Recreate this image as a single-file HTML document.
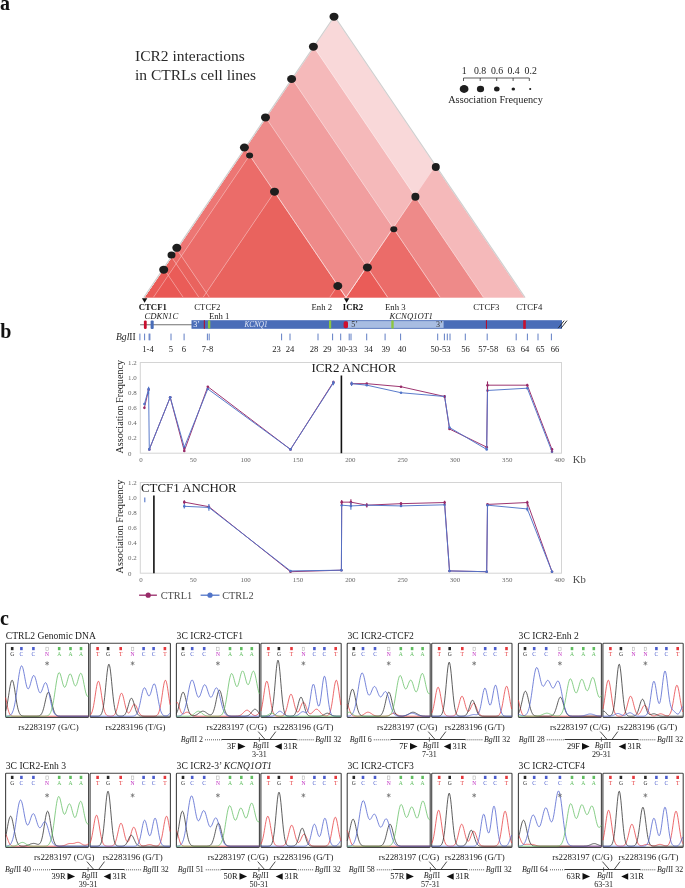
<!DOCTYPE html>
<html><head><meta charset="utf-8"><title>Figure</title>
<style>
html,body{margin:0;padding:0;background:#fff;}
body{width:685px;height:888px;overflow:hidden;position:relative;font-family:"Liberation Serif",serif;}
svg{position:absolute;left:0;top:0;}
svg text{font-family:"Liberation Serif",serif;}
</style></head><body>
<svg style="will-change:transform" width="685" height="888" viewBox="0 0 685 888" font-family="Liberation Serif">
<text x="0.00" y="9.60" font-size="20" fill="#111" text-anchor="start" font-weight="bold">a</text>
<text x="0.30" y="338.20" font-size="20" fill="#111" text-anchor="start" font-weight="bold">b</text>
<text x="0.00" y="624.50" font-size="20" fill="#111" text-anchor="start" font-weight="bold">c</text>
<path d="M163.70,268.58 L144.10,297.50 L153.30,297.50 L168.30,275.37 Z" fill="rgb(234, 92, 88)" stroke="rgb(234, 92, 88)" stroke-width="0.4"/>
<path d="M171.55,256.99 L163.70,268.58 L168.30,275.37 L176.15,263.78 Z" fill="rgb(233, 99, 94)" stroke="rgb(233, 99, 94)" stroke-width="0.4"/>
<path d="M176.80,249.25 L171.55,256.99 L176.15,263.78 L181.40,256.04 Z" fill="rgb(235, 108, 105)" stroke="rgb(235, 108, 105)" stroke-width="0.4"/>
<path d="M245.05,148.54 L176.80,249.25 L181.40,256.04 L249.65,155.33 Z" fill="rgb(237, 118, 116)" stroke="rgb(237, 118, 116)" stroke-width="0.4"/>
<path d="M265.95,117.70 L245.05,148.54 L249.65,155.33 L274.50,191.99 L337.80,285.40 L346.00,297.50 L366.90,266.66 Z" fill="rgb(238, 138, 137)" stroke="rgb(238, 138, 137)" stroke-width="0.4"/>
<path d="M292.20,78.96 L265.95,117.70 L366.90,266.66 L393.15,227.93 Z" fill="rgb(241, 158, 159)" stroke="rgb(241, 158, 159)" stroke-width="0.4"/>
<path d="M313.85,47.02 L292.20,78.96 L393.15,227.93 L414.80,195.98 Z" fill="rgb(245, 185, 186)" stroke="rgb(245, 185, 186)" stroke-width="0.4"/>
<path d="M435.38,165.62 L334.43,16.66 L313.85,47.02 L414.80,195.98 Z" fill="rgb(249, 216, 217)" stroke="rgb(249, 216, 217)" stroke-width="0.4"/>
<path d="M524.75,297.50 L435.38,165.62 L414.80,195.98 L483.60,297.50 Z" fill="rgb(245, 185, 186)" stroke="rgb(245, 185, 186)" stroke-width="0.4"/>
<path d="M440.30,297.50 L483.60,297.50 L414.80,195.98 L393.15,227.93 Z" fill="rgb(238, 138, 137)" stroke="rgb(238, 138, 137)" stroke-width="0.4"/>
<path d="M387.80,297.50 L440.30,297.50 L393.15,227.93 L366.90,266.66 Z" fill="rgb(235, 108, 105)" stroke="rgb(235, 108, 105)" stroke-width="0.4"/>
<path d="M346.00,297.50 L387.80,297.50 L366.90,266.66 Z" fill="rgb(234, 92, 88)" stroke="rgb(234, 92, 88)" stroke-width="0.4"/>
<path d="M329.60,297.50 L346.00,297.50 L337.80,285.40 Z" fill="rgb(234, 92, 88)" stroke="rgb(234, 92, 88)" stroke-width="0.4"/>
<path d="M209.50,297.50 L329.60,297.50 L337.80,285.40 L274.50,191.99 L206.25,292.70 Z" fill="rgb(233, 99, 94)" stroke="rgb(233, 99, 94)" stroke-width="0.4"/>
<path d="M203.00,297.50 L209.50,297.50 L206.25,292.70 Z" fill="rgb(234, 92, 88)" stroke="rgb(234, 92, 88)" stroke-width="0.4"/>
<path d="M199.00,297.50 L203.00,297.50 L206.25,292.70 L181.40,256.04 L176.15,263.78 Z" fill="rgb(233, 99, 94)" stroke="rgb(233, 99, 94)" stroke-width="0.4"/>
<path d="M183.30,297.50 L199.00,297.50 L176.15,263.78 L168.30,275.37 Z" fill="rgb(234, 92, 88)" stroke="rgb(234, 92, 88)" stroke-width="0.4"/>
<path d="M153.30,297.50 L183.30,297.50 L168.30,275.37 Z" fill="rgb(233, 88, 84)" stroke="rgb(233, 88, 84)" stroke-width="0.4"/>
<path d="M274.50,191.99 L249.65,155.33 L181.40,256.04 L206.25,292.70 Z" fill="rgb(235, 108, 105)" stroke="rgb(235, 108, 105)" stroke-width="0.4"/>
<path d="M144.10,297.5 L334.43,16.66 L524.75,297.5" fill="none" stroke="rgba(255,255,255,0.3)" stroke-width="1"/>
<path d="M144.10,297.5 L313.85,47.02 L483.60,297.5" fill="none" stroke="rgba(255,255,255,0.3)" stroke-width="1"/>
<path d="M144.10,297.5 L292.20,78.96 L440.30,297.5" fill="none" stroke="rgba(255,255,255,0.3)" stroke-width="1"/>
<path d="M144.10,297.5 L265.95,117.70 L387.80,297.5" fill="none" stroke="rgba(255,255,255,0.3)" stroke-width="1"/>
<path d="M144.10,297.5 L245.05,148.54 L346.00,297.5" fill="none" stroke="rgba(255,255,255,0.3)" stroke-width="1"/>
<path d="M144.10,297.5 L176.80,249.25 L209.50,297.5" fill="none" stroke="rgba(255,255,255,0.3)" stroke-width="1"/>
<path d="M144.10,297.5 L171.55,256.99 L199.00,297.5" fill="none" stroke="rgba(255,255,255,0.3)" stroke-width="1"/>
<path d="M144.10,297.5 L163.70,268.58 L183.30,297.5" fill="none" stroke="rgba(255,255,255,0.3)" stroke-width="1"/>
<path d="M153.30,297.5 L249.65,155.33 L346.00,297.5" fill="none" stroke="rgba(255,255,255,0.3)" stroke-width="1"/>
<path d="M203.00,297.5 L274.50,191.99 L346.00,297.5" fill="none" stroke="rgba(255,255,255,0.3)" stroke-width="1"/>
<path d="M329.60,297.5 L337.80,285.40 L346.00,297.5" fill="none" stroke="rgba(255,255,255,0.3)" stroke-width="1"/>
<path d="M346.00,297.5 L366.90,266.66 L387.80,297.5" fill="none" stroke="rgba(255,255,255,0.3)" stroke-width="1"/>
<path d="M346.00,297.5 L393.15,227.93 L440.30,297.5" fill="none" stroke="rgba(255,255,255,0.3)" stroke-width="1"/>
<path d="M346.00,297.5 L414.80,195.98 L483.60,297.5" fill="none" stroke="rgba(255,255,255,0.3)" stroke-width="1"/>
<path d="M346.00,297.5 L435.38,165.62 L524.75,297.5" fill="none" stroke="rgba(255,255,255,0.3)" stroke-width="1"/>
<path d="M143.80,297.5 L334.43,16.26 L525.05,297.5" fill="none" stroke="#d0d0d0" stroke-width="1.2"/>
<ellipse cx="334.00" cy="16.70" rx="4.5" ry="4.0" fill="#1e1e1e"/>
<ellipse cx="313.40" cy="46.70" rx="4.5" ry="4.0" fill="#1e1e1e"/>
<ellipse cx="291.60" cy="79.00" rx="4.5" ry="4.0" fill="#1e1e1e"/>
<ellipse cx="265.50" cy="117.40" rx="4.5" ry="4.0" fill="#1e1e1e"/>
<ellipse cx="244.40" cy="147.50" rx="4.5" ry="4.0" fill="#1e1e1e"/>
<ellipse cx="176.80" cy="247.80" rx="4.5" ry="4.0" fill="#1e1e1e"/>
<ellipse cx="171.50" cy="255.10" rx="4.0" ry="3.5" fill="#1e1e1e"/>
<ellipse cx="163.70" cy="269.70" rx="4.5" ry="4.0" fill="#1e1e1e"/>
<ellipse cx="249.60" cy="155.50" rx="3.5" ry="3.0" fill="#1e1e1e"/>
<ellipse cx="274.50" cy="191.70" rx="4.5" ry="4.0" fill="#1e1e1e"/>
<ellipse cx="337.80" cy="286.00" rx="4.5" ry="4.0" fill="#1e1e1e"/>
<ellipse cx="367.40" cy="267.40" rx="4.5" ry="4.0" fill="#1e1e1e"/>
<ellipse cx="393.80" cy="229.30" rx="3.5" ry="3.0" fill="#1e1e1e"/>
<ellipse cx="415.40" cy="196.80" rx="4.0" ry="4.0" fill="#1e1e1e"/>
<ellipse cx="435.80" cy="167.00" rx="4.0" ry="4.0" fill="#1e1e1e"/>
<text x="135.00" y="61.00" font-size="15.5" fill="#2a2a2a" text-anchor="start">ICR2 interactions</text>
<text x="135.00" y="79.70" font-size="15.5" fill="#2a2a2a" text-anchor="start">in CTRLs cell lines</text>
<text x="464.10" y="73.80" font-size="9.8" fill="#222" text-anchor="middle">1</text>
<text x="480.10" y="73.80" font-size="9.8" fill="#222" text-anchor="middle">0.8</text>
<text x="497.00" y="73.80" font-size="9.8" fill="#222" text-anchor="middle">0.6</text>
<text x="513.50" y="73.80" font-size="9.8" fill="#222" text-anchor="middle">0.4</text>
<text x="530.70" y="73.80" font-size="9.8" fill="#222" text-anchor="middle">0.2</text>
<path d="M463.5,81 V78 H529.3 V81 M480.2,78 V81 M496.7,78 V81 M513.1,78 V81" fill="none" stroke="#333" stroke-width="0.8"/>
<ellipse cx="464.1" cy="89" rx="4.4" ry="3.9600000000000004" fill="#1e1e1e"/>
<ellipse cx="480.5" cy="89" rx="3.6" ry="3.24" fill="#1e1e1e"/>
<ellipse cx="496.8" cy="89" rx="2.8" ry="2.52" fill="#1e1e1e"/>
<ellipse cx="513.3" cy="89" rx="1.75" ry="1.575" fill="#1e1e1e"/>
<ellipse cx="530.2" cy="89" rx="1.05" ry="0.9450000000000001" fill="#1e1e1e"/>
<text x="448.20" y="102.90" font-size="10.3" fill="#222" text-anchor="start">Association Frequency</text>
<path d="M144.6,302.8 L141.9,298.2 L147.3,298.2 Z" fill="#111"/>
<path d="M346.6,302.8 L343.9,298.2 L349.3,298.2 Z" fill="#111"/>
<text x="138.80" y="310.40" font-size="8.7" fill="#111" text-anchor="start" font-weight="bold">CTCF1</text>
<text x="144.40" y="318.60" font-size="8.7" fill="#222" text-anchor="start" font-style="italic">CDKN1C</text>
<text x="194.30" y="310.40" font-size="8.7" fill="#222" text-anchor="start">CTCF2</text>
<text x="208.90" y="318.60" font-size="8.7" fill="#222" text-anchor="start">Enh 1</text>
<text x="311.50" y="310.40" font-size="8.7" fill="#222" text-anchor="start">Enh 2</text>
<text x="342.80" y="310.40" font-size="8.7" fill="#111" text-anchor="start" font-weight="bold">ICR2</text>
<text x="385.00" y="310.40" font-size="8.7" fill="#222" text-anchor="start">Enh 3</text>
<text x="389.50" y="318.60" font-size="8.7" fill="#222" text-anchor="start" font-style="italic">KCNQ1OT1</text>
<text x="473.30" y="310.40" font-size="8.7" fill="#222" text-anchor="start">CTCF3</text>
<text x="516.20" y="310.40" font-size="8.7" fill="#222" text-anchor="start">CTCF4</text>
<line x1="140.1" y1="324.7" x2="192" y2="324.7" stroke="#707070" stroke-width="1.1"/>
<rect x="191.5" y="320.2" width="370.5" height="8.6" fill="#4a6db8"/>
<rect x="347.6" y="321.1" width="96" height="6.8" fill="#a8bde2"/>
<rect x="143.9" y="320.4" width="2.8" height="8.6" rx="1.2" fill="#c8102e"/>
<rect x="150.6" y="320.4" width="3.1" height="8.6" rx="1" fill="#4a6db8"/>
<rect x="203.8" y="320.2" width="1.1" height="8.6" fill="#b01030"/>
<rect x="207.9" y="320.2" width="2.4" height="8.6" rx="1.2" fill="#8cc63f"/>
<rect x="329" y="320.2" width="2.2" height="8.6" rx="1.1" fill="#8cc63f"/>
<rect x="343.6" y="321.2" width="4.4" height="7" rx="1.8" fill="#d0102e"/>
<rect x="391.3" y="320.2" width="2.4" height="8.6" rx="1.2" fill="#8cc63f"/>
<rect x="485.9" y="320.2" width="1.1" height="8.6" fill="#b01030"/>
<rect x="523.2" y="320.2" width="2.6" height="8.6" fill="#c8102e"/>
<path d="M558.2,328.2 L564.2,320.6 M561,328.2 L567,320.6" stroke="#222" stroke-width="0.9"/>
<text x="193.20" y="327.40" font-size="8" fill="#f0f4ff" text-anchor="start">3&#8217;</text>
<text x="351.20" y="327.40" font-size="8" fill="#333" text-anchor="start">5&#8217;</text>
<text x="436.00" y="327.40" font-size="8" fill="#333" text-anchor="start">3&#8217;</text>
<text x="256.00" y="327.30" font-size="7.2" fill="#e8ecf8" text-anchor="middle" font-style="italic">KCNQ1</text>
<text x="116.00" y="340.30" font-size="9.6" fill="#222" text-anchor="start"><tspan font-style="italic">Bgl</tspan>II</text>
<line x1="139.9" y1="333.6" x2="139.9" y2="340.3" stroke="#4f6fbd" stroke-width="0.9"/>
<line x1="144.6" y1="333.6" x2="144.6" y2="340.3" stroke="#4f6fbd" stroke-width="0.9"/>
<line x1="149.1" y1="333.6" x2="149.1" y2="340.3" stroke="#4f6fbd" stroke-width="0.9"/>
<line x1="149.9" y1="333.6" x2="149.9" y2="340.3" stroke="#4f6fbd" stroke-width="0.9"/>
<line x1="171" y1="333.6" x2="171" y2="340.3" stroke="#4f6fbd" stroke-width="0.9"/>
<line x1="184.1" y1="333.6" x2="184.1" y2="340.3" stroke="#4f6fbd" stroke-width="0.9"/>
<line x1="207.4" y1="333.6" x2="207.4" y2="340.3" stroke="#4f6fbd" stroke-width="0.9"/>
<line x1="209.2" y1="333.6" x2="209.2" y2="340.3" stroke="#4f6fbd" stroke-width="0.9"/>
<line x1="281.6" y1="333.6" x2="281.6" y2="340.3" stroke="#4f6fbd" stroke-width="0.9"/>
<line x1="290" y1="333.6" x2="290" y2="340.3" stroke="#4f6fbd" stroke-width="0.9"/>
<line x1="318" y1="333.6" x2="318" y2="340.3" stroke="#4f6fbd" stroke-width="0.9"/>
<line x1="332.6" y1="333.6" x2="332.6" y2="340.3" stroke="#4f6fbd" stroke-width="0.9"/>
<line x1="340.7" y1="333.6" x2="340.7" y2="340.3" stroke="#4f6fbd" stroke-width="0.9"/>
<line x1="349.2" y1="333.6" x2="349.2" y2="340.3" stroke="#4f6fbd" stroke-width="0.9"/>
<line x1="351" y1="333.6" x2="351" y2="340.3" stroke="#4f6fbd" stroke-width="0.9"/>
<line x1="366.7" y1="333.6" x2="366.7" y2="340.3" stroke="#4f6fbd" stroke-width="0.9"/>
<line x1="385.1" y1="333.6" x2="385.1" y2="340.3" stroke="#4f6fbd" stroke-width="0.9"/>
<line x1="400.6" y1="333.6" x2="400.6" y2="340.3" stroke="#4f6fbd" stroke-width="0.9"/>
<line x1="437.7" y1="333.6" x2="437.7" y2="340.3" stroke="#4f6fbd" stroke-width="0.9"/>
<line x1="444.4" y1="333.6" x2="444.4" y2="340.3" stroke="#4f6fbd" stroke-width="0.9"/>
<line x1="447.3" y1="333.6" x2="447.3" y2="340.3" stroke="#4f6fbd" stroke-width="0.9"/>
<line x1="450" y1="333.6" x2="450" y2="340.3" stroke="#4f6fbd" stroke-width="0.9"/>
<line x1="465.3" y1="333.6" x2="465.3" y2="340.3" stroke="#4f6fbd" stroke-width="0.9"/>
<line x1="487.2" y1="333.6" x2="487.2" y2="340.3" stroke="#4f6fbd" stroke-width="0.9"/>
<line x1="516.2" y1="333.6" x2="516.2" y2="340.3" stroke="#4f6fbd" stroke-width="0.9"/>
<line x1="527.4" y1="333.6" x2="527.4" y2="340.3" stroke="#4f6fbd" stroke-width="0.9"/>
<line x1="538" y1="333.6" x2="538" y2="340.3" stroke="#4f6fbd" stroke-width="0.9"/>
<line x1="551.4" y1="333.6" x2="551.4" y2="340.3" stroke="#4f6fbd" stroke-width="0.9"/>
<text x="148.00" y="352.00" font-size="8.6" fill="#222" text-anchor="middle">1-4</text>
<text x="171.00" y="352.00" font-size="8.6" fill="#222" text-anchor="middle">5</text>
<text x="184.00" y="352.00" font-size="8.6" fill="#222" text-anchor="middle">6</text>
<text x="207.60" y="352.00" font-size="8.6" fill="#222" text-anchor="middle">7-8</text>
<text x="276.50" y="352.00" font-size="8.6" fill="#222" text-anchor="middle">23</text>
<text x="290.00" y="352.00" font-size="8.6" fill="#222" text-anchor="middle">24</text>
<text x="314.00" y="352.00" font-size="8.6" fill="#222" text-anchor="middle">28</text>
<text x="327.30" y="352.00" font-size="8.6" fill="#222" text-anchor="middle">29</text>
<text x="347.20" y="352.00" font-size="8.6" fill="#222" text-anchor="middle">30-33</text>
<text x="368.50" y="352.00" font-size="8.6" fill="#222" text-anchor="middle">34</text>
<text x="385.70" y="352.00" font-size="8.6" fill="#222" text-anchor="middle">39</text>
<text x="402.00" y="352.00" font-size="8.6" fill="#222" text-anchor="middle">40</text>
<text x="440.60" y="352.00" font-size="8.6" fill="#222" text-anchor="middle">50-53</text>
<text x="465.60" y="352.00" font-size="8.6" fill="#222" text-anchor="middle">56</text>
<text x="488.20" y="352.00" font-size="8.6" fill="#222" text-anchor="middle">57-58</text>
<text x="510.70" y="352.00" font-size="8.6" fill="#222" text-anchor="middle">63</text>
<text x="525.00" y="352.00" font-size="8.6" fill="#222" text-anchor="middle">64</text>
<text x="540.30" y="352.00" font-size="8.6" fill="#222" text-anchor="middle">65</text>
<text x="555.00" y="352.00" font-size="8.6" fill="#222" text-anchor="middle">66</text>
<rect x="140.3" y="362.5" width="421.2" height="90.69999999999999" fill="none" stroke="#d4d4d4" stroke-width="1"/>
<text x="128.10" y="455.50" font-size="6.9" fill="#666" text-anchor="start">0</text>
<text x="128.10" y="440.38" font-size="6.9" fill="#666" text-anchor="start">0.2</text>
<text x="128.10" y="425.27" font-size="6.9" fill="#666" text-anchor="start">0.4</text>
<text x="128.10" y="410.15" font-size="6.9" fill="#666" text-anchor="start">0.6</text>
<text x="128.10" y="395.03" font-size="6.9" fill="#666" text-anchor="start">0.8</text>
<text x="128.10" y="379.92" font-size="6.9" fill="#666" text-anchor="start">1.0</text>
<text x="128.10" y="364.80" font-size="6.9" fill="#666" text-anchor="start">1.2</text>
<text x="141.00" y="461.60" font-size="6.9" fill="#666" text-anchor="middle">0</text>
<text x="193.32" y="461.60" font-size="6.9" fill="#666" text-anchor="middle">50</text>
<text x="245.65" y="461.60" font-size="6.9" fill="#666" text-anchor="middle">100</text>
<text x="297.98" y="461.60" font-size="6.9" fill="#666" text-anchor="middle">150</text>
<text x="350.30" y="461.60" font-size="6.9" fill="#666" text-anchor="middle">200</text>
<text x="402.62" y="461.60" font-size="6.9" fill="#666" text-anchor="middle">250</text>
<text x="454.95" y="461.60" font-size="6.9" fill="#666" text-anchor="middle">300</text>
<text x="507.27" y="461.60" font-size="6.9" fill="#666" text-anchor="middle">350</text>
<text x="559.60" y="461.60" font-size="6.9" fill="#666" text-anchor="middle">400</text>
<text x="572.80" y="462.80" font-size="10.6" fill="#4a4a4a" text-anchor="start">Kb</text>
<text x="0" y="0" font-size="10.2" fill="#222" text-anchor="middle" transform="translate(123.0,406.7) rotate(-90)">Association Frequency</text>
<text x="311.40" y="372.30" font-size="12.9" fill="#1a1a1a" text-anchor="start">ICR2 ANCHOR</text>
<line x1="341.4" y1="375.5" x2="341.4" y2="453.2" stroke="#111" stroke-width="1.6"/>
<path d="M144.40,407.85 L148.60,389.71" fill="none" stroke="#982a68" stroke-width="0.95"/>
<circle cx="144.40" cy="407.85" r="1.3" fill="#982a68"/>
<circle cx="148.60" cy="389.71" r="1.3" fill="#982a68"/>
<path d="M149.30,449.42 L170.20,397.27 L184.30,450.93 L207.80,386.69 L290.50,449.42 L333.40,382.15" fill="none" stroke="#982a68" stroke-width="0.95"/>
<circle cx="149.30" cy="449.42" r="1.3" fill="#982a68"/>
<circle cx="170.20" cy="397.27" r="1.3" fill="#982a68"/>
<circle cx="184.30" cy="450.93" r="1.3" fill="#982a68"/>
<circle cx="207.80" cy="386.69" r="1.3" fill="#982a68"/>
<circle cx="290.50" cy="449.42" r="1.3" fill="#982a68"/>
<circle cx="333.40" cy="382.15" r="1.3" fill="#982a68"/>
<path d="M351.60,383.66 L366.80,383.66 L401.00,386.69 L444.60,396.51 L449.50,429.01 L486.70,447.15 L487.50,385.18 L527.30,385.18 L552.00,449.42" fill="none" stroke="#982a68" stroke-width="0.95"/>
<circle cx="351.60" cy="383.66" r="1.3" fill="#982a68"/>
<circle cx="366.80" cy="383.66" r="1.3" fill="#982a68"/>
<circle cx="401.00" cy="386.69" r="1.3" fill="#982a68"/>
<circle cx="444.60" cy="396.51" r="1.3" fill="#982a68"/>
<circle cx="449.50" cy="429.01" r="1.3" fill="#982a68"/>
<circle cx="486.70" cy="447.15" r="1.3" fill="#982a68"/>
<circle cx="487.50" cy="385.18" r="1.3" fill="#982a68"/>
<circle cx="527.30" cy="385.18" r="1.3" fill="#982a68"/>
<circle cx="552.00" cy="449.42" r="1.3" fill="#982a68"/>
<path d="M144.40,404.07 L148.60,388.95 L149.30,449.42 L170.20,397.27 L184.30,447.15 L207.80,388.95 L290.50,449.42 L333.40,382.91" fill="none" stroke="#5174c8" stroke-width="0.95"/>
<circle cx="144.40" cy="404.07" r="1.3" fill="#5174c8"/>
<circle cx="148.60" cy="388.95" r="1.3" fill="#5174c8"/>
<circle cx="149.30" cy="449.42" r="1.3" fill="#5174c8"/>
<circle cx="170.20" cy="397.27" r="1.3" fill="#5174c8"/>
<circle cx="184.30" cy="447.15" r="1.3" fill="#5174c8"/>
<circle cx="207.80" cy="388.95" r="1.3" fill="#5174c8"/>
<circle cx="290.50" cy="449.42" r="1.3" fill="#5174c8"/>
<circle cx="333.40" cy="382.91" r="1.3" fill="#5174c8"/>
<path d="M351.60,383.66 L366.80,385.18 L401.00,392.73 L444.60,396.51 L449.50,427.50 L486.70,449.42 L487.50,390.47 L527.30,388.20 L552.00,451.69" fill="none" stroke="#5174c8" stroke-width="0.95"/>
<circle cx="351.60" cy="383.66" r="1.3" fill="#5174c8"/>
<circle cx="366.80" cy="385.18" r="1.3" fill="#5174c8"/>
<circle cx="401.00" cy="392.73" r="1.3" fill="#5174c8"/>
<circle cx="444.60" cy="396.51" r="1.3" fill="#5174c8"/>
<circle cx="449.50" cy="427.50" r="1.3" fill="#5174c8"/>
<circle cx="486.70" cy="449.42" r="1.3" fill="#5174c8"/>
<circle cx="487.50" cy="390.47" r="1.3" fill="#5174c8"/>
<circle cx="527.30" cy="388.20" r="1.3" fill="#5174c8"/>
<circle cx="552.00" cy="451.69" r="1.3" fill="#5174c8"/>
<line x1="148.60" y1="386.69" x2="148.60" y2="394.25" stroke="#5174c8" stroke-width="1.1"/>
<line x1="333.40" y1="380.64" x2="333.40" y2="385.18" stroke="#5174c8" stroke-width="1.1"/>
<line x1="351.60" y1="381.40" x2="351.60" y2="385.93" stroke="#5174c8" stroke-width="1.1"/>
<line x1="487.50" y1="381.40" x2="487.50" y2="391.98" stroke="#982a68" stroke-width="1.1"/>
<line x1="552.00" y1="447.91" x2="552.00" y2="452.44" stroke="#982a68" stroke-width="1.1"/>
<line x1="444.60" y1="395.00" x2="444.60" y2="398.02" stroke="#982a68" stroke-width="1.1"/>
<line x1="527.30" y1="383.66" x2="527.30" y2="386.69" stroke="#982a68" stroke-width="1.1"/>
<line x1="184.30" y1="447.15" x2="184.30" y2="451.69" stroke="#982a68" stroke-width="1.1"/>
<rect x="140.3" y="482.5" width="421.2" height="90.70000000000005" fill="none" stroke="#d4d4d4" stroke-width="1"/>
<text x="128.10" y="575.50" font-size="6.9" fill="#666" text-anchor="start">0</text>
<text x="128.10" y="560.38" font-size="6.9" fill="#666" text-anchor="start">0.2</text>
<text x="128.10" y="545.27" font-size="6.9" fill="#666" text-anchor="start">0.4</text>
<text x="128.10" y="530.15" font-size="6.9" fill="#666" text-anchor="start">0.6</text>
<text x="128.10" y="515.03" font-size="6.9" fill="#666" text-anchor="start">0.8</text>
<text x="128.10" y="499.92" font-size="6.9" fill="#666" text-anchor="start">1.0</text>
<text x="128.10" y="484.80" font-size="6.9" fill="#666" text-anchor="start">1.2</text>
<text x="141.00" y="581.60" font-size="6.9" fill="#666" text-anchor="middle">0</text>
<text x="193.32" y="581.60" font-size="6.9" fill="#666" text-anchor="middle">50</text>
<text x="245.65" y="581.60" font-size="6.9" fill="#666" text-anchor="middle">100</text>
<text x="297.98" y="581.60" font-size="6.9" fill="#666" text-anchor="middle">150</text>
<text x="350.30" y="581.60" font-size="6.9" fill="#666" text-anchor="middle">200</text>
<text x="402.62" y="581.60" font-size="6.9" fill="#666" text-anchor="middle">250</text>
<text x="454.95" y="581.60" font-size="6.9" fill="#666" text-anchor="middle">300</text>
<text x="507.27" y="581.60" font-size="6.9" fill="#666" text-anchor="middle">350</text>
<text x="559.60" y="581.60" font-size="6.9" fill="#666" text-anchor="middle">400</text>
<text x="572.80" y="582.80" font-size="10.6" fill="#4a4a4a" text-anchor="start">Kb</text>
<text x="0" y="0" font-size="10.2" fill="#222" text-anchor="middle" transform="translate(123.0,526.6) rotate(-90)">Association Frequency</text>
<text x="141.00" y="492.30" font-size="12.9" fill="#1a1a1a" text-anchor="start">CTCF1 ANCHOR</text>
<line x1="153.9" y1="495.5" x2="153.9" y2="573.2" stroke="#111" stroke-width="1.6"/>
<path d="M184.30,502.15 L208.90,506.69 L290.50,571.69 L341.40,570.18 L341.70,502.15 L350.90,502.15 L366.80,505.18 L401.00,503.66 L444.60,502.53 L449.50,570.93 L486.70,571.69 L487.50,504.42 L527.30,502.53 L552.00,571.69" fill="none" stroke="#982a68" stroke-width="0.95"/>
<circle cx="184.30" cy="502.15" r="1.3" fill="#982a68"/>
<circle cx="208.90" cy="506.69" r="1.3" fill="#982a68"/>
<circle cx="290.50" cy="571.69" r="1.3" fill="#982a68"/>
<circle cx="341.40" cy="570.18" r="1.3" fill="#982a68"/>
<circle cx="341.70" cy="502.15" r="1.3" fill="#982a68"/>
<circle cx="350.90" cy="502.15" r="1.3" fill="#982a68"/>
<circle cx="366.80" cy="505.18" r="1.3" fill="#982a68"/>
<circle cx="401.00" cy="503.66" r="1.3" fill="#982a68"/>
<circle cx="444.60" cy="502.53" r="1.3" fill="#982a68"/>
<circle cx="449.50" cy="570.93" r="1.3" fill="#982a68"/>
<circle cx="486.70" cy="571.69" r="1.3" fill="#982a68"/>
<circle cx="487.50" cy="504.42" r="1.3" fill="#982a68"/>
<circle cx="527.30" cy="502.53" r="1.3" fill="#982a68"/>
<circle cx="552.00" cy="571.69" r="1.3" fill="#982a68"/>
<path d="M184.30,506.31 L208.90,507.44 L290.50,570.93 L341.40,570.18 L341.70,505.18 L350.90,505.93 L366.80,505.18 L401.00,505.93 L444.60,504.80 L449.50,570.93 L486.70,571.69 L487.50,505.18 L527.30,508.95 L552.00,571.69" fill="none" stroke="#5174c8" stroke-width="0.95"/>
<circle cx="184.30" cy="506.31" r="1.3" fill="#5174c8"/>
<circle cx="208.90" cy="507.44" r="1.3" fill="#5174c8"/>
<circle cx="290.50" cy="570.93" r="1.3" fill="#5174c8"/>
<circle cx="341.40" cy="570.18" r="1.3" fill="#5174c8"/>
<circle cx="341.70" cy="505.18" r="1.3" fill="#5174c8"/>
<circle cx="350.90" cy="505.93" r="1.3" fill="#5174c8"/>
<circle cx="366.80" cy="505.18" r="1.3" fill="#5174c8"/>
<circle cx="401.00" cy="505.93" r="1.3" fill="#5174c8"/>
<circle cx="444.60" cy="504.80" r="1.3" fill="#5174c8"/>
<circle cx="449.50" cy="570.93" r="1.3" fill="#5174c8"/>
<circle cx="486.70" cy="571.69" r="1.3" fill="#5174c8"/>
<circle cx="487.50" cy="505.18" r="1.3" fill="#5174c8"/>
<circle cx="527.30" cy="508.95" r="1.3" fill="#5174c8"/>
<circle cx="552.00" cy="571.69" r="1.3" fill="#5174c8"/>
<line x1="144.80" y1="497.62" x2="144.80" y2="502.15" stroke="#5174c8" stroke-width="1.1"/>
<line x1="184.30" y1="500.26" x2="184.30" y2="504.04" stroke="#982a68" stroke-width="1.1"/>
<line x1="184.30" y1="504.04" x2="184.30" y2="508.58" stroke="#5174c8" stroke-width="1.1"/>
<line x1="350.90" y1="499.13" x2="350.90" y2="505.18" stroke="#982a68" stroke-width="1.1"/>
<line x1="350.90" y1="502.15" x2="350.90" y2="509.71" stroke="#5174c8" stroke-width="1.1"/>
<line x1="341.70" y1="499.88" x2="341.70" y2="504.42" stroke="#982a68" stroke-width="1.1"/>
<line x1="366.80" y1="502.91" x2="366.80" y2="507.44" stroke="#982a68" stroke-width="1.1"/>
<line x1="444.60" y1="500.64" x2="444.60" y2="504.42" stroke="#982a68" stroke-width="1.1"/>
<line x1="527.30" y1="500.64" x2="527.30" y2="506.69" stroke="#982a68" stroke-width="1.1"/>
<line x1="527.30" y1="506.69" x2="527.30" y2="511.22" stroke="#5174c8" stroke-width="1.1"/>
<line x1="401.00" y1="502.15" x2="401.00" y2="505.18" stroke="#982a68" stroke-width="1.1"/>
<line x1="208.90" y1="504.04" x2="208.90" y2="510.84" stroke="#5174c8" stroke-width="1.1"/>
<line x1="139.1" y1="595.2" x2="156.9" y2="595.2" stroke="#982a68" stroke-width="1.3"/><circle cx="148.2" cy="595.2" r="2.6" fill="#982a68"/>
<text x="160.70" y="599.00" font-size="10.3" fill="#4a4a4a" text-anchor="start">CTRL1</text>
<line x1="200.6" y1="595.2" x2="219.5" y2="595.2" stroke="#5174c8" stroke-width="1.3"/><circle cx="210" cy="595.2" r="2.6" fill="#5174c8"/>
<text x="222.20" y="599.00" font-size="10.3" fill="#4a4a4a" text-anchor="start">CTRL2</text>
<text x="5.80" y="638.80" font-size="9.6" fill="#222" text-anchor="start">CTRL2 Genomic DNA</text>
<rect x="5.6" y="643.2" width="83" height="74.2" rx="0.8" fill="#fff" stroke="#444" stroke-width="1.1"/>
<polyline points="5.6,697.6 6.1,699.8 6.6,702.3 7.1,704.9 7.6,707.3 8.1,709.5 8.6,711.3 9.1,712.7 9.6,713.9 10.1,714.7 10.6,715.2 11.1,715.6 11.6,715.9 12.1,716.0 12.6,716.1 13.1,716.1 13.6,716.2 14.1,716.2 14.6,716.2 15.1,716.2 15.6,716.2 16.1,716.2 16.6,716.2 17.1,716.2 17.6,716.2 18.1,716.2 18.6,716.2 19.1,716.2 19.6,716.2 20.1,716.2 20.6,716.2 21.1,716.2 21.6,716.2 22.1,716.2 22.6,716.2 23.1,716.2 23.6,716.2 24.1,716.2 24.6,716.2 25.1,716.2 25.6,716.2 26.1,716.2 26.6,716.2 27.1,716.2 27.6,716.2 28.1,716.2 28.6,716.2 29.1,716.2 29.6,716.2 30.1,716.2 30.6,716.2 31.1,716.2 31.6,716.2 32.1,716.2 32.6,716.2 33.1,716.2 33.6,716.2 34.1,716.2 34.6,716.2 35.1,716.2 35.6,716.2 36.1,716.2 36.6,716.2 37.1,716.2 37.6,716.2 38.1,716.2 38.6,716.2 39.1,716.2 39.6,716.2 40.1,716.2 40.6,716.2 41.1,716.2 41.6,716.2 42.1,716.2 42.6,716.2 43.1,716.2 43.6,716.2 44.1,716.2 44.6,716.2 45.1,716.2 45.6,716.2 46.1,716.2 46.6,716.2 47.1,716.2 47.6,716.2 48.1,716.2 48.6,716.2 49.1,716.2 49.6,716.2 50.1,716.2 50.6,716.2 51.1,716.2 51.6,716.2 52.1,716.2 52.6,716.2 53.1,716.2 53.6,716.2 54.1,716.2 54.6,716.2 55.1,716.2 55.6,716.2 56.1,716.2 56.6,716.2 57.1,716.2 57.6,716.2 58.1,716.2 58.6,716.2 59.1,716.2 59.6,716.2 60.1,716.2 60.6,716.2 61.1,716.2 61.6,716.2 62.1,716.2 62.6,716.2 63.1,716.2 63.6,716.2 64.1,716.2 64.6,716.2 65.1,716.2 65.6,716.2 66.1,716.2 66.6,716.2 67.1,716.2 67.6,716.2 68.1,716.2 68.6,716.2 69.1,716.2 69.6,716.2 70.1,716.2 70.6,716.2 71.1,716.2 71.6,716.2 72.1,716.2 72.6,716.2 73.1,716.2 73.6,716.2 74.1,716.2 74.6,716.2 75.1,716.2 75.6,716.2 76.1,716.2 76.6,716.2 77.1,716.2 77.6,716.2 78.1,716.2 78.6,716.2 79.1,716.2 79.6,716.2 80.1,716.2 80.6,716.2 81.1,716.2 81.6,716.2 82.1,716.2 82.6,716.2 83.1,716.2 83.6,716.2 84.1,716.2 84.6,716.2 85.1,716.2 85.6,716.2 86.1,716.2 86.6,716.2 87.1,716.2 87.6,716.2 88.1,716.2 88.6,716.2" fill="none" stroke="#e5383c" stroke-width="0.75"/>
<polyline points="5.6,711.0 6.1,709.3 6.6,707.2 7.1,704.8 7.6,702.0 8.1,698.9 8.6,695.7 9.1,692.4 9.6,689.2 10.1,686.2 10.6,683.7 11.1,681.8 11.6,680.6 12.1,680.2 12.6,680.6 13.1,681.8 13.6,683.7 14.1,686.2 14.6,689.2 15.1,692.4 15.6,695.7 16.1,698.9 16.6,702.0 17.1,704.8 17.6,707.2 18.1,709.3 18.6,711.0 19.1,712.4 19.6,713.5 20.1,714.3 20.6,714.9 21.1,715.3 21.6,715.6 22.1,715.8 22.6,716.0 23.1,716.1 23.6,716.1 24.1,716.2 24.6,716.2 25.1,716.2 25.6,716.2 26.1,716.2 26.6,716.2 27.1,716.2 27.6,716.2 28.1,716.2 28.6,716.2 29.1,716.2 29.6,716.2 30.1,716.2 30.6,716.2 31.1,716.2 31.6,716.2 32.1,716.2 32.6,716.2 33.1,716.2 33.6,716.2 34.1,716.2 34.6,716.2 35.1,716.2 35.6,716.2 36.1,716.2 36.6,716.2 37.1,716.2 37.6,716.1 38.1,716.1 38.6,716.0 39.1,715.8 39.6,715.7 40.1,715.4 40.6,715.0 41.1,714.4 41.6,713.7 42.1,712.7 42.6,711.6 43.1,710.1 43.6,708.4 44.1,706.5 44.6,704.3 45.1,702.1 45.6,699.8 46.1,697.7 46.6,695.7 47.1,694.1 47.6,692.9 48.1,692.3 48.6,692.2 49.1,692.8 49.6,693.8 50.1,695.4 50.6,697.3 51.1,699.4 51.6,701.6 52.1,703.9 52.6,706.1 53.1,708.0 53.6,709.8 54.1,711.3 54.6,712.5 55.1,713.5 55.6,714.3 56.1,714.9 56.6,715.3 57.1,715.6 57.6,715.8 58.1,716.0 58.6,716.1 59.1,716.1 59.6,716.1 60.1,716.2 60.6,716.2 61.1,716.2 61.6,716.2 62.1,716.2 62.6,716.2 63.1,716.2 63.6,716.2 64.1,716.2 64.6,716.2 65.1,716.2 65.6,716.2 66.1,716.2 66.6,716.2 67.1,716.2 67.6,716.2 68.1,716.2 68.6,716.2 69.1,716.2 69.6,716.2 70.1,716.2 70.6,716.2 71.1,716.2 71.6,716.2 72.1,716.2 72.6,716.2 73.1,716.2 73.6,716.2 74.1,716.2 74.6,716.2 75.1,716.2 75.6,716.2 76.1,716.2 76.6,716.2 77.1,716.2 77.6,716.2 78.1,716.2 78.6,716.2 79.1,716.2 79.6,716.2 80.1,716.2 80.6,716.2 81.1,716.2 81.6,716.2 82.1,716.2 82.6,716.2 83.1,716.2 83.6,716.2 84.1,716.2 84.6,716.2 85.1,716.2 85.6,716.2 86.1,716.2 86.6,716.2 87.1,716.2 87.6,716.2 88.1,716.2 88.6,716.2" fill="none" stroke="#2a2a2a" stroke-width="0.75"/>
<polyline points="5.6,716.2 6.1,716.2 6.6,716.2 7.1,716.1 7.6,716.1 8.1,716.0 8.6,715.9 9.1,715.8 9.6,715.6 10.1,715.3 10.6,715.0 11.1,714.5 11.6,713.9 12.1,713.0 12.6,712.0 13.1,710.7 13.6,709.1 14.1,707.2 14.6,704.9 15.1,702.3 15.6,699.4 16.1,696.1 16.6,692.6 17.1,688.9 17.6,685.1 18.1,681.3 18.6,677.7 19.1,674.4 19.6,671.5 20.1,669.1 20.6,667.3 21.1,666.2 21.6,665.8 22.1,666.2 22.6,667.3 23.1,668.9 23.6,671.1 24.1,673.6 24.6,676.3 25.1,679.1 25.6,681.7 26.1,684.1 26.6,686.1 27.1,687.6 27.6,688.5 28.1,688.9 28.6,688.7 29.1,687.9 29.6,686.7 30.1,685.2 30.6,683.4 31.1,681.5 31.6,679.7 32.1,678.1 32.6,676.8 33.1,675.9 33.6,675.5 34.1,675.6 34.6,676.2 35.1,677.3 35.6,678.8 36.1,680.6 36.6,682.7 37.1,684.8 37.6,686.9 38.1,688.8 38.6,690.4 39.1,691.7 39.6,692.5 40.1,692.9 40.6,692.7 41.1,692.2 41.6,691.2 42.1,690.0 42.6,688.6 43.1,687.1 43.6,685.7 44.1,684.4 44.6,683.4 45.1,682.8 45.6,682.7 46.1,683.0 46.6,683.8 47.1,685.1 47.6,686.8 48.1,688.8 48.6,691.1 49.1,693.6 49.6,696.2 50.1,698.7 50.6,701.2 51.1,703.5 51.6,705.7 52.1,707.6 52.6,709.3 53.1,710.7 53.6,712.0 54.1,713.0 54.6,713.8 55.1,714.4 55.6,714.9 56.1,715.3 56.6,715.5 57.1,715.7 57.6,715.9 58.1,716.0 58.6,716.1 59.1,716.1 59.6,716.1 60.1,716.2 60.6,716.2 61.1,716.2 61.6,716.2 62.1,716.2 62.6,716.2 63.1,716.2 63.6,716.2 64.1,716.2 64.6,716.2 65.1,716.2 65.6,716.2 66.1,716.2 66.6,716.2 67.1,716.2 67.6,716.2 68.1,716.2 68.6,716.2 69.1,716.2 69.6,716.2 70.1,716.2 70.6,716.2 71.1,716.2 71.6,716.2 72.1,716.2 72.6,716.2 73.1,716.2 73.6,716.2 74.1,716.2 74.6,716.2 75.1,716.2 75.6,716.2 76.1,716.2 76.6,716.2 77.1,716.2 77.6,716.2 78.1,716.2 78.6,716.2 79.1,716.2 79.6,716.2 80.1,716.2 80.6,716.2 81.1,716.2 81.6,716.2 82.1,716.2 82.6,716.2 83.1,716.2 83.6,716.2 84.1,716.2 84.6,716.2 85.1,716.2 85.6,716.2 86.1,716.2 86.6,716.2 87.1,716.2 87.6,716.2 88.1,716.2 88.6,716.2" fill="none" stroke="#4a5ccc" stroke-width="0.75"/>
<polyline points="5.6,716.2 6.1,716.2 6.6,716.2 7.1,716.2 7.6,716.2 8.1,716.2 8.6,716.2 9.1,716.2 9.6,716.2 10.1,716.2 10.6,716.2 11.1,716.2 11.6,716.2 12.1,716.2 12.6,716.2 13.1,716.2 13.6,716.2 14.1,716.2 14.6,716.2 15.1,716.2 15.6,716.2 16.1,716.2 16.6,716.2 17.1,716.2 17.6,716.2 18.1,716.2 18.6,716.2 19.1,716.2 19.6,716.2 20.1,716.2 20.6,716.2 21.1,716.2 21.6,716.2 22.1,716.2 22.6,716.2 23.1,716.2 23.6,716.2 24.1,716.2 24.6,716.2 25.1,716.2 25.6,716.2 26.1,716.2 26.6,716.2 27.1,716.2 27.6,716.2 28.1,716.2 28.6,716.2 29.1,716.2 29.6,716.2 30.1,716.2 30.6,716.2 31.1,716.2 31.6,716.2 32.1,716.2 32.6,716.2 33.1,716.2 33.6,716.2 34.1,716.2 34.6,716.2 35.1,716.2 35.6,716.2 36.1,716.2 36.6,716.2 37.1,716.2 37.6,716.2 38.1,716.2 38.6,716.2 39.1,716.2 39.6,716.2 40.1,716.2 40.6,716.2 41.1,716.2 41.6,716.2 42.1,716.2 42.6,716.2 43.1,716.2 43.6,716.2 44.1,716.2 44.6,716.2 45.1,716.1 45.6,716.1 46.1,716.1 46.6,716.0 47.1,715.9 47.6,715.7 48.1,715.5 48.6,715.2 49.1,714.8 49.6,714.2 50.1,713.4 50.6,712.5 51.1,711.2 51.6,709.7 52.1,707.9 52.6,705.8 53.1,703.3 53.6,700.5 54.1,697.5 54.6,694.2 55.1,690.8 55.6,687.4 56.1,684.0 56.6,680.9 57.1,678.1 57.6,675.8 58.1,674.1 58.6,673.0 59.1,672.6 59.6,672.8 60.1,673.7 60.6,675.0 61.1,676.8 61.6,678.8 62.1,680.9 62.6,682.9 63.1,684.7 63.6,686.0 64.1,686.9 64.6,687.3 65.1,687.1 65.6,686.3 66.1,685.1 66.6,683.5 67.1,681.7 67.6,679.8 68.1,677.9 68.6,676.3 69.1,675.0 69.6,674.2 70.1,673.9 70.6,674.1 71.1,674.8 71.6,676.0 72.1,677.5 72.6,679.2 73.1,681.0 73.6,682.7 74.1,684.2 74.6,685.2 75.1,685.8 75.6,685.9 76.1,685.5 76.6,684.6 77.1,683.2 77.6,681.5 78.1,679.7 78.6,677.8 79.1,676.1 79.6,674.7 80.1,673.7 80.6,673.3 81.1,673.4 81.6,674.1 82.1,675.4 82.6,677.2 83.1,679.4 83.6,681.9 84.1,684.6 84.6,687.2 85.1,689.7 85.6,691.9 86.1,693.7 86.6,695.1 87.1,696.0 87.6,696.4 88.1,696.3 88.6,695.9" fill="none" stroke="#60bd60" stroke-width="0.75"/>
<rect x="10.9" y="647.0" width="2.6" height="3.2" fill="#2a2a2a"/>
<text x="12.20" y="655.90" font-size="5.6" fill="#2a2a2a" text-anchor="middle" font-family="Liberation Mono">G</text>
<rect x="20.1" y="647.0" width="2.6" height="3.2" fill="#4a5ccc"/>
<text x="21.40" y="655.90" font-size="5.6" fill="#4a5ccc" text-anchor="middle" font-family="Liberation Mono">C</text>
<rect x="32.1" y="647.0" width="2.6" height="3.2" fill="#4a5ccc"/>
<text x="33.40" y="655.90" font-size="5.6" fill="#4a5ccc" text-anchor="middle" font-family="Liberation Mono">C</text>
<rect x="45.9" y="647.2" width="2.4" height="3.4" fill="#fff" stroke="#aaa" stroke-width="0.5"/>
<text x="47.10" y="655.90" font-size="5.6" fill="#c030c0" text-anchor="middle" font-family="Liberation Mono">N</text>
<rect x="57.9" y="647.0" width="2.6" height="3.2" fill="#60bd60"/>
<text x="59.20" y="655.90" font-size="5.6" fill="#60bd60" text-anchor="middle" font-family="Liberation Mono">A</text>
<rect x="69.2" y="647.0" width="2.6" height="3.2" fill="#60bd60"/>
<text x="70.50" y="655.90" font-size="5.6" fill="#60bd60" text-anchor="middle" font-family="Liberation Mono">A</text>
<rect x="79.7" y="647.0" width="2.6" height="3.2" fill="#60bd60"/>
<text x="81.00" y="655.90" font-size="5.6" fill="#60bd60" text-anchor="middle" font-family="Liberation Mono">A</text>
<path d="M47.10,663.40 L47.10,665.50 M47.10,663.40 L45.28,664.45 M47.10,663.40 L45.28,662.35 M47.10,663.40 L47.10,661.30 M47.10,663.40 L48.92,662.35 M47.10,663.40 L48.92,664.45" stroke="#6a6a6a" stroke-width="0.75" fill="none"/>
<rect x="90.1" y="643.2" width="80.3" height="74.2" rx="0.8" fill="#fff" stroke="#444" stroke-width="1.1"/>
<polyline points="90.1,715.2 90.6,714.7 91.1,714.0 91.6,713.0 92.1,711.8 92.6,710.1 93.1,708.1 93.6,705.6 94.1,702.8 94.6,699.7 95.1,696.3 95.6,692.9 96.1,689.6 96.6,686.6 97.1,684.1 97.6,682.3 98.1,681.4 98.6,681.3 99.1,682.1 99.6,683.7 100.1,686.1 100.6,689.0 101.1,692.2 101.6,695.7 102.1,699.0 102.6,702.2 103.1,705.1 103.6,707.6 104.1,709.7 104.6,711.5 105.1,712.8 105.6,713.8 106.1,714.6 106.6,715.1 107.1,715.5 107.6,715.8 108.1,715.9 108.6,716.0 109.1,716.1 109.6,716.1 110.1,716.2 110.6,716.2 111.1,716.1 111.6,716.1 112.1,716.0 112.6,715.9 113.1,715.7 113.6,715.5 114.1,715.1 114.6,714.6 115.1,713.8 115.6,712.9 116.1,711.6 116.6,710.1 117.1,708.4 117.6,706.3 118.1,704.1 118.6,701.8 119.1,699.5 119.6,697.4 120.1,695.6 120.6,694.2 121.1,693.4 121.6,693.2 122.1,693.7 122.6,694.7 123.1,696.2 123.6,698.2 124.1,700.4 124.6,702.7 125.1,704.9 125.6,707.0 126.1,708.8 126.6,710.4 127.1,711.6 127.6,712.4 128.1,712.8 128.6,713.0 129.1,712.8 129.6,712.3 130.1,711.5 130.6,710.6 131.1,709.5 131.6,708.4 132.1,707.2 132.6,706.2 133.1,705.3 133.6,704.6 134.1,704.3 134.6,704.2 135.1,704.5 135.6,705.1 136.1,706.0 136.6,707.0 137.1,708.2 137.6,709.4 138.1,710.6 138.6,711.7 139.1,712.7 139.6,713.5 140.1,714.2 140.6,714.8 141.1,715.2 141.6,715.5 142.1,715.8 142.6,715.9 143.1,716.0 143.6,716.1 144.1,716.1 144.6,716.2 145.1,716.2 145.6,716.2 146.1,716.2 146.6,716.2 147.1,716.2 147.6,716.2 148.1,716.2 148.6,716.2 149.1,716.2 149.6,716.2 150.1,716.2 150.6,716.2 151.1,716.2 151.6,716.2 152.1,716.2 152.6,716.2 153.1,716.2 153.6,716.2 154.1,716.2 154.6,716.1 155.1,716.1 155.6,716.0 156.1,715.8 156.6,715.6 157.1,715.2 157.6,714.7 158.1,714.0 158.6,713.0 159.1,711.6 159.6,709.9 160.1,707.9 160.6,705.3 161.1,702.4 161.6,699.2 162.1,695.8 162.6,692.3 163.1,688.9 163.6,685.8 164.1,683.2 164.6,681.4 165.1,680.4 165.6,680.3 166.1,681.1 166.6,682.8 167.1,685.2 167.6,688.2 168.1,691.6 168.6,695.1 169.1,698.5 169.6,701.8 170.1,704.8" fill="none" stroke="#e5383c" stroke-width="0.75"/>
<polyline points="90.1,716.2 90.6,716.2 91.1,716.2 91.6,716.2 92.1,716.2 92.6,716.2 93.1,716.2 93.6,716.2 94.1,716.2 94.6,716.2 95.1,716.2 95.6,716.2 96.1,716.2 96.6,716.2 97.1,716.2 97.6,716.2 98.1,716.1 98.6,716.1 99.1,715.9 99.6,715.8 100.1,715.5 100.6,715.1 101.1,714.4 101.6,713.5 102.1,712.2 102.6,710.5 103.1,708.2 103.6,705.3 104.1,701.7 104.6,697.6 105.1,692.9 105.6,687.8 106.1,682.6 106.6,677.4 107.1,672.8 107.6,668.9 108.1,666.0 108.6,664.5 109.1,664.3 109.6,665.6 110.1,668.2 110.6,671.9 111.1,676.5 111.6,681.5 112.1,686.8 112.6,691.9 113.1,696.7 113.6,701.0 114.1,704.6 114.6,707.6 115.1,710.1 115.6,711.9 116.1,713.3 116.6,714.3 117.1,715.0 117.6,715.4 118.1,715.7 118.6,715.9 119.1,716.0 119.6,716.1 120.1,716.1 120.6,716.1 121.1,716.1 121.6,716.1 122.1,716.0 122.6,716.0 123.1,715.8 123.6,715.6 124.1,715.3 124.6,714.8 125.1,714.2 125.6,713.4 126.1,712.4 126.6,711.2 127.1,709.8 127.6,708.1 128.1,706.4 128.6,704.6 129.1,702.8 129.6,701.2 130.1,699.8 130.6,698.8 131.1,698.3 131.6,698.2 132.1,698.7 132.6,699.6 133.1,700.9 133.6,702.4 134.1,704.2 134.6,706.0 135.1,707.8 135.6,709.4 136.1,710.9 136.6,712.2 137.1,713.2 137.6,714.1 138.1,714.7 138.6,715.2 139.1,715.5 139.6,715.8 140.1,715.9 140.6,716.0 141.1,716.1 141.6,716.1 142.1,716.2 142.6,716.2 143.1,716.2 143.6,716.2 144.1,716.2 144.6,716.2 145.1,716.2 145.6,716.2 146.1,716.2 146.6,716.2 147.1,716.2 147.6,716.2 148.1,716.2 148.6,716.2 149.1,716.2 149.6,716.2 150.1,716.2 150.6,716.2 151.1,716.2 151.6,716.2 152.1,716.2 152.6,716.2 153.1,716.2 153.6,716.2 154.1,716.2 154.6,716.2 155.1,716.2 155.6,716.2 156.1,716.2 156.6,716.2 157.1,716.2 157.6,716.2 158.1,716.2 158.6,716.2 159.1,716.2 159.6,716.2 160.1,716.2 160.6,716.2 161.1,716.2 161.6,716.2 162.1,716.2 162.6,716.2 163.1,716.2 163.6,716.2 164.1,716.2 164.6,716.2 165.1,716.2 165.6,716.2 166.1,716.2 166.6,716.2 167.1,716.2 167.6,716.2 168.1,716.2 168.6,716.2 169.1,716.2 169.6,716.2 170.1,716.2" fill="none" stroke="#2a2a2a" stroke-width="0.75"/>
<polyline points="90.1,716.2 90.6,716.2 91.1,716.2 91.6,716.2 92.1,716.2 92.6,716.2 93.1,716.2 93.6,716.2 94.1,716.2 94.6,716.2 95.1,716.2 95.6,716.2 96.1,716.2 96.6,716.2 97.1,716.2 97.6,716.2 98.1,716.2 98.6,716.2 99.1,716.2 99.6,716.2 100.1,716.2 100.6,716.2 101.1,716.2 101.6,716.2 102.1,716.2 102.6,716.2 103.1,716.2 103.6,716.2 104.1,716.2 104.6,716.2 105.1,716.2 105.6,716.2 106.1,716.2 106.6,716.2 107.1,716.2 107.6,716.2 108.1,716.2 108.6,716.2 109.1,716.2 109.6,716.2 110.1,716.2 110.6,716.2 111.1,716.2 111.6,716.2 112.1,716.2 112.6,716.2 113.1,716.2 113.6,716.2 114.1,716.2 114.6,716.2 115.1,716.2 115.6,716.2 116.1,716.2 116.6,716.2 117.1,716.2 117.6,716.2 118.1,716.2 118.6,716.2 119.1,716.2 119.6,716.2 120.1,716.2 120.6,716.2 121.1,716.2 121.6,716.2 122.1,716.2 122.6,716.2 123.1,716.2 123.6,716.2 124.1,716.2 124.6,716.2 125.1,716.2 125.6,716.2 126.1,716.2 126.6,716.2 127.1,716.2 127.6,716.2 128.1,716.2 128.6,716.2 129.1,716.2 129.6,716.2 130.1,716.2 130.6,716.2 131.1,716.2 131.6,716.2 132.1,716.2 132.6,716.1 133.1,716.1 133.6,716.0 134.1,715.9 134.6,715.7 135.1,715.5 135.6,715.1 136.1,714.7 136.6,714.0 137.1,713.2 137.6,712.2 138.1,710.9 138.6,709.3 139.1,707.5 139.6,705.4 140.1,703.1 140.6,700.7 141.1,698.2 141.6,695.7 142.1,693.4 142.6,691.4 143.1,689.7 143.6,688.6 144.1,687.9 144.6,687.8 145.1,688.1 145.6,689.0 146.1,690.1 146.6,691.5 147.1,692.9 147.6,694.1 148.1,695.1 148.6,695.8 149.1,695.9 149.6,695.6 150.1,694.7 150.6,693.5 151.1,691.9 151.6,690.1 152.1,688.2 152.6,686.5 153.1,685.1 153.6,684.2 154.1,683.8 154.6,684.0 155.1,684.9 155.6,686.3 156.1,688.3 156.6,690.7 157.1,693.4 157.6,696.2 158.1,699.1 158.6,701.8 159.1,704.4 159.6,706.7 160.1,708.7 160.6,710.5 161.1,711.9 161.6,713.0 162.1,713.9 162.6,714.6 163.1,715.1 163.6,715.4 164.1,715.7 164.6,715.8 165.1,715.9 165.6,715.9 166.1,715.9 166.6,715.8 167.1,715.6 167.6,715.4 168.1,715.1 168.6,714.7 169.1,714.2 169.6,713.6 170.1,712.9" fill="none" stroke="#4a5ccc" stroke-width="0.75"/>
<rect x="96.3" y="647.0" width="2.6" height="3.2" fill="#e5383c"/>
<text x="97.60" y="655.90" font-size="5.6" fill="#e5383c" text-anchor="middle" font-family="Liberation Mono">T</text>
<rect x="106.8" y="647.0" width="2.6" height="3.2" fill="#2a2a2a"/>
<text x="108.10" y="655.90" font-size="5.6" fill="#2a2a2a" text-anchor="middle" font-family="Liberation Mono">G</text>
<rect x="119.4" y="647.0" width="2.6" height="3.2" fill="#e5383c"/>
<text x="120.70" y="655.90" font-size="5.6" fill="#e5383c" text-anchor="middle" font-family="Liberation Mono">T</text>
<rect x="131.4" y="647.2" width="2.4" height="3.4" fill="#fff" stroke="#aaa" stroke-width="0.5"/>
<text x="132.60" y="655.90" font-size="5.6" fill="#c030c0" text-anchor="middle" font-family="Liberation Mono">N</text>
<rect x="142.3" y="647.0" width="2.6" height="3.2" fill="#4a5ccc"/>
<text x="143.60" y="655.90" font-size="5.6" fill="#4a5ccc" text-anchor="middle" font-family="Liberation Mono">C</text>
<rect x="152.3" y="647.0" width="2.6" height="3.2" fill="#4a5ccc"/>
<text x="153.60" y="655.90" font-size="5.6" fill="#4a5ccc" text-anchor="middle" font-family="Liberation Mono">C</text>
<rect x="163.6" y="647.0" width="2.6" height="3.2" fill="#e5383c"/>
<text x="164.90" y="655.90" font-size="5.6" fill="#e5383c" text-anchor="middle" font-family="Liberation Mono">T</text>
<path d="M132.60,663.40 L132.60,665.50 M132.60,663.40 L130.78,664.45 M132.60,663.40 L130.78,662.35 M132.60,663.40 L132.60,661.30 M132.60,663.40 L134.42,662.35 M132.60,663.40 L134.42,664.45" stroke="#6a6a6a" stroke-width="0.75" fill="none"/>
<text x="48.50" y="729.80" font-size="8.9" fill="#222" text-anchor="middle">rs2283197 (G/C)</text>
<text x="135.40" y="729.80" font-size="8.9" fill="#222" text-anchor="middle">rs2283196 (T/G)</text>
<text x="176.60" y="638.80" font-size="9.6" fill="#222" text-anchor="start">3C ICR2-CTCF1</text>
<rect x="176.4" y="643.2" width="83" height="74.2" rx="0.8" fill="#fff" stroke="#444" stroke-width="1.1"/>
<polyline points="176.4,702.5 176.9,702.2 177.4,702.5 177.9,703.2 178.4,704.4 178.9,705.9 179.4,707.5 179.9,709.1 180.4,710.6 180.9,711.8 181.4,712.7 181.9,713.4 182.4,713.7 182.9,713.8 183.4,713.8 183.9,713.6 184.4,713.3 184.9,713.0 185.4,712.7 185.9,712.4 186.4,712.3 186.9,712.2 187.4,712.2 187.9,712.4 188.4,712.6 188.9,712.9 189.4,713.3 189.9,713.7 190.4,714.1 190.9,714.5 191.4,714.8 191.9,715.1 192.4,715.4 192.9,715.6 193.4,715.8 193.9,715.9 194.4,716.0 194.9,716.1 195.4,716.1 195.9,716.2 196.4,716.2 196.9,716.2 197.4,716.2 197.9,716.2 198.4,716.2 198.9,716.2 199.4,716.2 199.9,716.2 200.4,716.2 200.9,716.2 201.4,716.2 201.9,716.2 202.4,716.2 202.9,716.2 203.4,716.2 203.9,716.2 204.4,716.2 204.9,716.2 205.4,716.2 205.9,716.2 206.4,716.2 206.9,716.2 207.4,716.2 207.9,716.2 208.4,716.2 208.9,716.2 209.4,716.2 209.9,716.2 210.4,716.2 210.9,716.2 211.4,716.2 211.9,716.2 212.4,716.2 212.9,716.2 213.4,716.2 213.9,716.2 214.4,716.2 214.9,716.2 215.4,716.2 215.9,716.2 216.4,716.2 216.9,716.2 217.4,716.2 217.9,716.2 218.4,716.2 218.9,716.2 219.4,716.2 219.9,716.2 220.4,716.2 220.9,716.2 221.4,716.2 221.9,716.2 222.4,716.2 222.9,716.2 223.4,716.2 223.9,716.2 224.4,716.2 224.9,716.2 225.4,716.2 225.9,716.2 226.4,716.2 226.9,716.2 227.4,716.2 227.9,716.2 228.4,716.2 228.9,716.2 229.4,716.2 229.9,716.2 230.4,716.2 230.9,716.2 231.4,716.2 231.9,716.2 232.4,716.2 232.9,716.2 233.4,716.2 233.9,716.2 234.4,716.2 234.9,716.2 235.4,716.2 235.9,716.2 236.4,716.1 236.9,716.1 237.4,716.1 237.9,716.0 238.4,715.9 238.9,715.8 239.4,715.6 239.9,715.4 240.4,715.2 240.9,714.9 241.4,714.5 241.9,714.1 242.4,713.7 242.9,713.2 243.4,712.7 243.9,712.1 244.4,711.6 244.9,711.2 245.4,710.8 245.9,710.5 246.4,710.3 246.9,710.2 247.4,710.2 247.9,710.4 248.4,710.7 248.9,711.0 249.4,711.5 249.9,711.9 250.4,712.5 250.9,713.0 251.4,713.5 251.9,713.9 252.4,714.4 252.9,714.7 253.4,715.0 253.9,715.2 254.4,715.4 254.9,715.5 255.4,715.5 255.9,715.4 256.4,715.2 256.9,715.0 257.4,714.6 257.9,714.2 258.4,713.7 258.9,713.1 259.4,712.5" fill="none" stroke="#e5383c" stroke-width="0.75"/>
<polyline points="176.4,713.5 176.9,712.5 177.4,711.3 177.9,709.8 178.4,708.0 178.9,706.1 179.4,703.9 179.9,701.6 180.4,699.4 180.9,697.3 181.4,695.4 181.9,693.8 182.4,692.8 182.9,692.2 183.4,692.3 183.9,692.9 184.4,694.1 184.9,695.7 185.4,697.7 185.9,699.8 186.4,702.1 186.9,704.3 187.4,706.5 187.9,708.4 188.4,710.1 188.9,711.5 189.4,712.7 189.9,713.7 190.4,714.4 190.9,714.9 191.4,715.3 191.9,715.5 192.4,715.7 192.9,715.8 193.4,715.8 193.9,715.7 194.4,715.6 194.9,715.5 195.4,715.3 195.9,715.1 196.4,714.9 196.9,714.6 197.4,714.3 197.9,713.9 198.4,713.5 198.9,713.2 199.4,712.8 199.9,712.4 200.4,712.1 200.9,711.8 201.4,711.5 201.9,711.4 202.4,711.2 202.9,711.2 203.4,711.2 203.9,711.4 204.4,711.5 204.9,711.8 205.4,712.1 205.9,712.4 206.4,712.8 206.9,713.2 207.4,713.5 207.9,713.9 208.4,714.2 208.9,714.5 209.4,714.7 209.9,714.8 210.4,714.8 210.9,714.8 211.4,714.5 211.9,714.1 212.4,713.5 212.9,712.7 213.4,711.6 213.9,710.1 214.4,708.4 214.9,706.5 215.4,704.3 215.9,701.9 216.4,699.4 216.9,697.0 217.4,694.8 217.9,692.9 218.4,691.4 218.9,690.5 219.4,690.2 219.9,690.5 220.4,691.4 220.9,692.9 221.4,694.8 221.9,697.0 222.4,699.4 222.9,701.9 223.4,704.3 223.9,706.5 224.4,708.5 224.9,710.3 225.4,711.7 225.9,712.9 226.4,713.8 226.9,714.5 227.4,715.1 227.9,715.4 228.4,715.7 228.9,715.9 229.4,716.0 229.9,716.1 230.4,716.1 230.9,716.2 231.4,716.2 231.9,716.2 232.4,716.2 232.9,716.2 233.4,716.2 233.9,716.2 234.4,716.2 234.9,716.2 235.4,716.2 235.9,716.2 236.4,716.2 236.9,716.2 237.4,716.2 237.9,716.2 238.4,716.2 238.9,716.2 239.4,716.2 239.9,716.2 240.4,716.2 240.9,716.2 241.4,716.2 241.9,716.2 242.4,716.2 242.9,716.2 243.4,716.2 243.9,716.2 244.4,716.2 244.9,716.2 245.4,716.1 245.9,716.1 246.4,716.0 246.9,715.9 247.4,715.8 247.9,715.6 248.4,715.4 248.9,715.1 249.4,714.7 249.9,714.2 250.4,713.7 250.9,713.1 251.4,712.5 251.9,711.8 252.4,711.2 252.9,710.6 253.4,710.0 253.9,709.6 254.4,709.3 254.9,709.2 255.4,709.3 255.9,709.5 256.4,709.8 256.9,710.3 257.4,710.9 257.9,711.6 258.4,712.2 258.9,712.9 259.4,713.5" fill="none" stroke="#2a2a2a" stroke-width="0.75"/>
<polyline points="176.4,716.2 176.9,716.2 177.4,716.2 177.9,716.1 178.4,716.1 178.9,716.0 179.4,715.9 179.9,715.8 180.4,715.7 180.9,715.4 181.4,715.1 181.9,714.7 182.4,714.2 182.9,713.5 183.4,712.6 183.9,711.6 184.4,710.3 184.9,708.7 185.4,707.0 185.9,704.9 186.4,702.7 186.9,700.2 187.4,697.6 187.9,694.9 188.4,692.2 188.9,689.5 189.4,687.0 189.9,684.8 190.4,682.9 190.9,681.5 191.4,680.5 191.9,680.0 192.4,680.1 192.9,680.7 193.4,681.8 193.9,683.2 194.4,685.0 194.9,687.0 195.4,689.0 195.9,691.1 196.4,692.9 196.9,694.6 197.4,695.9 197.9,696.8 198.4,697.2 198.9,697.2 199.4,696.8 199.9,696.0 200.4,694.8 200.9,693.4 201.4,691.9 201.9,690.2 202.4,688.7 202.9,687.2 203.4,686.1 203.9,685.2 204.4,684.8 204.9,684.7 205.4,685.1 205.9,685.8 206.4,686.9 206.9,688.2 207.4,689.8 207.9,691.4 208.4,692.9 208.9,694.3 209.4,695.6 209.9,696.5 210.4,697.1 210.9,697.3 211.4,697.1 211.9,696.5 212.4,695.7 212.9,694.6 213.4,693.3 213.9,692.0 214.4,690.7 214.9,689.5 215.4,688.6 215.9,688.0 216.4,687.8 216.9,688.0 217.4,688.6 217.9,689.6 218.4,690.9 218.9,692.6 219.4,694.5 219.9,696.6 220.4,698.8 220.9,700.9 221.4,703.1 221.9,705.1 222.4,706.9 222.9,708.6 223.4,710.1 223.9,711.3 224.4,712.4 224.9,713.3 225.4,714.0 225.9,714.6 226.4,715.0 226.9,715.3 227.4,715.6 227.9,715.8 228.4,715.9 228.9,716.0 229.4,716.1 229.9,716.1 230.4,716.1 230.9,716.2 231.4,716.2 231.9,716.2 232.4,716.2 232.9,716.2 233.4,716.2 233.9,716.2 234.4,716.2 234.9,716.2 235.4,716.2 235.9,716.2 236.4,716.2 236.9,716.2 237.4,716.2 237.9,716.2 238.4,716.2 238.9,716.2 239.4,716.2 239.9,716.2 240.4,716.2 240.9,716.2 241.4,716.2 241.9,716.2 242.4,716.2 242.9,716.2 243.4,716.2 243.9,716.2 244.4,716.2 244.9,716.2 245.4,716.2 245.9,716.2 246.4,716.2 246.9,716.2 247.4,716.2 247.9,716.2 248.4,716.2 248.9,716.2 249.4,716.2 249.9,716.2 250.4,716.2 250.9,716.2 251.4,716.2 251.9,716.2 252.4,716.2 252.9,716.2 253.4,716.2 253.9,716.2 254.4,716.2 254.9,716.2 255.4,716.2 255.9,716.2 256.4,716.2 256.9,716.2 257.4,716.2 257.9,716.2 258.4,716.2 258.9,716.2 259.4,716.2" fill="none" stroke="#4a5ccc" stroke-width="0.75"/>
<polyline points="176.4,716.2 176.9,716.2 177.4,716.2 177.9,716.2 178.4,716.2 178.9,716.2 179.4,716.2 179.9,716.2 180.4,716.2 180.9,716.2 181.4,716.2 181.9,716.2 182.4,716.2 182.9,716.2 183.4,716.2 183.9,716.2 184.4,716.2 184.9,716.2 185.4,716.2 185.9,716.2 186.4,716.2 186.9,716.2 187.4,716.2 187.9,716.1 188.4,716.1 188.9,716.1 189.4,716.0 189.9,715.9 190.4,715.8 190.9,715.7 191.4,715.5 191.9,715.3 192.4,715.0 192.9,714.7 193.4,714.4 193.9,714.0 194.4,713.6 194.9,713.2 195.4,712.7 195.9,712.3 196.4,712.0 196.9,711.6 197.4,711.4 197.9,711.3 198.4,711.2 198.9,711.3 199.4,711.4 199.9,711.6 200.4,712.0 200.9,712.3 201.4,712.7 201.9,713.2 202.4,713.6 202.9,714.0 203.4,714.4 203.9,714.7 204.4,715.0 204.9,715.3 205.4,715.5 205.9,715.7 206.4,715.8 206.9,715.9 207.4,716.0 207.9,716.1 208.4,716.1 208.9,716.1 209.4,716.2 209.9,716.2 210.4,716.2 210.9,716.2 211.4,716.2 211.9,716.2 212.4,716.2 212.9,716.2 213.4,716.2 213.9,716.2 214.4,716.2 214.9,716.2 215.4,716.2 215.9,716.2 216.4,716.2 216.9,716.2 217.4,716.2 217.9,716.1 218.4,716.1 218.9,716.0 219.4,715.9 219.9,715.8 220.4,715.6 220.9,715.3 221.4,715.0 221.9,714.5 222.4,713.8 222.9,713.0 223.4,711.9 223.9,710.5 224.4,708.9 224.9,706.9 225.4,704.6 225.9,702.0 226.4,699.1 226.9,696.0 227.4,692.7 227.9,689.4 228.4,686.0 228.9,682.9 229.4,680.0 229.9,677.6 230.4,675.7 230.9,674.3 231.4,673.6 231.9,673.6 232.4,674.2 232.9,675.3 233.4,676.8 233.9,678.6 234.4,680.5 234.9,682.4 235.4,684.1 235.9,685.4 236.4,686.3 236.9,686.6 237.4,686.4 237.9,685.5 238.4,684.2 238.9,682.5 239.4,680.5 239.9,678.3 240.4,676.2 240.9,674.2 241.4,672.7 241.9,671.5 242.4,671.0 242.9,671.0 243.4,671.6 243.9,672.7 244.4,674.2 244.9,676.1 245.4,678.1 245.9,680.0 246.4,681.8 246.9,683.3 247.4,684.2 247.9,684.7 248.4,684.6 248.9,683.9 249.4,682.7 249.9,681.1 250.4,679.3 250.9,677.3 251.4,675.4 251.9,673.6 252.4,672.3 252.9,671.4 253.4,671.1 253.9,671.4 254.4,672.4 254.9,673.9 255.4,675.9 255.9,678.3 256.4,680.9 256.9,683.5 257.4,686.2 257.9,688.6 258.4,690.7 258.9,692.4 259.4,693.8" fill="none" stroke="#60bd60" stroke-width="0.75"/>
<rect x="181.7" y="647.0" width="2.6" height="3.2" fill="#2a2a2a"/>
<text x="183.00" y="655.90" font-size="5.6" fill="#2a2a2a" text-anchor="middle" font-family="Liberation Mono">G</text>
<rect x="190.9" y="647.0" width="2.6" height="3.2" fill="#4a5ccc"/>
<text x="192.20" y="655.90" font-size="5.6" fill="#4a5ccc" text-anchor="middle" font-family="Liberation Mono">C</text>
<rect x="202.9" y="647.0" width="2.6" height="3.2" fill="#4a5ccc"/>
<text x="204.20" y="655.90" font-size="5.6" fill="#4a5ccc" text-anchor="middle" font-family="Liberation Mono">C</text>
<rect x="216.7" y="647.2" width="2.4" height="3.4" fill="#fff" stroke="#aaa" stroke-width="0.5"/>
<text x="217.90" y="655.90" font-size="5.6" fill="#c030c0" text-anchor="middle" font-family="Liberation Mono">N</text>
<rect x="228.7" y="647.0" width="2.6" height="3.2" fill="#60bd60"/>
<text x="230.00" y="655.90" font-size="5.6" fill="#60bd60" text-anchor="middle" font-family="Liberation Mono">A</text>
<rect x="240.0" y="647.0" width="2.6" height="3.2" fill="#60bd60"/>
<text x="241.30" y="655.90" font-size="5.6" fill="#60bd60" text-anchor="middle" font-family="Liberation Mono">A</text>
<rect x="250.5" y="647.0" width="2.6" height="3.2" fill="#60bd60"/>
<text x="251.80" y="655.90" font-size="5.6" fill="#60bd60" text-anchor="middle" font-family="Liberation Mono">A</text>
<path d="M217.90,663.40 L217.90,665.50 M217.90,663.40 L216.08,664.45 M217.90,663.40 L216.08,662.35 M217.90,663.40 L217.90,661.30 M217.90,663.40 L219.72,662.35 M217.90,663.40 L219.72,664.45" stroke="#6a6a6a" stroke-width="0.75" fill="none"/>
<rect x="260.9" y="643.2" width="80.3" height="74.2" rx="0.8" fill="#fff" stroke="#444" stroke-width="1.1"/>
<polyline points="260.9,711.1 261.4,709.3 261.9,707.0 262.4,704.3 262.9,701.2 263.4,697.8 263.9,694.3 264.4,690.8 264.9,687.6 265.4,684.8 265.9,682.7 266.4,681.5 266.9,681.2 267.4,681.9 267.9,683.5 268.4,685.8 268.9,688.8 269.4,692.2 269.9,695.7 270.4,699.2 270.9,702.4 271.4,705.4 271.9,707.9 272.4,710.1 272.9,711.8 273.4,713.1 273.9,714.1 274.4,714.8 274.9,715.3 275.4,715.6 275.9,715.8 276.4,716.0 276.9,716.1 277.4,716.1 277.9,716.2 278.4,716.2 278.9,716.2 279.4,716.2 279.9,716.2 280.4,716.2 280.9,716.1 281.4,716.1 281.9,716.0 282.4,715.8 282.9,715.6 283.4,715.3 283.9,714.9 284.4,714.2 284.9,713.4 285.4,712.3 285.9,711.0 286.4,709.4 286.9,707.6 287.4,705.5 287.9,703.3 288.4,701.1 288.9,699.0 289.4,697.1 289.9,695.6 290.4,694.6 290.9,694.2 291.4,694.4 291.9,695.2 292.4,696.5 292.9,698.2 293.4,700.2 293.9,702.3 294.4,704.5 294.9,706.5 295.4,708.3 295.9,709.8 296.4,710.9 296.9,711.7 297.4,712.0 297.9,712.0 298.4,711.7 298.9,711.0 299.4,710.0 299.9,708.8 300.4,707.5 300.9,706.2 301.4,704.9 301.9,703.8 302.4,702.9 302.9,702.4 303.4,702.2 303.9,702.4 304.4,702.9 304.9,703.8 305.4,704.9 305.9,706.2 306.4,707.6 306.9,708.9 307.4,710.2 307.9,711.3 308.4,712.2 308.9,712.9 309.4,713.4 309.9,713.7 310.4,713.7 310.9,713.6 311.4,713.4 311.9,713.0 312.4,712.5 312.9,712.0 313.4,711.4 313.9,710.9 314.4,710.3 314.9,709.9 315.4,709.5 315.9,709.3 316.4,709.2 316.9,709.2 317.4,709.4 317.9,709.7 318.4,710.2 318.9,710.7 319.4,711.2 319.9,711.8 320.4,712.4 320.9,713.0 321.4,713.6 321.9,714.1 322.4,714.5 322.9,714.9 323.4,715.2 323.9,715.4 324.4,715.6 324.9,715.8 325.4,715.9 325.9,715.9 326.4,715.9 326.9,715.8 327.4,715.7 327.9,715.5 328.4,715.1 328.9,714.5 329.4,713.6 329.9,712.5 330.4,711.0 330.9,709.1 331.4,706.7 331.9,703.9 332.4,700.7 332.9,697.3 333.4,693.6 333.9,690.1 334.4,686.7 334.9,683.9 335.4,681.8 335.9,680.5 336.4,680.2 336.9,680.9 337.4,682.5 337.9,685.0 338.4,688.0 338.9,691.5 339.4,695.1 339.9,698.7 340.4,702.1 340.9,705.1" fill="none" stroke="#e5383c" stroke-width="0.75"/>
<polyline points="260.9,716.2 261.4,716.2 261.9,716.2 262.4,716.2 262.9,716.2 263.4,716.2 263.9,716.2 264.4,716.2 264.9,716.2 265.4,716.2 265.9,716.2 266.4,716.2 266.9,716.2 267.4,716.2 267.9,716.1 268.4,716.0 268.9,715.9 269.4,715.7 269.9,715.3 270.4,714.8 270.9,714.0 271.4,712.7 271.9,711.0 272.4,708.6 272.9,705.5 273.4,701.7 273.9,697.0 274.4,691.7 274.9,685.9 275.4,679.8 275.9,673.9 276.4,668.6 276.9,664.4 277.4,661.5 277.9,660.2 278.4,660.8 278.9,663.0 279.4,666.8 279.9,671.7 280.4,677.4 280.9,683.4 281.4,689.4 281.9,695.0 282.4,699.9 282.9,704.1 283.4,707.5 283.9,710.1 284.4,712.1 284.9,713.5 285.4,714.5 285.9,715.2 286.4,715.6 286.9,715.8 287.4,716.0 287.9,716.1 288.4,716.1 288.9,716.2 289.4,716.2 289.9,716.2 290.4,716.2 290.9,716.2 291.4,716.1 291.9,716.1 292.4,716.0 292.9,715.8 293.4,715.6 293.9,715.3 294.4,714.8 294.9,714.1 295.4,713.3 295.9,712.2 296.4,710.8 296.9,709.2 297.4,707.4 297.9,705.5 298.4,703.5 298.9,701.6 299.4,699.9 299.9,698.5 300.4,697.6 300.9,697.2 301.4,697.4 301.9,698.1 302.4,699.3 302.9,700.9 303.4,702.7 303.9,704.7 304.4,706.6 304.9,708.5 305.4,710.2 305.9,711.6 306.4,712.8 306.9,713.8 307.4,714.5 307.9,715.1 308.4,715.5 308.9,715.7 309.4,715.9 309.9,716.0 310.4,716.1 310.9,716.1 311.4,716.2 311.9,716.2 312.4,716.2 312.9,716.2 313.4,716.2 313.9,716.2 314.4,716.2 314.9,716.2 315.4,716.2 315.9,716.2 316.4,716.2 316.9,716.2 317.4,716.2 317.9,716.2 318.4,716.2 318.9,716.1 319.4,716.1 319.9,716.1 320.4,716.0 320.9,715.9 321.4,715.8 321.9,715.6 322.4,715.5 322.9,715.2 323.4,715.0 323.9,714.7 324.4,714.4 324.9,714.1 325.4,713.8 325.9,713.6 326.4,713.4 326.9,713.2 327.4,713.2 327.9,713.2 328.4,713.4 328.9,713.6 329.4,713.8 329.9,714.1 330.4,714.4 330.9,714.7 331.4,715.0 331.9,715.2 332.4,715.5 332.9,715.6 333.4,715.8 333.9,715.9 334.4,716.0 334.9,716.1 335.4,716.1 335.9,716.1 336.4,716.2 336.9,716.2 337.4,716.2 337.9,716.2 338.4,716.2 338.9,716.2 339.4,716.2 339.9,716.2 340.4,716.2 340.9,716.2" fill="none" stroke="#2a2a2a" stroke-width="0.75"/>
<polyline points="260.9,716.2 261.4,716.2 261.9,716.2 262.4,716.2 262.9,716.2 263.4,716.2 263.9,716.2 264.4,716.2 264.9,716.2 265.4,716.2 265.9,716.2 266.4,716.2 266.9,716.2 267.4,716.2 267.9,716.2 268.4,716.2 268.9,716.2 269.4,716.2 269.9,716.2 270.4,716.2 270.9,716.1 271.4,716.1 271.9,716.1 272.4,716.0 272.9,715.9 273.4,715.7 273.9,715.5 274.4,715.3 274.9,715.0 275.4,714.6 275.9,714.1 276.4,713.7 276.9,713.2 277.4,712.7 277.9,712.2 278.4,711.8 278.9,711.5 279.4,711.3 279.9,711.2 280.4,711.3 280.9,711.5 281.4,711.8 281.9,712.2 282.4,712.7 282.9,713.2 283.4,713.7 283.9,714.1 284.4,714.6 284.9,715.0 285.4,715.3 285.9,715.5 286.4,715.7 286.9,715.9 287.4,716.0 287.9,716.1 288.4,716.1 288.9,716.1 289.4,716.2 289.9,716.2 290.4,716.2 290.9,716.2 291.4,716.2 291.9,716.2 292.4,716.2 292.9,716.2 293.4,716.2 293.9,716.1 294.4,716.1 294.9,716.1 295.4,716.0 295.9,715.9 296.4,715.7 296.9,715.5 297.4,715.3 297.9,715.0 298.4,714.7 298.9,714.3 299.4,713.8 299.9,713.4 300.4,712.9 300.9,712.5 301.4,712.2 301.9,711.9 302.4,711.7 302.9,711.7 303.4,711.7 303.9,711.9 304.4,712.1 304.9,712.4 305.4,712.6 305.9,712.7 306.4,712.6 306.9,712.3 307.4,711.6 307.9,710.5 308.4,708.9 308.9,706.8 309.4,704.3 309.9,701.3 310.4,698.0 310.9,694.6 311.4,691.3 311.9,688.4 312.4,686.1 312.9,684.7 313.4,684.2 313.9,684.7 314.4,686.1 314.9,688.4 315.4,691.2 315.9,694.4 316.4,697.6 316.9,700.5 317.4,703.1 317.9,704.9 318.4,706.0 318.9,706.1 319.4,705.4 319.9,703.7 320.4,701.1 320.9,697.8 321.4,694.0 321.9,689.9 322.4,685.8 322.9,682.1 323.4,679.1 323.9,677.1 324.4,676.2 324.9,676.6 325.4,678.2 325.9,680.9 326.4,684.4 326.9,688.5 327.4,692.8 327.9,697.1 328.4,701.0 328.9,704.6 329.4,707.5 329.9,710.0 330.4,711.9 330.9,713.3 331.4,714.3 331.9,715.0 332.4,715.5 332.9,715.8 333.4,715.9 333.9,716.1 334.4,716.1 334.9,716.2 335.4,716.2 335.9,716.2 336.4,716.2 336.9,716.2 337.4,716.2 337.9,716.2 338.4,716.2 338.9,716.2 339.4,716.2 339.9,716.2 340.4,716.2 340.9,716.2" fill="none" stroke="#4a5ccc" stroke-width="0.75"/>
<polyline points="260.9,716.2 261.4,716.2 261.9,716.2 262.4,716.2 262.9,716.2 263.4,716.1 263.9,716.1 264.4,716.1 264.9,716.0 265.4,715.9 265.9,715.8 266.4,715.6 266.9,715.4 267.4,715.2 267.9,714.9 268.4,714.6 268.9,714.3 269.4,714.0 269.9,713.7 270.4,713.5 270.9,713.3 271.4,713.2 271.9,713.2 272.4,713.3 272.9,713.4 273.4,713.6 273.9,713.9 274.4,714.1 274.9,714.4 275.4,714.7 275.9,715.0 276.4,715.3 276.9,715.5 277.4,715.7 277.9,715.8 278.4,715.9 278.9,716.0 279.4,716.1 279.9,716.1 280.4,716.2 280.9,716.2 281.4,716.2 281.9,716.2 282.4,716.2 282.9,716.2 283.4,716.2 283.9,716.2 284.4,716.2 284.9,716.2 285.4,716.2 285.9,716.2 286.4,716.2 286.9,716.2 287.4,716.2 287.9,716.2 288.4,716.2 288.9,716.2 289.4,716.2 289.9,716.2 290.4,716.2 290.9,716.2 291.4,716.2 291.9,716.2 292.4,716.2 292.9,716.2 293.4,716.2 293.9,716.2 294.4,716.2 294.9,716.2 295.4,716.2 295.9,716.2 296.4,716.2 296.9,716.2 297.4,716.2 297.9,716.2 298.4,716.2 298.9,716.2 299.4,716.2 299.9,716.2 300.4,716.2 300.9,716.2 301.4,716.2 301.9,716.2 302.4,716.2 302.9,716.2 303.4,716.2 303.9,716.2 304.4,716.2 304.9,716.2 305.4,716.2 305.9,716.2 306.4,716.2 306.9,716.2 307.4,716.2 307.9,716.2 308.4,716.2 308.9,716.2 309.4,716.2 309.9,716.2 310.4,716.2 310.9,716.2 311.4,716.2 311.9,716.2 312.4,716.2 312.9,716.2 313.4,716.2 313.9,716.2 314.4,716.2 314.9,716.2 315.4,716.2 315.9,716.2 316.4,716.2 316.9,716.2 317.4,716.2 317.9,716.2 318.4,716.2 318.9,716.2 319.4,716.2 319.9,716.2 320.4,716.2 320.9,716.2 321.4,716.2 321.9,716.2 322.4,716.2 322.9,716.2 323.4,716.2 323.9,716.2 324.4,716.2 324.9,716.2 325.4,716.2 325.9,716.2 326.4,716.2 326.9,716.2 327.4,716.2 327.9,716.2 328.4,716.2 328.9,716.2 329.4,716.2 329.9,716.2 330.4,716.2 330.9,716.2 331.4,716.2 331.9,716.2 332.4,716.2 332.9,716.2 333.4,716.2 333.9,716.2 334.4,716.2 334.9,716.2 335.4,716.2 335.9,716.2 336.4,716.2 336.9,716.2 337.4,716.2 337.9,716.2 338.4,716.2 338.9,716.2 339.4,716.2 339.9,716.2 340.4,716.2 340.9,716.2" fill="none" stroke="#60bd60" stroke-width="0.75"/>
<rect x="267.1" y="647.0" width="2.6" height="3.2" fill="#e5383c"/>
<text x="268.40" y="655.90" font-size="5.6" fill="#e5383c" text-anchor="middle" font-family="Liberation Mono">T</text>
<rect x="277.6" y="647.0" width="2.6" height="3.2" fill="#2a2a2a"/>
<text x="278.90" y="655.90" font-size="5.6" fill="#2a2a2a" text-anchor="middle" font-family="Liberation Mono">G</text>
<rect x="290.2" y="647.0" width="2.6" height="3.2" fill="#e5383c"/>
<text x="291.50" y="655.90" font-size="5.6" fill="#e5383c" text-anchor="middle" font-family="Liberation Mono">T</text>
<rect x="302.2" y="647.2" width="2.4" height="3.4" fill="#fff" stroke="#aaa" stroke-width="0.5"/>
<text x="303.40" y="655.90" font-size="5.6" fill="#c030c0" text-anchor="middle" font-family="Liberation Mono">N</text>
<rect x="313.1" y="647.0" width="2.6" height="3.2" fill="#4a5ccc"/>
<text x="314.40" y="655.90" font-size="5.6" fill="#4a5ccc" text-anchor="middle" font-family="Liberation Mono">C</text>
<rect x="323.1" y="647.0" width="2.6" height="3.2" fill="#4a5ccc"/>
<text x="324.40" y="655.90" font-size="5.6" fill="#4a5ccc" text-anchor="middle" font-family="Liberation Mono">C</text>
<rect x="334.4" y="647.0" width="2.6" height="3.2" fill="#e5383c"/>
<text x="335.70" y="655.90" font-size="5.6" fill="#e5383c" text-anchor="middle" font-family="Liberation Mono">T</text>
<path d="M303.40,663.40 L303.40,665.50 M303.40,663.40 L301.58,664.45 M303.40,663.40 L301.58,662.35 M303.40,663.40 L303.40,661.30 M303.40,663.40 L305.22,662.35 M303.40,663.40 L305.22,664.45" stroke="#6a6a6a" stroke-width="0.75" fill="none"/>
<text x="206.50" y="729.60" font-size="8.9" fill="#222" text-anchor="start">rs2283197 (C/G)</text>
<text x="273.50" y="729.60" font-size="8.9" fill="#222" text-anchor="start">rs2283196 (G/T)</text>
<path d="M258.20,731.6 L265.10,739.5 M275.80,731.6 L269.90,739.5" stroke="#222" stroke-width="0.8" fill="none"/>
<line x1="221.9" y1="739.5" x2="296.7" y2="739.5" stroke="#333" stroke-width="1.1"/>
<line x1="205.0" y1="739.8" x2="221.9" y2="739.8" stroke="#444" stroke-width="0.9" stroke-dasharray="1,1"/>
<line x1="296.7" y1="739.8" x2="314.00000000000006" y2="739.8" stroke="#444" stroke-width="0.9" stroke-dasharray="1,1"/>
<line x1="259.40" y1="737.3" x2="259.40" y2="741.6" stroke="#444" stroke-width="0.8"/>
<text x="203.00" y="742.30" font-size="7.9" fill="#222" text-anchor="end"><tspan font-style="italic">Bgl</tspan>II 2</text>
<text x="315.20" y="742.40" font-size="7.9" fill="#222" text-anchor="start"><tspan font-style="italic">Bgl</tspan>II 32</text>
<text x="235.90" y="748.60" font-size="8.4" fill="#111" text-anchor="end">3F</text>
<path d="M237.90,743.1 L245.50,746.4 L237.90,749.7 Z" fill="#111"/>
<text x="260.90" y="748.20" font-size="7.9" fill="#222" text-anchor="middle"><tspan font-style="italic">Bgl</tspan>II</text>
<path d="M281.80,743.3 L274.80,746.5 L281.80,749.7 Z" fill="#111"/>
<text x="283.50" y="748.70" font-size="8.4" fill="#111" text-anchor="start">31R</text>
<text x="259.40" y="757.00" font-size="8.1" fill="#222" text-anchor="middle">3-31</text>
<text x="347.40" y="638.80" font-size="9.6" fill="#222" text-anchor="start">3C ICR2-CTCF2</text>
<rect x="347.2" y="643.2" width="83" height="74.2" rx="0.8" fill="#fff" stroke="#444" stroke-width="1.1"/>
<polyline points="347.2,704.4 347.7,705.1 348.2,706.2 348.7,707.5 349.2,708.9 349.7,710.4 350.2,711.7 350.7,712.9 351.2,713.8 351.7,714.6 352.2,715.1 352.7,715.5 353.2,715.8 353.7,716.0 354.2,716.1 354.7,716.1 355.2,716.2 355.7,716.2 356.2,716.2 356.7,716.2 357.2,716.2 357.7,716.2 358.2,716.1 358.7,716.1 359.2,716.0 359.7,716.0 360.2,715.9 360.7,715.8 361.2,715.6 361.7,715.4 362.2,715.2 362.7,715.0 363.2,714.7 363.7,714.4 364.2,714.0 364.7,713.7 365.2,713.4 365.7,713.0 366.2,712.7 366.7,712.5 367.2,712.3 367.7,712.2 368.2,712.2 368.7,712.3 369.2,712.4 369.7,712.6 370.2,712.9 370.7,713.2 371.2,713.5 371.7,713.8 372.2,714.2 372.7,714.5 373.2,714.8 373.7,715.1 374.2,715.3 374.7,715.5 375.2,715.7 375.7,715.8 376.2,715.9 376.7,716.0 377.2,716.1 377.7,716.1 378.2,716.1 378.7,716.2 379.2,716.2 379.7,716.2 380.2,716.2 380.7,716.2 381.2,716.2 381.7,716.2 382.2,716.2 382.7,716.2 383.2,716.2 383.7,716.2 384.2,716.2 384.7,716.2 385.2,716.2 385.7,716.1 386.2,716.1 386.7,716.0 387.2,715.9 387.7,715.8 388.2,715.7 388.7,715.5 389.2,715.3 389.7,715.0 390.2,714.7 390.7,714.4 391.2,714.1 391.7,713.9 392.2,713.6 392.7,713.4 393.2,713.3 393.7,713.2 394.2,713.2 394.7,713.3 395.2,713.5 395.7,713.7 396.2,714.0 396.7,714.3 397.2,714.6 397.7,714.9 398.2,715.2 398.7,715.4 399.2,715.6 399.7,715.8 400.2,715.9 400.7,716.0 401.2,716.1 401.7,716.1 402.2,716.1 402.7,716.2 403.2,716.2 403.7,716.2 404.2,716.2 404.7,716.2 405.2,716.2 405.7,716.2 406.2,716.2 406.7,716.2 407.2,716.2 407.7,716.2 408.2,716.2 408.7,716.2 409.2,716.2 409.7,716.2 410.2,716.2 410.7,716.2 411.2,716.2 411.7,716.2 412.2,716.2 412.7,716.2 413.2,716.2 413.7,716.2 414.2,716.2 414.7,716.2 415.2,716.2 415.7,716.2 416.2,716.2 416.7,716.2 417.2,716.2 417.7,716.2 418.2,716.2 418.7,716.2 419.2,716.2 419.7,716.2 420.2,716.2 420.7,716.2 421.2,716.2 421.7,716.2 422.2,716.2 422.7,716.2 423.2,716.2 423.7,716.2 424.2,716.2 424.7,716.2 425.2,716.2 425.7,716.2 426.2,716.2 426.7,716.2 427.2,716.2 427.7,716.2 428.2,716.2 428.7,716.2 429.2,716.2 429.7,716.2 430.2,716.2" fill="none" stroke="#e5383c" stroke-width="0.75"/>
<polyline points="347.2,709.2 347.7,707.2 348.2,705.0 348.7,702.6 349.2,700.1 349.7,697.5 350.2,695.1 350.7,693.0 351.2,691.2 351.7,689.9 352.2,689.3 352.7,689.3 353.2,689.9 353.7,691.2 354.2,693.0 354.7,695.1 355.2,697.5 355.7,700.1 356.2,702.6 356.7,705.0 357.2,707.2 357.7,709.2 358.2,710.8 358.7,712.2 359.2,713.3 359.7,714.1 360.2,714.8 360.7,715.2 361.2,715.6 361.7,715.8 362.2,715.9 362.7,716.0 363.2,716.1 363.7,716.1 364.2,716.2 364.7,716.2 365.2,716.2 365.7,716.2 366.2,716.2 366.7,716.2 367.2,716.2 367.7,716.2 368.2,716.2 368.7,716.2 369.2,716.2 369.7,716.2 370.2,716.2 370.7,716.2 371.2,716.2 371.7,716.2 372.2,716.2 372.7,716.2 373.2,716.2 373.7,716.2 374.2,716.2 374.7,716.2 375.2,716.2 375.7,716.2 376.2,716.2 376.7,716.2 377.2,716.2 377.7,716.1 378.2,716.1 378.7,716.0 379.2,715.9 379.7,715.8 380.2,715.6 380.7,715.2 381.2,714.8 381.7,714.2 382.2,713.3 382.7,712.3 383.2,711.0 383.7,709.5 384.2,707.7 384.7,705.6 385.2,703.5 385.7,701.2 386.2,698.9 386.7,696.8 387.2,695.0 387.7,693.6 388.2,692.6 388.7,692.2 389.2,692.4 389.7,693.1 390.2,694.4 390.7,696.1 391.2,698.1 391.7,700.3 392.2,702.6 392.7,704.8 393.2,706.9 393.7,708.8 394.2,710.4 394.7,711.8 395.2,713.0 395.7,713.9 396.2,714.5 396.7,715.1 397.2,715.4 397.7,715.7 398.2,715.9 398.7,716.0 399.2,716.1 399.7,716.1 400.2,716.1 400.7,716.1 401.2,716.1 401.7,716.1 402.2,716.1 402.7,716.1 403.2,716.0 403.7,715.9 404.2,715.8 404.7,715.7 405.2,715.6 405.7,715.4 406.2,715.3 406.7,715.0 407.2,714.8 407.7,714.5 408.2,714.3 408.7,714.0 409.2,713.7 409.7,713.4 410.2,713.1 410.7,712.8 411.2,712.6 411.7,712.4 412.2,712.3 412.7,712.2 413.2,712.2 413.7,712.3 414.2,712.4 414.7,712.5 415.2,712.8 415.7,713.0 416.2,713.3 416.7,713.6 417.2,713.9 417.7,714.2 418.2,714.5 418.7,714.8 419.2,715.0 419.7,715.2 420.2,715.4 420.7,715.6 421.2,715.7 421.7,715.8 422.2,715.9 422.7,716.0 423.2,716.0 423.7,716.1 424.2,716.1 424.7,716.1 425.2,716.2 425.7,716.2 426.2,716.2 426.7,716.2 427.2,716.2 427.7,716.2 428.2,716.2 428.7,716.2 429.2,716.2 429.7,716.2 430.2,716.2" fill="none" stroke="#2a2a2a" stroke-width="0.75"/>
<polyline points="347.2,716.2 347.7,716.1 348.2,716.1 348.7,716.0 349.2,716.0 349.7,715.8 350.2,715.7 350.7,715.5 351.2,715.2 351.7,714.7 352.2,714.2 352.7,713.5 353.2,712.6 353.7,711.5 354.2,710.1 354.7,708.4 355.2,706.5 355.7,704.2 356.2,701.7 356.7,698.9 357.2,695.9 357.7,692.7 358.2,689.5 358.7,686.2 359.2,683.1 359.7,680.3 360.2,677.7 360.7,675.7 361.2,674.2 361.7,673.2 362.2,673.0 362.7,673.3 363.2,674.3 363.7,675.7 364.2,677.7 364.7,679.9 365.2,682.4 365.7,684.9 366.2,687.4 366.7,689.7 367.2,691.6 367.7,693.2 368.2,694.4 368.7,695.0 369.2,695.2 369.7,695.0 370.2,694.4 370.7,693.5 371.2,692.3 371.7,691.0 372.2,689.8 372.7,688.6 373.2,687.6 373.7,686.9 374.2,686.5 374.7,686.5 375.2,686.8 375.7,687.4 376.2,688.4 376.7,689.5 377.2,690.8 377.7,692.2 378.2,693.5 378.7,694.7 379.2,695.7 379.7,696.4 380.2,696.8 380.7,696.9 381.2,696.7 381.7,696.3 382.2,695.6 382.7,694.8 383.2,693.9 383.7,693.1 384.2,692.4 384.7,691.9 385.2,691.6 385.7,691.6 386.2,692.0 386.7,692.7 387.2,693.7 387.7,695.0 388.2,696.6 388.7,698.3 389.2,700.1 389.7,702.0 390.2,703.9 390.7,705.6 391.2,707.3 391.7,708.8 392.2,710.2 392.7,711.4 393.2,712.4 393.7,713.3 394.2,714.0 394.7,714.5 395.2,715.0 395.7,715.3 396.2,715.6 396.7,715.7 397.2,715.9 397.7,716.0 398.2,716.1 398.7,716.1 399.2,716.1 399.7,716.1 400.2,716.1 400.7,716.1 401.2,716.1 401.7,716.1 402.2,716.1 402.7,716.0 403.2,716.0 403.7,715.9 404.2,715.8 404.7,715.7 405.2,715.6 405.7,715.4 406.2,715.2 406.7,715.0 407.2,714.8 407.7,714.6 408.2,714.4 408.7,714.2 409.2,713.9 409.7,713.7 410.2,713.6 410.7,713.4 411.2,713.3 411.7,713.2 412.2,713.2 412.7,713.2 413.2,713.3 413.7,713.4 414.2,713.6 414.7,713.7 415.2,713.9 415.7,714.2 416.2,714.4 416.7,714.6 417.2,714.8 417.7,715.0 418.2,715.2 418.7,715.4 419.2,715.6 419.7,715.7 420.2,715.8 420.7,715.9 421.2,716.0 421.7,716.0 422.2,716.1 422.7,716.1 423.2,716.1 423.7,716.2 424.2,716.2 424.7,716.2 425.2,716.2 425.7,716.2 426.2,716.2 426.7,716.2 427.2,716.2 427.7,716.2 428.2,716.2 428.7,716.2 429.2,716.2 429.7,716.2 430.2,716.2" fill="none" stroke="#4a5ccc" stroke-width="0.75"/>
<polyline points="347.2,713.0 347.7,712.7 348.2,712.4 348.7,712.3 349.2,712.2 349.7,712.3 350.2,712.4 350.7,712.7 351.2,713.0 351.7,713.4 352.2,713.8 352.7,714.2 353.2,714.6 353.7,714.9 354.2,715.2 354.7,715.5 355.2,715.7 355.7,715.8 356.2,715.9 356.7,716.0 357.2,716.1 357.7,716.1 358.2,716.2 358.7,716.2 359.2,716.2 359.7,716.2 360.2,716.2 360.7,716.2 361.2,716.2 361.7,716.2 362.2,716.2 362.7,716.2 363.2,716.2 363.7,716.2 364.2,716.2 364.7,716.2 365.2,716.2 365.7,716.2 366.2,716.2 366.7,716.2 367.2,716.2 367.7,716.2 368.2,716.2 368.7,716.2 369.2,716.2 369.7,716.2 370.2,716.2 370.7,716.2 371.2,716.2 371.7,716.2 372.2,716.2 372.7,716.2 373.2,716.2 373.7,716.2 374.2,716.2 374.7,716.2 375.2,716.2 375.7,716.2 376.2,716.2 376.7,716.2 377.2,716.2 377.7,716.2 378.2,716.2 378.7,716.2 379.2,716.2 379.7,716.2 380.2,716.2 380.7,716.2 381.2,716.2 381.7,716.2 382.2,716.2 382.7,716.2 383.2,716.2 383.7,716.2 384.2,716.2 384.7,716.2 385.2,716.2 385.7,716.2 386.2,716.1 386.7,716.1 387.2,716.1 387.7,716.0 388.2,715.9 388.7,715.7 389.2,715.5 389.7,715.2 390.2,714.8 390.7,714.2 391.2,713.5 391.7,712.5 392.2,711.3 392.7,709.9 393.2,708.1 393.7,706.1 394.2,703.7 394.7,701.1 395.2,698.2 395.7,695.1 396.2,691.9 396.7,688.7 397.2,685.7 397.7,682.8 398.2,680.3 398.7,678.3 399.2,676.7 399.7,675.8 400.2,675.5 400.7,675.8 401.2,676.7 401.7,678.0 402.2,679.7 402.7,681.5 403.2,683.4 403.7,685.2 404.2,686.7 404.7,687.9 405.2,688.7 405.7,689.0 406.2,688.8 406.7,688.2 407.2,687.2 407.7,685.9 408.2,684.6 408.7,683.2 409.2,681.9 409.7,680.9 410.2,680.3 410.7,680.1 411.2,680.3 411.7,681.0 412.2,682.0 412.7,683.4 413.2,685.0 413.7,686.7 414.2,688.4 414.7,689.8 415.2,691.0 415.7,691.7 416.2,691.9 416.7,691.5 417.2,690.7 417.7,689.3 418.2,687.5 418.7,685.3 419.2,683.0 419.7,680.7 420.2,678.4 420.7,676.5 421.2,674.9 421.7,673.9 422.2,673.4 422.7,673.6 423.2,674.4 423.7,675.7 424.2,677.6 424.7,679.7 425.2,682.1 425.7,684.5 426.2,686.8 426.7,688.9 427.2,690.7 427.7,692.1 428.2,693.1 428.7,693.6 429.2,693.8 429.7,693.5 430.2,693.1" fill="none" stroke="#60bd60" stroke-width="0.75"/>
<rect x="352.5" y="647.0" width="2.6" height="3.2" fill="#2a2a2a"/>
<text x="353.80" y="655.90" font-size="5.6" fill="#2a2a2a" text-anchor="middle" font-family="Liberation Mono">G</text>
<rect x="361.7" y="647.0" width="2.6" height="3.2" fill="#4a5ccc"/>
<text x="363.00" y="655.90" font-size="5.6" fill="#4a5ccc" text-anchor="middle" font-family="Liberation Mono">C</text>
<rect x="373.7" y="647.0" width="2.6" height="3.2" fill="#4a5ccc"/>
<text x="375.00" y="655.90" font-size="5.6" fill="#4a5ccc" text-anchor="middle" font-family="Liberation Mono">C</text>
<rect x="387.5" y="647.2" width="2.4" height="3.4" fill="#fff" stroke="#aaa" stroke-width="0.5"/>
<text x="388.70" y="655.90" font-size="5.6" fill="#c030c0" text-anchor="middle" font-family="Liberation Mono">N</text>
<rect x="399.5" y="647.0" width="2.6" height="3.2" fill="#60bd60"/>
<text x="400.80" y="655.90" font-size="5.6" fill="#60bd60" text-anchor="middle" font-family="Liberation Mono">A</text>
<rect x="410.8" y="647.0" width="2.6" height="3.2" fill="#60bd60"/>
<text x="412.10" y="655.90" font-size="5.6" fill="#60bd60" text-anchor="middle" font-family="Liberation Mono">A</text>
<rect x="421.3" y="647.0" width="2.6" height="3.2" fill="#60bd60"/>
<text x="422.60" y="655.90" font-size="5.6" fill="#60bd60" text-anchor="middle" font-family="Liberation Mono">A</text>
<path d="M388.70,663.40 L388.70,665.50 M388.70,663.40 L386.88,664.45 M388.70,663.40 L386.88,662.35 M388.70,663.40 L388.70,661.30 M388.70,663.40 L390.52,662.35 M388.70,663.40 L390.52,664.45" stroke="#6a6a6a" stroke-width="0.75" fill="none"/>
<rect x="431.7" y="643.2" width="80.3" height="74.2" rx="0.8" fill="#fff" stroke="#444" stroke-width="1.1"/>
<polyline points="431.7,713.2 432.2,712.0 432.7,710.5 433.2,708.6 433.7,706.3 434.2,703.7 434.7,700.9 435.2,698.0 435.7,695.1 436.2,692.5 436.7,690.2 437.2,688.5 437.7,687.5 438.2,687.2 438.7,687.8 439.2,689.1 439.7,691.0 440.2,693.5 440.7,696.3 441.2,699.2 441.7,702.1 442.2,704.8 442.7,707.2 443.2,709.4 443.7,711.1 444.2,712.5 444.7,713.6 445.2,714.4 445.7,715.0 446.2,715.4 446.7,715.7 447.2,715.9 447.7,716.0 448.2,716.1 448.7,716.1 449.2,716.2 449.7,716.2 450.2,716.2 450.7,716.2 451.2,716.2 451.7,716.1 452.2,716.1 452.7,716.0 453.2,715.9 453.7,715.8 454.2,715.5 454.7,715.2 455.2,714.7 455.7,714.0 456.2,713.1 456.7,712.0 457.2,710.6 457.7,709.0 458.2,707.2 458.7,705.3 459.2,703.3 459.7,701.3 460.2,699.5 460.7,698.0 461.2,696.9 461.7,696.3 462.2,696.2 462.7,696.7 463.2,697.7 463.7,699.1 464.2,700.8 464.7,702.7 465.2,704.6 465.7,706.5 466.2,708.1 466.7,709.5 467.2,710.5 467.7,711.2 468.2,711.4 468.7,711.3 469.2,710.9 469.7,710.1 470.2,709.1 470.7,708.0 471.2,706.8 471.7,705.7 472.2,704.7 472.7,703.9 473.2,703.4 473.7,703.2 474.2,703.4 474.7,703.9 475.2,704.7 475.7,705.8 476.2,707.0 476.7,708.3 477.2,709.6 477.7,710.9 478.2,712.0 478.7,713.0 479.2,713.8 479.7,714.4 480.2,715.0 480.7,715.3 481.2,715.6 481.7,715.8 482.2,716.0 482.7,716.1 483.2,716.1 483.7,716.1 484.2,716.2 484.7,716.2 485.2,716.2 485.7,716.2 486.2,716.2 486.7,716.2 487.2,716.2 487.7,716.2 488.2,716.2 488.7,716.2 489.2,716.2 489.7,716.2 490.2,716.2 490.7,716.2 491.2,716.2 491.7,716.2 492.2,716.2 492.7,716.2 493.2,716.2 493.7,716.2 494.2,716.2 494.7,716.2 495.2,716.2 495.7,716.2 496.2,716.1 496.7,716.1 497.2,716.0 497.7,715.8 498.2,715.6 498.7,715.3 499.2,714.8 499.7,714.1 500.2,713.1 500.7,711.9 501.2,710.3 501.7,708.3 502.2,706.0 502.7,703.3 503.2,700.4 503.7,697.4 504.2,694.4 504.7,691.7 505.2,689.3 505.7,687.5 506.2,686.5 506.7,686.2 507.2,686.8 507.7,688.2 508.2,690.2 508.7,692.7 509.2,695.6 509.7,698.6 510.2,701.6 510.7,704.4 511.2,706.9 511.7,709.1" fill="none" stroke="#e5383c" stroke-width="0.75"/>
<polyline points="431.7,716.2 432.2,716.2 432.7,716.2 433.2,716.2 433.7,716.2 434.2,716.2 434.7,716.2 435.2,716.2 435.7,716.2 436.2,716.2 436.7,716.2 437.2,716.2 437.7,716.2 438.2,716.2 438.7,716.1 439.2,716.1 439.7,715.9 440.2,715.8 440.7,715.5 441.2,715.0 441.7,714.3 442.2,713.3 442.7,711.8 443.2,709.8 443.7,707.3 444.2,704.0 444.7,700.0 445.2,695.3 445.7,690.1 446.2,684.6 446.7,679.0 447.2,673.6 447.7,669.0 448.2,665.3 448.7,663.0 449.2,662.2 449.7,663.0 450.2,665.3 450.7,669.0 451.2,673.6 451.7,679.0 452.2,684.6 452.7,690.1 453.2,695.3 453.7,700.0 454.2,704.0 454.7,707.3 455.2,709.8 455.7,711.8 456.2,713.3 456.7,714.3 457.2,715.0 457.7,715.5 458.2,715.8 458.7,715.9 459.2,716.1 459.7,716.1 460.2,716.2 460.7,716.2 461.2,716.2 461.7,716.2 462.2,716.2 462.7,716.1 463.2,716.1 463.7,716.0 464.2,715.9 464.7,715.8 465.2,715.5 465.7,715.2 466.2,714.7 466.7,714.0 467.2,713.2 467.7,712.1 468.2,710.9 468.7,709.4 469.2,707.8 469.7,706.2 470.2,704.5 470.7,703.0 471.2,701.7 471.7,700.8 472.2,700.3 472.7,700.2 473.2,700.7 473.7,701.5 474.2,702.7 474.7,704.2 475.2,705.8 475.7,707.5 476.2,709.1 476.7,710.6 477.2,711.9 477.7,713.0 478.2,713.9 478.7,714.6 479.2,715.1 479.7,715.5 480.2,715.7 480.7,715.9 481.2,716.0 481.7,716.1 482.2,716.1 482.7,716.2 483.2,716.2 483.7,716.2 484.2,716.2 484.7,716.2 485.2,716.2 485.7,716.2 486.2,716.2 486.7,716.2 487.2,716.2 487.7,716.2 488.2,716.2 488.7,716.2 489.2,716.2 489.7,716.2 490.2,716.2 490.7,716.2 491.2,716.2 491.7,716.2 492.2,716.2 492.7,716.2 493.2,716.2 493.7,716.2 494.2,716.2 494.7,716.2 495.2,716.2 495.7,716.2 496.2,716.2 496.7,716.2 497.2,716.2 497.7,716.2 498.2,716.2 498.7,716.2 499.2,716.2 499.7,716.2 500.2,716.2 500.7,716.2 501.2,716.2 501.7,716.2 502.2,716.2 502.7,716.2 503.2,716.2 503.7,716.2 504.2,716.2 504.7,716.2 505.2,716.2 505.7,716.2 506.2,716.2 506.7,716.2 507.2,716.2 507.7,716.2 508.2,716.2 508.7,716.2 509.2,716.2 509.7,716.2 510.2,716.2 510.7,716.2 511.2,716.2 511.7,716.2" fill="none" stroke="#2a2a2a" stroke-width="0.75"/>
<polyline points="431.7,716.2 432.2,716.2 432.7,716.2 433.2,716.2 433.7,716.2 434.2,716.2 434.7,716.2 435.2,716.2 435.7,716.2 436.2,716.2 436.7,716.2 437.2,716.2 437.7,716.2 438.2,716.2 438.7,716.2 439.2,716.2 439.7,716.2 440.2,716.2 440.7,716.2 441.2,716.2 441.7,716.2 442.2,716.2 442.7,716.2 443.2,716.2 443.7,716.2 444.2,716.2 444.7,716.2 445.2,716.2 445.7,716.2 446.2,716.2 446.7,716.2 447.2,716.2 447.7,716.2 448.2,716.2 448.7,716.2 449.2,716.2 449.7,716.2 450.2,716.2 450.7,716.2 451.2,716.2 451.7,716.2 452.2,716.2 452.7,716.2 453.2,716.2 453.7,716.2 454.2,716.2 454.7,716.2 455.2,716.2 455.7,716.2 456.2,716.2 456.7,716.2 457.2,716.2 457.7,716.2 458.2,716.2 458.7,716.2 459.2,716.2 459.7,716.2 460.2,716.2 460.7,716.2 461.2,716.2 461.7,716.2 462.2,716.2 462.7,716.2 463.2,716.2 463.7,716.2 464.2,716.2 464.7,716.2 465.2,716.2 465.7,716.2 466.2,716.1 466.7,716.1 467.2,716.0 467.7,716.0 468.2,715.9 468.7,715.8 469.2,715.7 469.7,715.5 470.2,715.4 470.7,715.2 471.2,715.1 471.7,714.9 472.2,714.8 472.7,714.7 473.2,714.6 473.7,714.6 474.2,714.6 474.7,714.6 475.2,714.7 475.7,714.7 476.2,714.8 476.7,714.7 477.2,714.6 477.7,714.3 478.2,713.7 478.7,713.0 479.2,711.8 479.7,710.4 480.2,708.5 480.7,706.3 481.2,703.7 481.7,700.9 482.2,698.0 482.7,695.2 483.2,692.6 483.7,690.5 484.2,689.0 484.7,688.2 485.2,688.3 485.7,689.1 486.2,690.7 486.7,692.8 487.2,695.2 487.7,697.8 488.2,700.2 488.7,702.4 489.2,703.9 489.7,704.9 490.2,705.1 490.7,704.5 491.2,703.2 491.7,701.3 492.2,698.8 492.7,696.0 493.2,693.1 493.7,690.4 494.2,688.0 494.7,686.3 495.2,685.3 495.7,685.2 496.2,686.1 496.7,687.7 497.2,690.1 497.7,692.9 498.2,696.1 498.7,699.3 499.2,702.5 499.7,705.3 500.2,707.9 500.7,710.0 501.2,711.7 501.7,713.0 502.2,714.1 502.7,714.8 503.2,715.3 503.7,715.6 504.2,715.9 504.7,716.0 505.2,716.1 505.7,716.1 506.2,716.2 506.7,716.2 507.2,716.2 507.7,716.2 508.2,716.2 508.7,716.2 509.2,716.2 509.7,716.2 510.2,716.2 510.7,716.2 511.2,716.2 511.7,716.2" fill="none" stroke="#4a5ccc" stroke-width="0.75"/>
<rect x="437.9" y="647.0" width="2.6" height="3.2" fill="#e5383c"/>
<text x="439.20" y="655.90" font-size="5.6" fill="#e5383c" text-anchor="middle" font-family="Liberation Mono">T</text>
<rect x="448.4" y="647.0" width="2.6" height="3.2" fill="#2a2a2a"/>
<text x="449.70" y="655.90" font-size="5.6" fill="#2a2a2a" text-anchor="middle" font-family="Liberation Mono">G</text>
<rect x="461.0" y="647.0" width="2.6" height="3.2" fill="#e5383c"/>
<text x="462.30" y="655.90" font-size="5.6" fill="#e5383c" text-anchor="middle" font-family="Liberation Mono">T</text>
<rect x="473.0" y="647.2" width="2.4" height="3.4" fill="#fff" stroke="#aaa" stroke-width="0.5"/>
<text x="474.20" y="655.90" font-size="5.6" fill="#c030c0" text-anchor="middle" font-family="Liberation Mono">N</text>
<rect x="483.9" y="647.0" width="2.6" height="3.2" fill="#4a5ccc"/>
<text x="485.20" y="655.90" font-size="5.6" fill="#4a5ccc" text-anchor="middle" font-family="Liberation Mono">C</text>
<rect x="493.9" y="647.0" width="2.6" height="3.2" fill="#4a5ccc"/>
<text x="495.20" y="655.90" font-size="5.6" fill="#4a5ccc" text-anchor="middle" font-family="Liberation Mono">C</text>
<rect x="505.2" y="647.0" width="2.6" height="3.2" fill="#e5383c"/>
<text x="506.50" y="655.90" font-size="5.6" fill="#e5383c" text-anchor="middle" font-family="Liberation Mono">T</text>
<path d="M474.20,663.40 L474.20,665.50 M474.20,663.40 L472.38,664.45 M474.20,663.40 L472.38,662.35 M474.20,663.40 L474.20,661.30 M474.20,663.40 L476.02,662.35 M474.20,663.40 L476.02,664.45" stroke="#6a6a6a" stroke-width="0.75" fill="none"/>
<text x="377.00" y="729.60" font-size="8.9" fill="#222" text-anchor="start">rs2283197 (C/G)</text>
<text x="444.80" y="729.60" font-size="8.9" fill="#222" text-anchor="start">rs2283196 (G/T)</text>
<path d="M428.20,731.6 L435.10,739.5 M445.80,731.6 L439.90,739.5" stroke="#222" stroke-width="0.8" fill="none"/>
<line x1="390.9" y1="739.5" x2="465.4" y2="739.5" stroke="#333" stroke-width="1.1"/>
<line x1="373.8" y1="739.8" x2="390.9" y2="739.8" stroke="#444" stroke-width="0.9" stroke-dasharray="1,1"/>
<line x1="465.4" y1="739.8" x2="482.8" y2="739.8" stroke="#444" stroke-width="0.9" stroke-dasharray="1,1"/>
<line x1="429.40" y1="737.3" x2="429.40" y2="741.6" stroke="#444" stroke-width="0.8"/>
<text x="371.80" y="742.30" font-size="7.9" fill="#222" text-anchor="end"><tspan font-style="italic">Bgl</tspan>II 6</text>
<text x="484.00" y="742.40" font-size="7.9" fill="#222" text-anchor="start"><tspan font-style="italic">Bgl</tspan>II 32</text>
<text x="408.00" y="748.60" font-size="8.4" fill="#111" text-anchor="end">7F</text>
<path d="M410.00,743.1 L417.60,746.4 L410.00,749.7 Z" fill="#111"/>
<text x="430.90" y="748.20" font-size="7.9" fill="#222" text-anchor="middle"><tspan font-style="italic">Bgl</tspan>II</text>
<path d="M450.80,743.3 L443.80,746.5 L450.80,749.7 Z" fill="#111"/>
<text x="452.50" y="748.70" font-size="8.4" fill="#111" text-anchor="start">31R</text>
<text x="429.40" y="757.00" font-size="8.1" fill="#222" text-anchor="middle">7-31</text>
<text x="518.60" y="638.80" font-size="9.6" fill="#222" text-anchor="start">3C ICR2-Enh 2</text>
<rect x="518.4" y="643.2" width="83" height="74.2" rx="0.8" fill="#fff" stroke="#444" stroke-width="1.1"/>
<polyline points="518.4,700.1 518.9,702.1 519.4,704.2 519.9,706.4 520.4,708.5 520.9,710.4 521.4,712.0 521.9,713.2 522.4,714.2 522.9,714.9 523.4,715.4 523.9,715.7 524.4,715.9 524.9,716.0 525.4,716.1 525.9,716.2 526.4,716.2 526.9,716.2 527.4,716.2 527.9,716.2 528.4,716.2 528.9,716.2 529.4,716.2 529.9,716.2 530.4,716.2 530.9,716.2 531.4,716.2 531.9,716.2 532.4,716.2 532.9,716.2 533.4,716.2 533.9,716.2 534.4,716.2 534.9,716.2 535.4,716.2 535.9,716.2 536.4,716.2 536.9,716.2 537.4,716.2 537.9,716.2 538.4,716.2 538.9,716.2 539.4,716.2 539.9,716.2 540.4,716.2 540.9,716.2 541.4,716.2 541.9,716.2 542.4,716.2 542.9,716.2 543.4,716.2 543.9,716.2 544.4,716.2 544.9,716.2 545.4,716.2 545.9,716.2 546.4,716.2 546.9,716.2 547.4,716.2 547.9,716.2 548.4,716.2 548.9,716.2 549.4,716.2 549.9,716.2 550.4,716.2 550.9,716.2 551.4,716.2 551.9,716.2 552.4,716.2 552.9,716.2 553.4,716.2 553.9,716.2 554.4,716.2 554.9,716.2 555.4,716.2 555.9,716.2 556.4,716.2 556.9,716.2 557.4,716.2 557.9,716.2 558.4,716.2 558.9,716.2 559.4,716.2 559.9,716.2 560.4,716.2 560.9,716.2 561.4,716.2 561.9,716.2 562.4,716.2 562.9,716.2 563.4,716.2 563.9,716.2 564.4,716.2 564.9,716.2 565.4,716.2 565.9,716.2 566.4,716.2 566.9,716.2 567.4,716.2 567.9,716.2 568.4,716.2 568.9,716.2 569.4,716.2 569.9,716.2 570.4,716.2 570.9,716.2 571.4,716.2 571.9,716.2 572.4,716.2 572.9,716.2 573.4,716.2 573.9,716.2 574.4,716.2 574.9,716.2 575.4,716.2 575.9,716.2 576.4,716.2 576.9,716.2 577.4,716.2 577.9,716.2 578.4,716.2 578.9,716.2 579.4,716.2 579.9,716.2 580.4,716.2 580.9,716.2 581.4,716.2 581.9,716.2 582.4,716.2 582.9,716.2 583.4,716.2 583.9,716.2 584.4,716.2 584.9,716.2 585.4,716.2 585.9,716.2 586.4,716.2 586.9,716.2 587.4,716.2 587.9,716.2 588.4,716.2 588.9,716.2 589.4,716.2 589.9,716.2 590.4,716.2 590.9,716.2 591.4,716.2 591.9,716.2 592.4,716.2 592.9,716.2 593.4,716.2 593.9,716.2 594.4,716.2 594.9,716.2 595.4,716.2 595.9,716.2 596.4,716.2 596.9,716.2 597.4,716.2 597.9,716.2 598.4,716.2 598.9,716.2 599.4,716.2 599.9,716.2 600.4,716.2 600.9,716.2 601.4,716.2" fill="none" stroke="#e5383c" stroke-width="0.75"/>
<polyline points="518.4,713.6 518.9,712.6 519.4,711.4 519.9,710.0 520.4,708.3 520.9,706.3 521.4,704.2 521.9,702.0 522.4,699.7 522.9,697.4 523.4,695.4 523.9,693.7 524.4,692.3 524.9,691.5 525.4,691.2 525.9,691.5 526.4,692.3 526.9,693.7 527.4,695.4 527.9,697.4 528.4,699.7 528.9,702.0 529.4,704.2 529.9,706.3 530.4,708.3 530.9,710.0 531.4,711.4 531.9,712.6 532.4,713.6 532.9,714.3 533.4,714.9 533.9,715.3 534.4,715.6 534.9,715.8 535.4,715.9 535.9,716.0 536.4,716.1 536.9,716.1 537.4,716.2 537.9,716.2 538.4,716.2 538.9,716.2 539.4,716.2 539.9,716.2 540.4,716.2 540.9,716.2 541.4,716.2 541.9,716.2 542.4,716.2 542.9,716.2 543.4,716.2 543.9,716.2 544.4,716.2 544.9,716.2 545.4,716.2 545.9,716.2 546.4,716.2 546.9,716.2 547.4,716.2 547.9,716.2 548.4,716.2 548.9,716.2 549.4,716.1 549.9,716.1 550.4,716.1 550.9,716.0 551.4,715.8 551.9,715.6 552.4,715.4 552.9,715.0 553.4,714.5 553.9,713.8 554.4,712.9 554.9,711.9 555.4,710.6 555.9,709.1 556.4,707.5 556.9,705.8 557.4,704.0 557.9,702.2 558.4,700.6 558.9,699.2 559.4,698.1 559.9,697.4 560.4,697.2 560.9,697.4 561.4,698.1 561.9,699.2 562.4,700.6 562.9,702.2 563.4,704.0 563.9,705.8 564.4,707.5 564.9,709.1 565.4,710.6 565.9,711.9 566.4,712.9 566.9,713.8 567.4,714.5 567.9,715.0 568.4,715.4 568.9,715.6 569.4,715.8 569.9,716.0 570.4,716.1 570.9,716.1 571.4,716.1 571.9,716.2 572.4,716.2 572.9,716.2 573.4,716.2 573.9,716.2 574.4,716.2 574.9,716.2 575.4,716.2 575.9,716.2 576.4,716.2 576.9,716.2 577.4,716.2 577.9,716.2 578.4,716.2 578.9,716.2 579.4,716.2 579.9,716.2 580.4,716.2 580.9,716.2 581.4,716.2 581.9,716.2 582.4,716.2 582.9,716.2 583.4,716.2 583.9,716.2 584.4,716.2 584.9,716.2 585.4,716.2 585.9,716.2 586.4,716.2 586.9,716.2 587.4,716.2 587.9,716.2 588.4,716.2 588.9,716.2 589.4,716.2 589.9,716.2 590.4,716.2 590.9,716.2 591.4,716.2 591.9,716.2 592.4,716.2 592.9,716.2 593.4,716.2 593.9,716.2 594.4,716.2 594.9,716.2 595.4,716.2 595.9,716.2 596.4,716.2 596.9,716.2 597.4,716.2 597.9,716.2 598.4,716.2 598.9,716.2 599.4,716.2 599.9,716.2 600.4,716.2 600.9,716.2 601.4,716.2" fill="none" stroke="#2a2a2a" stroke-width="0.75"/>
<polyline points="518.4,714.3 518.9,714.4 519.4,714.6 519.9,714.8 520.4,715.0 520.9,715.2 521.4,715.3 521.9,715.5 522.4,715.6 522.9,715.7 523.4,715.7 523.9,715.7 524.4,715.6 524.9,715.4 525.4,715.2 525.9,714.8 526.4,714.3 526.9,713.6 527.4,712.8 527.9,711.7 528.4,710.3 528.9,708.7 529.4,706.7 529.9,704.4 530.4,701.8 530.9,698.8 531.4,695.6 531.9,692.1 532.4,688.5 532.9,684.9 533.4,681.3 533.9,677.9 534.4,674.8 534.9,672.2 535.4,670.0 535.9,668.5 536.4,667.7 536.9,667.5 537.4,668.0 537.9,669.1 538.4,670.7 538.9,672.7 539.4,674.9 539.9,677.2 540.4,679.5 540.9,681.6 541.4,683.4 541.9,684.8 542.4,685.7 542.9,686.2 543.4,686.3 543.9,685.9 544.4,685.3 544.9,684.4 545.4,683.4 545.9,682.4 546.4,681.5 546.9,680.8 547.4,680.4 547.9,680.4 548.4,680.6 548.9,681.2 549.4,682.0 549.9,683.0 550.4,684.2 550.9,685.3 551.4,686.4 551.9,687.2 552.4,687.8 552.9,688.1 553.4,688.0 553.9,687.6 554.4,686.9 554.9,685.9 555.4,684.8 555.9,683.7 556.4,682.6 556.9,681.8 557.4,681.2 557.9,681.0 558.4,681.2 558.9,681.9 559.4,683.0 559.9,684.6 560.4,686.6 560.9,688.8 561.4,691.3 561.9,693.9 562.4,696.6 562.9,699.2 563.4,701.7 563.9,704.1 564.4,706.2 564.9,708.1 565.4,709.7 565.9,711.1 566.4,712.3 566.9,713.2 567.4,714.0 567.9,714.6 568.4,715.0 568.9,715.4 569.4,715.6 569.9,715.8 570.4,715.9 570.9,716.0 571.4,716.1 571.9,716.1 572.4,716.2 572.9,716.2 573.4,716.2 573.9,716.2 574.4,716.2 574.9,716.2 575.4,716.2 575.9,716.2 576.4,716.2 576.9,716.2 577.4,716.2 577.9,716.2 578.4,716.2 578.9,716.2 579.4,716.1 579.9,716.1 580.4,716.1 580.9,716.1 581.4,716.0 581.9,715.9 582.4,715.9 582.9,715.8 583.4,715.7 583.9,715.6 584.4,715.4 584.9,715.3 585.4,715.1 585.9,715.0 586.4,714.8 586.9,714.6 587.4,714.5 587.9,714.3 588.4,714.2 588.9,714.1 589.4,714.0 589.9,714.0 590.4,714.0 590.9,714.0 591.4,714.1 591.9,714.2 592.4,714.3 592.9,714.4 593.4,714.6 593.9,714.8 594.4,714.9 594.9,715.1 595.4,715.3 595.9,715.4 596.4,715.5 596.9,715.7 597.4,715.8 597.9,715.9 598.4,715.9 598.9,716.0 599.4,716.0 599.9,716.1 600.4,716.1 600.9,716.1 601.4,716.2" fill="none" stroke="#4a5ccc" stroke-width="0.75"/>
<polyline points="518.4,716.2 518.9,716.2 519.4,716.2 519.9,716.2 520.4,716.2 520.9,716.2 521.4,716.2 521.9,716.2 522.4,716.2 522.9,716.2 523.4,716.2 523.9,716.2 524.4,716.2 524.9,716.2 525.4,716.2 525.9,716.2 526.4,716.2 526.9,716.2 527.4,716.2 527.9,716.2 528.4,716.2 528.9,716.2 529.4,716.2 529.9,716.2 530.4,716.2 530.9,716.2 531.4,716.2 531.9,716.2 532.4,716.2 532.9,716.2 533.4,716.2 533.9,716.2 534.4,716.2 534.9,716.2 535.4,716.1 535.9,716.1 536.4,716.1 536.9,716.1 537.4,716.0 537.9,715.9 538.4,715.9 538.9,715.8 539.4,715.7 539.9,715.5 540.4,715.4 540.9,715.2 541.4,715.0 541.9,714.8 542.4,714.6 542.9,714.3 543.4,714.1 543.9,713.9 544.4,713.7 544.9,713.5 545.4,713.4 545.9,713.3 546.4,713.2 546.9,713.2 547.4,713.2 547.9,713.3 548.4,713.4 548.9,713.6 549.4,713.8 549.9,714.0 550.4,714.2 550.9,714.4 551.4,714.7 551.9,714.9 552.4,715.1 552.9,715.3 553.4,715.4 553.9,715.6 554.4,715.7 554.9,715.8 555.4,715.9 555.9,715.9 556.4,716.0 556.9,716.0 557.4,716.0 557.9,716.0 558.4,715.9 558.9,715.8 559.4,715.6 559.9,715.3 560.4,714.9 560.9,714.5 561.4,713.8 561.9,713.0 562.4,711.9 562.9,710.6 563.4,709.1 563.9,707.2 564.4,705.1 564.9,702.7 565.4,700.1 565.9,697.3 566.4,694.3 566.9,691.4 567.4,688.5 567.9,685.8 568.4,683.5 568.9,681.5 569.4,680.0 569.9,679.1 570.4,678.8 570.9,679.1 571.4,679.9 571.9,681.1 572.4,682.8 572.9,684.6 573.4,686.5 573.9,688.4 574.4,690.1 574.9,691.5 575.4,692.4 575.9,692.9 576.4,692.9 576.9,692.3 577.4,691.3 577.9,689.9 578.4,688.2 578.9,686.4 579.4,684.5 579.9,682.8 580.4,681.3 580.9,680.2 581.4,679.5 581.9,679.3 582.4,679.6 582.9,680.3 583.4,681.5 583.9,682.9 584.4,684.6 584.9,686.2 585.4,687.8 585.9,689.1 586.4,690.1 586.9,690.6 587.4,690.7 587.9,690.3 588.4,689.4 588.9,688.1 589.4,686.5 589.9,684.6 590.4,682.8 590.9,681.0 591.4,679.5 591.9,678.3 592.4,677.6 592.9,677.4 593.4,677.8 593.9,678.7 594.4,680.1 594.9,682.0 595.4,684.1 595.9,686.4 596.4,688.7 596.9,690.9 597.4,692.9 597.9,694.6 598.4,696.0 598.9,696.9 599.4,697.3 599.9,697.3 600.4,697.0 600.9,696.4 601.4,695.5" fill="none" stroke="#60bd60" stroke-width="0.75"/>
<rect x="523.7" y="647.0" width="2.6" height="3.2" fill="#2a2a2a"/>
<text x="525.00" y="655.90" font-size="5.6" fill="#2a2a2a" text-anchor="middle" font-family="Liberation Mono">G</text>
<rect x="532.9" y="647.0" width="2.6" height="3.2" fill="#4a5ccc"/>
<text x="534.20" y="655.90" font-size="5.6" fill="#4a5ccc" text-anchor="middle" font-family="Liberation Mono">C</text>
<rect x="544.9" y="647.0" width="2.6" height="3.2" fill="#4a5ccc"/>
<text x="546.20" y="655.90" font-size="5.6" fill="#4a5ccc" text-anchor="middle" font-family="Liberation Mono">C</text>
<rect x="558.7" y="647.2" width="2.4" height="3.4" fill="#fff" stroke="#aaa" stroke-width="0.5"/>
<text x="559.90" y="655.90" font-size="5.6" fill="#c030c0" text-anchor="middle" font-family="Liberation Mono">N</text>
<rect x="570.7" y="647.0" width="2.6" height="3.2" fill="#60bd60"/>
<text x="572.00" y="655.90" font-size="5.6" fill="#60bd60" text-anchor="middle" font-family="Liberation Mono">A</text>
<rect x="582.0" y="647.0" width="2.6" height="3.2" fill="#60bd60"/>
<text x="583.30" y="655.90" font-size="5.6" fill="#60bd60" text-anchor="middle" font-family="Liberation Mono">A</text>
<rect x="592.5" y="647.0" width="2.6" height="3.2" fill="#60bd60"/>
<text x="593.80" y="655.90" font-size="5.6" fill="#60bd60" text-anchor="middle" font-family="Liberation Mono">A</text>
<path d="M559.90,663.40 L559.90,665.50 M559.90,663.40 L558.08,664.45 M559.90,663.40 L558.08,662.35 M559.90,663.40 L559.90,661.30 M559.90,663.40 L561.72,662.35 M559.90,663.40 L561.72,664.45" stroke="#6a6a6a" stroke-width="0.75" fill="none"/>
<rect x="602.9" y="643.2" width="80.3" height="74.2" rx="0.8" fill="#fff" stroke="#444" stroke-width="1.1"/>
<polyline points="602.9,709.1 603.4,706.7 603.9,703.9 604.4,700.7 604.9,697.3 605.4,693.6 605.9,690.1 606.4,686.7 606.9,683.9 607.4,681.8 607.9,680.5 608.4,680.2 608.9,680.9 609.4,682.5 609.9,685.0 610.4,688.0 610.9,691.5 611.4,695.1 611.9,698.7 612.4,702.1 612.9,705.1 613.4,707.7 613.9,709.9 614.4,711.6 614.9,713.0 615.4,714.0 615.9,714.7 616.4,715.3 616.9,715.6 617.4,715.8 617.9,716.0 618.4,716.1 618.9,716.1 619.4,716.1 619.9,716.1 620.4,716.1 620.9,716.1 621.4,716.0 621.9,715.9 622.4,715.7 622.9,715.5 623.4,715.1 623.9,714.5 624.4,713.8 624.9,712.9 625.4,711.7 625.9,710.3 626.4,708.7 626.9,706.9 627.4,704.9 627.9,702.9 628.4,700.9 628.9,699.2 629.4,697.7 629.9,696.7 630.4,696.2 630.9,696.3 631.4,696.9 631.9,698.0 632.4,699.5 632.9,701.3 633.4,703.3 633.9,705.3 634.4,707.2 634.9,709.0 635.4,710.5 635.9,711.9 636.4,712.9 636.9,713.6 637.4,714.1 637.9,714.3 638.4,714.3 638.9,714.1 639.4,713.6 639.9,713.0 640.4,712.2 640.9,711.2 641.4,710.2 641.9,709.1 642.4,708.0 642.9,707.0 643.4,706.2 643.9,705.6 644.4,705.3 644.9,705.2 645.4,705.5 645.9,706.0 646.4,706.8 646.9,707.8 647.4,708.9 647.9,710.0 648.4,711.1 648.9,712.1 649.4,713.0 649.9,713.7 650.4,714.4 650.9,714.9 651.4,715.3 651.9,715.6 652.4,715.7 652.9,715.9 653.4,715.9 653.9,715.9 654.4,715.9 654.9,715.8 655.4,715.7 655.9,715.5 656.4,715.3 656.9,715.1 657.4,714.9 657.9,714.6 658.4,714.4 658.9,714.2 659.4,714.0 659.9,713.9 660.4,713.8 660.9,713.8 661.4,713.9 661.9,714.0 662.4,714.2 662.9,714.4 663.4,714.6 663.9,714.8 664.4,715.1 664.9,715.3 665.4,715.5 665.9,715.6 666.4,715.7 666.9,715.8 667.4,715.8 667.9,715.7 668.4,715.6 668.9,715.3 669.4,714.8 669.9,714.1 670.4,713.2 670.9,712.0 671.4,710.4 671.9,708.5 672.4,706.1 672.9,703.5 673.4,700.5 673.9,697.4 674.4,694.3 674.9,691.4 675.4,688.8 675.9,686.9 676.4,685.6 676.9,685.2 677.4,685.6 677.9,686.9 678.4,688.8 678.9,691.4 679.4,694.3 679.9,697.4 680.4,700.5 680.9,703.5 681.4,706.1 681.9,708.5 682.4,710.4 682.9,712.0" fill="none" stroke="#e5383c" stroke-width="0.75"/>
<polyline points="602.9,711.4 603.4,711.2 603.9,711.2 604.4,711.4 604.9,711.7 605.4,712.2 605.9,712.8 606.4,713.4 606.9,714.0 607.4,714.5 607.9,715.0 608.4,715.3 608.9,715.6 609.4,715.7 609.9,715.8 610.4,715.7 610.9,715.5 611.4,715.1 611.9,714.4 612.4,713.5 612.9,712.1 613.4,710.1 613.9,707.5 614.4,704.2 614.9,700.2 615.4,695.5 615.9,690.2 616.4,684.7 616.9,679.1 617.4,673.9 617.9,669.5 618.4,666.3 618.9,664.5 619.4,664.3 619.9,665.8 620.4,668.8 620.9,673.0 621.4,678.0 621.9,683.5 622.4,689.1 622.9,694.5 623.4,699.3 623.9,703.5 624.4,706.9 624.9,709.7 625.4,711.7 625.9,713.2 626.4,714.3 626.9,715.0 627.4,715.5 627.9,715.8 628.4,716.0 628.9,716.1 629.4,716.1 629.9,716.2 630.4,716.2 630.9,716.2 631.4,716.2 631.9,716.2 632.4,716.2 632.9,716.1 633.4,716.1 633.9,716.0 634.4,715.9 634.9,715.7 635.4,715.4 635.9,714.9 636.4,714.3 636.9,713.6 637.4,712.6 637.9,711.4 638.4,709.9 638.9,708.3 639.4,706.6 639.9,704.8 640.4,703.1 640.9,701.6 641.4,700.4 641.9,699.6 642.4,699.2 642.9,699.4 643.4,700.0 643.9,701.1 644.4,702.5 644.9,704.1 645.4,705.8 645.9,707.6 646.4,709.2 646.9,710.7 647.4,711.9 647.9,712.9 648.4,713.6 648.9,714.1 649.4,714.4 649.9,714.6 650.4,714.6 650.9,714.5 651.4,714.4 651.9,714.2 652.4,714.0 652.9,713.9 653.4,713.8 653.9,713.8 654.4,713.8 654.9,713.9 655.4,714.1 655.9,714.3 656.4,714.5 656.9,714.7 657.4,715.0 657.9,715.2 658.4,715.4 658.9,715.6 659.4,715.8 659.9,715.9 660.4,716.0 660.9,716.0 661.4,716.1 661.9,716.1 662.4,716.2 662.9,716.2 663.4,716.2 663.9,716.2 664.4,716.2 664.9,716.2 665.4,716.2 665.9,716.2 666.4,716.2 666.9,716.2 667.4,716.2 667.9,716.2 668.4,716.2 668.9,716.2 669.4,716.2 669.9,716.2 670.4,716.2 670.9,716.2 671.4,716.2 671.9,716.2 672.4,716.2 672.9,716.2 673.4,716.2 673.9,716.2 674.4,716.2 674.9,716.2 675.4,716.2 675.9,716.2 676.4,716.2 676.9,716.2 677.4,716.2 677.9,716.2 678.4,716.2 678.9,716.2 679.4,716.2 679.9,716.2 680.4,716.2 680.9,716.2 681.4,716.2 681.9,716.2 682.4,716.2 682.9,716.2" fill="none" stroke="#2a2a2a" stroke-width="0.75"/>
<polyline points="602.9,716.2 603.4,716.2 603.9,716.2 604.4,716.2 604.9,716.2 605.4,716.2 605.9,716.2 606.4,716.2 606.9,716.2 607.4,716.2 607.9,716.2 608.4,716.2 608.9,716.2 609.4,716.2 609.9,716.1 610.4,716.1 610.9,716.0 611.4,715.9 611.9,715.8 612.4,715.7 612.9,715.5 613.4,715.3 613.9,715.1 614.4,714.8 614.9,714.6 615.4,714.3 615.9,714.0 616.4,713.8 616.9,713.6 617.4,713.5 617.9,713.5 618.4,713.5 618.9,713.6 619.4,713.8 619.9,714.0 620.4,714.3 620.9,714.5 621.4,714.8 621.9,715.0 622.4,715.2 622.9,715.3 623.4,715.4 623.9,715.4 624.4,715.3 624.9,715.2 625.4,715.0 625.9,714.7 626.4,714.4 626.9,714.1 627.4,713.8 627.9,713.5 628.4,713.2 628.9,713.0 629.4,712.8 629.9,712.8 630.4,712.8 630.9,713.0 631.4,713.2 631.9,713.5 632.4,713.8 632.9,714.1 633.4,714.5 633.9,714.8 634.4,715.1 634.9,715.4 635.4,715.6 635.9,715.7 636.4,715.9 636.9,716.0 637.4,716.1 637.9,716.1 638.4,716.1 638.9,716.2 639.4,716.2 639.9,716.2 640.4,716.2 640.9,716.2 641.4,716.2 641.9,716.2 642.4,716.2 642.9,716.2 643.4,716.2 643.9,716.1 644.4,716.0 644.9,715.9 645.4,715.7 645.9,715.4 646.4,715.0 646.9,714.3 647.4,713.4 647.9,712.1 648.4,710.4 648.9,708.3 649.4,705.7 649.9,702.7 650.4,699.3 650.9,695.7 651.4,692.1 651.9,688.6 652.4,685.6 652.9,683.2 653.4,681.7 653.9,681.2 654.4,681.7 654.9,683.1 655.4,685.4 655.9,688.3 656.4,691.5 656.9,694.8 657.4,697.9 657.9,700.4 658.4,702.3 658.9,703.4 659.4,703.4 659.9,702.5 660.4,700.6 660.9,697.7 661.4,694.1 661.9,690.0 662.4,685.6 662.9,681.3 663.4,677.4 663.9,674.2 664.4,672.0 664.9,671.1 665.4,671.4 665.9,673.0 666.4,675.7 666.9,679.2 667.4,683.3 667.9,687.7 668.4,691.9 668.9,695.9 669.4,699.4 669.9,702.4 670.4,704.7 670.9,706.5 671.4,707.8 671.9,708.8 672.4,709.5 672.9,710.1 673.4,710.6 673.9,711.1 674.4,711.5 674.9,712.0 675.4,712.5 675.9,713.0 676.4,713.5 676.9,713.8 677.4,714.0 677.9,714.1 678.4,713.9 678.9,713.5 679.4,712.9 679.9,712.1 680.4,711.1 680.9,710.0 681.4,708.8 681.9,707.8 682.4,706.9 682.9,706.4" fill="none" stroke="#4a5ccc" stroke-width="0.75"/>
<rect x="609.1" y="647.0" width="2.6" height="3.2" fill="#e5383c"/>
<text x="610.40" y="655.90" font-size="5.6" fill="#e5383c" text-anchor="middle" font-family="Liberation Mono">T</text>
<rect x="619.6" y="647.0" width="2.6" height="3.2" fill="#2a2a2a"/>
<text x="620.90" y="655.90" font-size="5.6" fill="#2a2a2a" text-anchor="middle" font-family="Liberation Mono">G</text>
<rect x="632.3" y="647.2" width="2.4" height="3.4" fill="#fff" stroke="#aaa" stroke-width="0.5"/>
<text x="633.50" y="655.90" font-size="5.6" fill="#c030c0" text-anchor="middle" font-family="Liberation Mono">N</text>
<rect x="644.2" y="647.2" width="2.4" height="3.4" fill="#fff" stroke="#aaa" stroke-width="0.5"/>
<text x="645.40" y="655.90" font-size="5.6" fill="#c030c0" text-anchor="middle" font-family="Liberation Mono">N</text>
<rect x="655.1" y="647.0" width="2.6" height="3.2" fill="#4a5ccc"/>
<text x="656.40" y="655.90" font-size="5.6" fill="#4a5ccc" text-anchor="middle" font-family="Liberation Mono">C</text>
<rect x="665.1" y="647.0" width="2.6" height="3.2" fill="#4a5ccc"/>
<text x="666.40" y="655.90" font-size="5.6" fill="#4a5ccc" text-anchor="middle" font-family="Liberation Mono">C</text>
<rect x="676.4" y="647.0" width="2.6" height="3.2" fill="#e5383c"/>
<text x="677.70" y="655.90" font-size="5.6" fill="#e5383c" text-anchor="middle" font-family="Liberation Mono">T</text>
<path d="M645.40,663.40 L645.40,665.50 M645.40,663.40 L643.58,664.45 M645.40,663.40 L643.58,662.35 M645.40,663.40 L645.40,661.30 M645.40,663.40 L647.22,662.35 M645.40,663.40 L647.22,664.45" stroke="#6a6a6a" stroke-width="0.75" fill="none"/>
<text x="550.10" y="729.60" font-size="8.9" fill="#222" text-anchor="start">rs2283197 (C/G)</text>
<text x="617.30" y="729.60" font-size="8.9" fill="#222" text-anchor="start">rs2283196 (G/T)</text>
<path d="M600.20,731.6 L607.10,739.5 M617.80,731.6 L611.90,739.5" stroke="#222" stroke-width="0.8" fill="none"/>
<line x1="564.6" y1="739.5" x2="638.3" y2="739.5" stroke="#333" stroke-width="1.1"/>
<line x1="546.8" y1="739.8" x2="564.6" y2="739.8" stroke="#444" stroke-width="0.9" stroke-dasharray="1,1"/>
<line x1="638.3" y1="739.8" x2="655.8" y2="739.8" stroke="#444" stroke-width="0.9" stroke-dasharray="1,1"/>
<line x1="601.40" y1="737.3" x2="601.40" y2="741.6" stroke="#444" stroke-width="0.8"/>
<text x="544.80" y="742.30" font-size="7.9" fill="#222" text-anchor="end"><tspan font-style="italic">Bgl</tspan>II 28</text>
<text x="657.00" y="742.40" font-size="7.9" fill="#222" text-anchor="start"><tspan font-style="italic">Bgl</tspan>II 32</text>
<text x="580.00" y="748.60" font-size="8.4" fill="#111" text-anchor="end">29F</text>
<path d="M582.00,743.1 L589.60,746.4 L582.00,749.7 Z" fill="#111"/>
<text x="602.90" y="748.20" font-size="7.9" fill="#222" text-anchor="middle"><tspan font-style="italic">Bgl</tspan>II</text>
<path d="M625.70,743.3 L618.70,746.5 L625.70,749.7 Z" fill="#111"/>
<text x="627.40" y="748.70" font-size="8.4" fill="#111" text-anchor="start">31R</text>
<text x="601.40" y="757.00" font-size="8.1" fill="#222" text-anchor="middle">29-31</text>
<text x="5.80" y="768.80" font-size="9.6" fill="#222" text-anchor="start">3C ICR2-Enh 3</text>
<rect x="5.6" y="773.2" width="83" height="74.2" rx="0.8" fill="#fff" stroke="#444" stroke-width="1.1"/>
<polyline points="5.6,834.4 6.1,835.1 6.6,836.2 7.1,837.5 7.6,838.9 8.1,840.4 8.6,841.7 9.1,842.9 9.6,843.8 10.1,844.6 10.6,845.1 11.1,845.5 11.6,845.8 12.1,846.0 12.6,846.1 13.1,846.1 13.6,846.2 14.1,846.2 14.6,846.2 15.1,846.2 15.6,846.2 16.1,846.2 16.6,846.2 17.1,846.2 17.6,846.2 18.1,846.2 18.6,846.2 19.1,846.2 19.6,846.2 20.1,846.2 20.6,846.2 21.1,846.2 21.6,846.2 22.1,846.2 22.6,846.2 23.1,846.2 23.6,846.2 24.1,846.2 24.6,846.2 25.1,846.2 25.6,846.2 26.1,846.2 26.6,846.2 27.1,846.2 27.6,846.2 28.1,846.2 28.6,846.2 29.1,846.2 29.6,846.2 30.1,846.2 30.6,846.2 31.1,846.2 31.6,846.2 32.1,846.2 32.6,846.2 33.1,846.2 33.6,846.2 34.1,846.2 34.6,846.2 35.1,846.2 35.6,846.2 36.1,846.2 36.6,846.2 37.1,846.2 37.6,846.2 38.1,846.2 38.6,846.2 39.1,846.2 39.6,846.2 40.1,846.2 40.6,846.2 41.1,846.2 41.6,846.2 42.1,846.2 42.6,846.2 43.1,846.2 43.6,846.2 44.1,846.2 44.6,846.2 45.1,846.2 45.6,846.2 46.1,846.2 46.6,846.2 47.1,846.2 47.6,846.2 48.1,846.2 48.6,846.2 49.1,846.2 49.6,846.2 50.1,846.2 50.6,846.2 51.1,846.2 51.6,846.2 52.1,846.2 52.6,846.2 53.1,846.2 53.6,846.2 54.1,846.2 54.6,846.2 55.1,846.2 55.6,846.2 56.1,846.2 56.6,846.2 57.1,846.2 57.6,846.2 58.1,846.2 58.6,846.2 59.1,846.2 59.6,846.2 60.1,846.1 60.6,846.1 61.1,846.1 61.6,846.0 62.1,845.9 62.6,845.8 63.1,845.7 63.6,845.6 64.1,845.4 64.6,845.3 65.1,845.1 65.6,844.9 66.1,844.6 66.6,844.4 67.1,844.2 67.6,844.0 68.1,843.8 68.6,843.7 69.1,843.6 69.6,843.5 70.1,843.5 70.6,843.5 71.1,843.5 71.6,843.5 72.1,843.5 72.6,843.5 73.1,843.4 73.6,843.4 74.1,843.3 74.6,843.2 75.1,843.0 75.6,842.8 76.1,842.7 76.6,842.5 77.1,842.4 77.6,842.4 78.1,842.4 78.6,842.4 79.1,842.6 79.6,842.7 80.1,843.0 80.6,843.2 81.1,843.5 81.6,843.9 82.1,844.2 82.6,844.4 83.1,844.7 83.6,844.9 84.1,845.0 84.6,845.1 85.1,845.1 85.6,845.1 86.1,844.9 86.6,844.8 87.1,844.5 87.6,844.3 88.1,844.0 88.6,843.8" fill="none" stroke="#e5383c" stroke-width="0.75"/>
<polyline points="5.6,836.7 6.1,834.4 6.6,831.8 7.1,829.1 7.6,826.4 8.1,823.7 8.6,821.2 9.1,819.1 9.6,817.5 10.1,816.5 10.6,816.2 11.1,816.5 11.6,817.5 12.1,819.1 12.6,821.2 13.1,823.7 13.6,826.4 14.1,829.1 14.6,831.8 15.1,834.4 15.6,836.7 16.1,838.7 16.6,840.5 17.1,841.9 17.6,843.0 18.1,843.9 18.6,844.6 19.1,845.1 19.6,845.5 20.1,845.7 20.6,845.9 21.1,846.0 21.6,846.1 22.1,846.1 22.6,846.1 23.1,846.1 23.6,846.1 24.1,846.0 24.6,846.0 25.1,845.9 25.6,845.8 26.1,845.7 26.6,845.6 27.1,845.4 27.6,845.3 28.1,845.1 28.6,844.9 29.1,844.7 29.6,844.5 30.1,844.2 30.6,844.0 31.1,843.9 31.6,843.7 32.1,843.6 32.6,843.5 33.1,843.4 33.6,843.4 34.1,843.4 34.6,843.5 35.1,843.6 35.6,843.7 36.1,843.9 36.6,844.0 37.1,844.2 37.6,844.3 38.1,844.3 38.6,844.3 39.1,844.1 39.6,843.8 40.1,843.2 40.6,842.4 41.1,841.3 41.6,839.8 42.1,837.9 42.6,835.7 43.1,833.0 43.6,830.1 44.1,826.9 44.6,823.6 45.1,820.4 45.6,817.4 46.1,814.8 46.6,812.9 47.1,811.6 47.6,811.2 48.1,811.6 48.6,812.9 49.1,814.8 49.6,817.4 50.1,820.4 50.6,823.6 51.1,827.0 51.6,830.2 52.1,833.2 52.6,835.9 53.1,838.2 53.6,840.2 54.1,841.8 54.6,843.0 55.1,844.0 55.6,844.7 56.1,845.2 56.6,845.5 57.1,845.8 57.6,845.9 58.1,846.0 58.6,846.1 59.1,846.1 59.6,846.2 60.1,846.2 60.6,846.2 61.1,846.2 61.6,846.2 62.1,846.2 62.6,846.2 63.1,846.2 63.6,846.2 64.1,846.2 64.6,846.2 65.1,846.2 65.6,846.2 66.1,846.2 66.6,846.2 67.1,846.2 67.6,846.2 68.1,846.2 68.6,846.2 69.1,846.2 69.6,846.2 70.1,846.2 70.6,846.2 71.1,846.2 71.6,846.2 72.1,846.2 72.6,846.2 73.1,846.2 73.6,846.2 74.1,846.2 74.6,846.2 75.1,846.2 75.6,846.2 76.1,846.2 76.6,846.2 77.1,846.2 77.6,846.2 78.1,846.2 78.6,846.2 79.1,846.2 79.6,846.2 80.1,846.2 80.6,846.2 81.1,846.2 81.6,846.2 82.1,846.2 82.6,846.2 83.1,846.2 83.6,846.2 84.1,846.2 84.6,846.2 85.1,846.2 85.6,846.2 86.1,846.2 86.6,846.2 87.1,846.2 87.6,846.2 88.1,846.2 88.6,846.2" fill="none" stroke="#2a2a2a" stroke-width="0.75"/>
<polyline points="5.6,846.2 6.1,846.1 6.6,846.1 7.1,846.0 7.6,845.9 8.1,845.8 8.6,845.6 9.1,845.4 9.6,845.1 10.1,844.6 10.6,844.0 11.1,843.3 11.6,842.3 12.1,841.1 12.6,839.7 13.1,837.9 13.6,835.8 14.1,833.4 14.6,830.7 15.1,827.7 15.6,824.5 16.1,821.1 16.6,817.6 17.1,814.1 17.6,810.8 18.1,807.8 18.6,805.1 19.1,802.9 19.6,801.3 20.1,800.3 20.6,800.0 21.1,800.4 21.6,801.5 22.1,803.1 22.6,805.2 23.1,807.7 23.6,810.4 24.1,813.2 24.6,816.0 25.1,818.5 25.6,820.8 26.1,822.6 26.6,824.0 27.1,824.8 27.6,825.1 28.1,824.9 28.6,824.2 29.1,823.2 29.6,821.9 30.1,820.4 30.6,818.8 31.1,817.3 31.6,815.9 32.1,814.8 32.6,814.1 33.1,813.7 33.6,813.7 34.1,814.2 34.6,815.1 35.1,816.3 35.6,817.7 36.1,819.4 36.6,821.1 37.1,822.7 37.6,824.3 38.1,825.6 38.6,826.7 39.1,827.4 39.6,827.7 40.1,827.8 40.6,827.4 41.1,826.9 41.6,826.1 42.1,825.2 42.6,824.2 43.1,823.3 43.6,822.5 44.1,822.0 44.6,821.7 45.1,821.8 45.6,822.2 46.1,822.9 46.6,824.0 47.1,825.4 47.6,826.9 48.1,828.7 48.6,830.5 49.1,832.4 49.6,834.2 50.1,836.0 50.6,837.6 51.1,839.1 51.6,840.5 52.1,841.6 52.6,842.6 53.1,843.4 53.6,844.1 54.1,844.6 54.6,845.0 55.1,845.4 55.6,845.6 56.1,845.8 56.6,845.9 57.1,846.0 57.6,846.1 58.1,846.1 58.6,846.1 59.1,846.2 59.6,846.2 60.1,846.2 60.6,846.2 61.1,846.2 61.6,846.2 62.1,846.2 62.6,846.2 63.1,846.2 63.6,846.2 64.1,846.2 64.6,846.2 65.1,846.2 65.6,846.2 66.1,846.2 66.6,846.2 67.1,846.2 67.6,846.2 68.1,846.2 68.6,846.2 69.1,846.2 69.6,846.2 70.1,846.2 70.6,846.2 71.1,846.2 71.6,846.2 72.1,846.2 72.6,846.2 73.1,846.2 73.6,846.2 74.1,846.2 74.6,846.2 75.1,846.2 75.6,846.2 76.1,846.2 76.6,846.2 77.1,846.2 77.6,846.2 78.1,846.2 78.6,846.2 79.1,846.2 79.6,846.2 80.1,846.2 80.6,846.2 81.1,846.2 81.6,846.2 82.1,846.2 82.6,846.2 83.1,846.2 83.6,846.2 84.1,846.2 84.6,846.2 85.1,846.2 85.6,846.2 86.1,846.2 86.6,846.2 87.1,846.2 87.6,846.2 88.1,846.2 88.6,846.2" fill="none" stroke="#4a5ccc" stroke-width="0.75"/>
<polyline points="5.6,846.2 6.1,846.2 6.6,846.2 7.1,846.2 7.6,846.2 8.1,846.2 8.6,846.2 9.1,846.2 9.6,846.2 10.1,846.2 10.6,846.2 11.1,846.2 11.6,846.2 12.1,846.1 12.6,846.1 13.1,846.1 13.6,846.0 14.1,846.0 14.6,845.9 15.1,845.8 15.6,845.6 16.1,845.4 16.6,845.2 17.1,845.0 17.6,844.7 18.1,844.4 18.6,844.1 19.1,843.8 19.6,843.4 20.1,843.1 20.6,842.9 21.1,842.7 21.6,842.5 22.1,842.4 22.6,842.4 23.1,842.5 23.6,842.6 24.1,842.8 24.6,843.1 25.1,843.4 25.6,843.7 26.1,844.0 26.6,844.4 27.1,844.7 27.6,844.9 28.1,845.2 28.6,845.4 29.1,845.6 29.6,845.7 30.1,845.9 30.6,846.0 31.1,846.0 31.6,846.1 32.1,846.1 32.6,846.1 33.1,846.2 33.6,846.2 34.1,846.2 34.6,846.2 35.1,846.2 35.6,846.2 36.1,846.2 36.6,846.2 37.1,846.2 37.6,846.2 38.1,846.2 38.6,846.2 39.1,846.2 39.6,846.2 40.1,846.2 40.6,846.2 41.1,846.2 41.6,846.2 42.1,846.2 42.6,846.2 43.1,846.2 43.6,846.2 44.1,846.2 44.6,846.1 45.1,846.1 45.6,846.1 46.1,846.0 46.6,845.9 47.1,845.7 47.6,845.5 48.1,845.1 48.6,844.7 49.1,844.0 49.6,843.2 50.1,842.2 50.6,840.9 51.1,839.2 51.6,837.2 52.1,834.9 52.6,832.1 53.1,829.0 53.6,825.6 54.1,821.9 54.6,818.0 55.1,814.1 55.6,810.3 56.1,806.7 56.6,803.4 57.1,800.7 57.6,798.6 58.1,797.2 58.6,796.5 59.1,796.7 59.6,797.5 60.1,798.9 60.6,800.9 61.1,803.2 61.6,805.6 62.1,808.0 62.6,810.2 63.1,812.0 63.6,813.3 64.1,814.1 64.6,814.3 65.1,813.9 65.6,813.0 66.1,811.7 66.6,810.2 67.1,808.5 67.6,806.9 68.1,805.6 68.6,804.5 69.1,803.9 69.6,803.9 70.1,804.3 70.6,805.3 71.1,806.6 71.6,808.4 72.1,810.3 72.6,812.2 73.1,814.0 73.6,815.6 74.1,816.7 74.6,817.4 75.1,817.5 75.6,817.0 76.1,816.0 76.6,814.4 77.1,812.5 77.6,810.4 78.1,808.2 78.6,806.0 79.1,804.1 79.6,802.6 80.1,801.7 80.6,801.3 81.1,801.5 81.6,802.4 82.1,803.9 82.6,805.8 83.1,808.1 83.6,810.7 84.1,813.3 84.6,815.8 85.1,818.1 85.6,820.1 86.1,821.7 86.6,822.9 87.1,823.6 87.6,823.9 88.1,823.9 88.6,823.6" fill="none" stroke="#60bd60" stroke-width="0.75"/>
<rect x="10.9" y="775.8" width="2.6" height="3.2" fill="#2a2a2a"/>
<text x="12.20" y="784.70" font-size="5.6" fill="#2a2a2a" text-anchor="middle" font-family="Liberation Mono">G</text>
<rect x="20.1" y="775.8" width="2.6" height="3.2" fill="#4a5ccc"/>
<text x="21.40" y="784.70" font-size="5.6" fill="#4a5ccc" text-anchor="middle" font-family="Liberation Mono">C</text>
<rect x="32.1" y="775.8" width="2.6" height="3.2" fill="#4a5ccc"/>
<text x="33.40" y="784.70" font-size="5.6" fill="#4a5ccc" text-anchor="middle" font-family="Liberation Mono">C</text>
<rect x="45.9" y="776.0" width="2.4" height="3.4" fill="#fff" stroke="#aaa" stroke-width="0.5"/>
<text x="47.10" y="784.70" font-size="5.6" fill="#c030c0" text-anchor="middle" font-family="Liberation Mono">N</text>
<rect x="57.9" y="775.8" width="2.6" height="3.2" fill="#60bd60"/>
<text x="59.20" y="784.70" font-size="5.6" fill="#60bd60" text-anchor="middle" font-family="Liberation Mono">A</text>
<rect x="69.2" y="775.8" width="2.6" height="3.2" fill="#60bd60"/>
<text x="70.50" y="784.70" font-size="5.6" fill="#60bd60" text-anchor="middle" font-family="Liberation Mono">A</text>
<rect x="79.7" y="775.8" width="2.6" height="3.2" fill="#60bd60"/>
<text x="81.00" y="784.70" font-size="5.6" fill="#60bd60" text-anchor="middle" font-family="Liberation Mono">A</text>
<path d="M47.10,795.40 L47.10,797.50 M47.10,795.40 L45.28,796.45 M47.10,795.40 L45.28,794.35 M47.10,795.40 L47.10,793.30 M47.10,795.40 L48.92,794.35 M47.10,795.40 L48.92,796.45" stroke="#6a6a6a" stroke-width="0.75" fill="none"/>
<rect x="90.1" y="773.2" width="80.3" height="74.2" rx="0.8" fill="#fff" stroke="#444" stroke-width="1.1"/>
<polyline points="90.1,843.0 90.6,841.7 91.1,840.1 91.6,838.0 92.1,835.6 92.6,832.9 93.1,829.9 93.6,826.8 94.1,823.7 94.6,820.8 95.1,818.4 95.6,816.6 96.1,815.5 96.6,815.2 97.1,815.8 97.6,817.2 98.1,819.3 98.6,821.9 99.1,824.9 99.6,828.0 100.1,831.1 100.6,834.0 101.1,836.6 101.6,838.9 102.1,840.8 102.6,842.3 103.1,843.4 103.6,844.3 104.1,844.9 104.6,845.4 105.1,845.7 105.6,845.9 106.1,846.0 106.6,846.1 107.1,846.1 107.6,846.2 108.1,846.2 108.6,846.2 109.1,846.2 109.6,846.2 110.1,846.2 110.6,846.1 111.1,846.1 111.6,846.0 112.1,845.9 112.6,845.7 113.1,845.5 113.6,845.1 114.1,844.6 114.6,843.8 115.1,842.9 115.6,841.6 116.1,840.1 116.6,838.4 117.1,836.3 117.6,834.1 118.1,831.8 118.6,829.5 119.1,827.4 119.6,825.6 120.1,824.2 120.6,823.4 121.1,823.2 121.6,823.7 122.1,824.7 122.6,826.2 123.1,828.2 123.6,830.3 124.1,832.6 124.6,834.8 125.1,836.9 125.6,838.6 126.1,840.1 126.6,841.1 127.1,841.7 127.6,841.9 128.1,841.7 128.6,841.0 129.1,840.0 129.6,838.7 130.1,837.1 130.6,835.3 131.1,833.4 131.6,831.6 132.1,830.0 132.6,828.6 133.1,827.7 133.6,827.2 134.1,827.3 134.6,827.9 135.1,828.9 135.6,830.3 136.1,832.0 136.6,833.9 137.1,835.8 137.6,837.7 138.1,839.4 138.6,840.9 139.1,842.2 139.6,843.3 140.1,844.1 140.6,844.7 141.1,845.2 141.6,845.5 142.1,845.7 142.6,845.8 143.1,845.9 143.6,845.9 144.1,845.8 144.6,845.7 145.1,845.6 145.6,845.5 146.1,845.4 146.6,845.2 147.1,845.0 147.6,844.9 148.1,844.8 148.6,844.7 149.1,844.6 149.6,844.6 150.1,844.6 150.6,844.7 151.1,844.8 151.6,844.9 152.1,845.1 152.6,845.3 153.1,845.4 153.6,845.6 154.1,845.7 154.6,845.8 155.1,845.9 155.6,846.0 156.1,846.0 156.6,846.0 157.1,845.9 157.6,845.8 158.1,845.6 158.6,845.2 159.1,844.8 159.6,844.1 160.1,843.1 160.6,841.9 161.1,840.3 161.6,838.3 162.1,836.0 162.6,833.3 163.1,830.4 163.6,827.4 164.1,824.4 164.6,821.7 165.1,819.3 165.6,817.5 166.1,816.5 166.6,816.2 167.1,816.8 167.6,818.2 168.1,820.2 168.6,822.7 169.1,825.6 169.6,828.6 170.1,831.6" fill="none" stroke="#e5383c" stroke-width="0.75"/>
<polyline points="90.1,846.2 90.6,846.2 91.1,846.2 91.6,846.2 92.1,846.2 92.6,846.2 93.1,846.2 93.6,846.2 94.1,846.2 94.6,846.2 95.1,846.2 95.6,846.2 96.1,846.2 96.6,846.2 97.1,846.2 97.6,846.1 98.1,846.0 98.6,845.9 99.1,845.7 99.6,845.4 100.1,844.9 100.6,844.1 101.1,843.0 101.6,841.4 102.1,839.3 102.6,836.5 103.1,833.0 103.6,828.8 104.1,823.9 104.6,818.5 105.1,812.8 105.6,807.1 106.1,801.8 106.6,797.2 107.1,793.8 107.6,791.7 108.1,791.2 108.6,792.4 109.1,795.0 109.6,799.0 110.1,803.9 110.6,809.4 111.1,815.1 111.6,820.7 112.1,826.0 112.6,830.6 113.1,834.5 113.6,837.7 114.1,840.2 114.6,842.1 115.1,843.5 115.6,844.4 116.1,845.1 116.6,845.5 117.1,845.8 117.6,846.0 118.1,846.1 118.6,846.1 119.1,846.2 119.6,846.2 120.1,846.2 120.6,846.2 121.1,846.2 121.6,846.2 122.1,846.1 122.6,846.1 123.1,846.0 123.6,845.9 124.1,845.7 124.6,845.4 125.1,845.1 125.6,844.6 126.1,844.0 126.6,843.2 127.1,842.3 127.6,841.3 128.1,840.2 128.6,839.1 129.1,838.0 129.6,836.9 130.1,836.1 130.6,835.5 131.1,835.2 131.6,835.3 132.1,835.6 132.6,836.3 133.1,837.1 133.6,838.2 134.1,839.3 134.6,840.4 135.1,841.5 135.6,842.5 136.1,843.4 136.6,844.1 137.1,844.7 137.6,845.2 138.1,845.5 138.6,845.7 139.1,845.9 139.6,846.0 140.1,846.1 140.6,846.1 141.1,846.2 141.6,846.2 142.1,846.2 142.6,846.2 143.1,846.2 143.6,846.2 144.1,846.2 144.6,846.2 145.1,846.2 145.6,846.2 146.1,846.2 146.6,846.2 147.1,846.2 147.6,846.2 148.1,846.2 148.6,846.2 149.1,846.2 149.6,846.2 150.1,846.2 150.6,846.2 151.1,846.2 151.6,846.2 152.1,846.2 152.6,846.2 153.1,846.2 153.6,846.2 154.1,846.2 154.6,846.2 155.1,846.2 155.6,846.2 156.1,846.2 156.6,846.2 157.1,846.2 157.6,846.2 158.1,846.2 158.6,846.2 159.1,846.2 159.6,846.2 160.1,846.2 160.6,846.2 161.1,846.2 161.6,846.2 162.1,846.2 162.6,846.2 163.1,846.2 163.6,846.2 164.1,846.2 164.6,846.2 165.1,846.2 165.6,846.2 166.1,846.2 166.6,846.2 167.1,846.2 167.6,846.2 168.1,846.2 168.6,846.2 169.1,846.2 169.6,846.2 170.1,846.2" fill="none" stroke="#2a2a2a" stroke-width="0.75"/>
<polyline points="90.1,846.2 90.6,846.2 91.1,846.2 91.6,846.2 92.1,846.2 92.6,846.2 93.1,846.2 93.6,846.2 94.1,846.2 94.6,846.2 95.1,846.2 95.6,846.2 96.1,846.2 96.6,846.2 97.1,846.2 97.6,846.2 98.1,846.2 98.6,846.2 99.1,846.2 99.6,846.2 100.1,846.2 100.6,846.2 101.1,846.2 101.6,846.2 102.1,846.2 102.6,846.2 103.1,846.2 103.6,846.2 104.1,846.2 104.6,846.2 105.1,846.2 105.6,846.2 106.1,846.2 106.6,846.2 107.1,846.2 107.6,846.2 108.1,846.2 108.6,846.2 109.1,846.2 109.6,846.2 110.1,846.2 110.6,846.2 111.1,846.2 111.6,846.2 112.1,846.2 112.6,846.2 113.1,846.2 113.6,846.2 114.1,846.2 114.6,846.2 115.1,846.2 115.6,846.2 116.1,846.2 116.6,846.2 117.1,846.2 117.6,846.2 118.1,846.2 118.6,846.2 119.1,846.2 119.6,846.2 120.1,846.2 120.6,846.2 121.1,846.2 121.6,846.2 122.1,846.2 122.6,846.2 123.1,846.2 123.6,846.2 124.1,846.2 124.6,846.2 125.1,846.2 125.6,846.2 126.1,846.2 126.6,846.2 127.1,846.2 127.6,846.2 128.1,846.2 128.6,846.2 129.1,846.2 129.6,846.2 130.1,846.2 130.6,846.2 131.1,846.2 131.6,846.2 132.1,846.2 132.6,846.2 133.1,846.2 133.6,846.2 134.1,846.2 134.6,846.1 135.1,846.1 135.6,846.0 136.1,845.8 136.6,845.6 137.1,845.3 137.6,844.8 138.1,844.1 138.6,843.1 139.1,841.9 139.6,840.3 140.1,838.4 140.6,836.2 141.1,833.6 141.6,831.0 142.1,828.3 142.6,825.7 143.1,823.5 143.6,821.7 144.1,820.6 144.6,820.2 145.1,820.5 145.6,821.6 146.1,823.2 146.6,825.3 147.1,827.6 147.6,830.0 148.1,832.1 148.6,833.9 149.1,835.1 149.6,835.7 150.1,835.6 150.6,834.7 151.1,833.3 151.6,831.3 152.1,828.9 152.6,826.3 153.1,823.8 153.6,821.5 154.1,819.7 154.6,818.5 155.1,818.2 155.6,818.6 156.1,819.8 156.6,821.7 157.1,824.1 157.6,826.9 158.1,829.8 158.6,832.7 159.1,835.4 159.6,837.8 160.1,839.9 160.6,841.6 161.1,842.9 161.6,843.9 162.1,844.7 162.6,845.2 163.1,845.6 163.6,845.8 164.1,846.0 164.6,846.1 165.1,846.1 165.6,846.2 166.1,846.2 166.6,846.2 167.1,846.2 167.6,846.2 168.1,846.2 168.6,846.2 169.1,846.2 169.6,846.2 170.1,846.2" fill="none" stroke="#4a5ccc" stroke-width="0.75"/>
<rect x="96.3" y="775.8" width="2.6" height="3.2" fill="#e5383c"/>
<text x="97.60" y="784.70" font-size="5.6" fill="#e5383c" text-anchor="middle" font-family="Liberation Mono">T</text>
<rect x="106.8" y="775.8" width="2.6" height="3.2" fill="#2a2a2a"/>
<text x="108.10" y="784.70" font-size="5.6" fill="#2a2a2a" text-anchor="middle" font-family="Liberation Mono">G</text>
<rect x="119.4" y="775.8" width="2.6" height="3.2" fill="#e5383c"/>
<text x="120.70" y="784.70" font-size="5.6" fill="#e5383c" text-anchor="middle" font-family="Liberation Mono">T</text>
<rect x="131.4" y="776.0" width="2.4" height="3.4" fill="#fff" stroke="#aaa" stroke-width="0.5"/>
<text x="132.60" y="784.70" font-size="5.6" fill="#c030c0" text-anchor="middle" font-family="Liberation Mono">N</text>
<rect x="142.3" y="775.8" width="2.6" height="3.2" fill="#4a5ccc"/>
<text x="143.60" y="784.70" font-size="5.6" fill="#4a5ccc" text-anchor="middle" font-family="Liberation Mono">C</text>
<rect x="152.3" y="775.8" width="2.6" height="3.2" fill="#4a5ccc"/>
<text x="153.60" y="784.70" font-size="5.6" fill="#4a5ccc" text-anchor="middle" font-family="Liberation Mono">C</text>
<rect x="163.6" y="775.8" width="2.6" height="3.2" fill="#e5383c"/>
<text x="164.90" y="784.70" font-size="5.6" fill="#e5383c" text-anchor="middle" font-family="Liberation Mono">T</text>
<path d="M132.60,795.40 L132.60,797.50 M132.60,795.40 L130.78,796.45 M132.60,795.40 L130.78,794.35 M132.60,795.40 L132.60,793.30 M132.60,795.40 L134.42,794.35 M132.60,795.40 L134.42,796.45" stroke="#6a6a6a" stroke-width="0.75" fill="none"/>
<text x="34.00" y="859.60" font-size="8.9" fill="#222" text-anchor="start">rs2283197 (C/G)</text>
<text x="102.70" y="859.60" font-size="8.9" fill="#222" text-anchor="start">rs2283196 (G/T)</text>
<path d="M86.90,861.6 L93.80,869.5 M104.50,861.6 L98.60,869.5" stroke="#222" stroke-width="0.8" fill="none"/>
<line x1="50.9" y1="869.5" x2="124.1" y2="869.5" stroke="#333" stroke-width="1.1"/>
<line x1="33.0" y1="869.8" x2="50.9" y2="869.8" stroke="#444" stroke-width="0.9" stroke-dasharray="1,1"/>
<line x1="124.1" y1="869.8" x2="141.5" y2="869.8" stroke="#444" stroke-width="0.9" stroke-dasharray="1,1"/>
<line x1="88.10" y1="867.3" x2="88.10" y2="871.6" stroke="#444" stroke-width="0.8"/>
<text x="31.00" y="872.30" font-size="7.9" fill="#222" text-anchor="end"><tspan font-style="italic">Bgl</tspan>II 40</text>
<text x="142.70" y="872.40" font-size="7.9" fill="#222" text-anchor="start"><tspan font-style="italic">Bgl</tspan>II 32</text>
<text x="65.50" y="878.60" font-size="8.4" fill="#111" text-anchor="end">39R</text>
<path d="M67.50,873.1 L75.10,876.4 L67.50,879.7 Z" fill="#111"/>
<text x="89.60" y="878.20" font-size="7.9" fill="#222" text-anchor="middle"><tspan font-style="italic">Bgl</tspan>II</text>
<path d="M110.70,873.3 L103.70,876.5 L110.70,879.7 Z" fill="#111"/>
<text x="112.40" y="878.70" font-size="8.4" fill="#111" text-anchor="start">31R</text>
<text x="88.10" y="887.00" font-size="8.1" fill="#222" text-anchor="middle">39-31</text>
<text x="176.60" y="768.80" font-size="9.6" fill="#222" text-anchor="start">3C ICR2-3&#8217; <tspan font-style='italic'>KCNQ1OT1</tspan></text>
<rect x="176.4" y="773.2" width="83" height="74.2" rx="0.8" fill="#fff" stroke="#444" stroke-width="1.1"/>
<polyline points="176.4,830.5 176.9,831.4 177.4,832.8 177.9,834.6 178.4,836.5 178.9,838.4 179.4,840.2 179.9,841.8 180.4,843.0 180.9,844.0 181.4,844.8 181.9,845.3 182.4,845.7 182.9,845.9 183.4,846.0 183.9,846.1 184.4,846.2 184.9,846.2 185.4,846.2 185.9,846.2 186.4,846.2 186.9,846.2 187.4,846.2 187.9,846.2 188.4,846.2 188.9,846.2 189.4,846.2 189.9,846.2 190.4,846.2 190.9,846.2 191.4,846.2 191.9,846.2 192.4,846.2 192.9,846.2 193.4,846.2 193.9,846.2 194.4,846.2 194.9,846.2 195.4,846.2 195.9,846.2 196.4,846.2 196.9,846.2 197.4,846.2 197.9,846.2 198.4,846.2 198.9,846.2 199.4,846.2 199.9,846.2 200.4,846.2 200.9,846.2 201.4,846.2 201.9,846.2 202.4,846.2 202.9,846.2 203.4,846.2 203.9,846.2 204.4,846.2 204.9,846.2 205.4,846.2 205.9,846.2 206.4,846.2 206.9,846.2 207.4,846.2 207.9,846.2 208.4,846.2 208.9,846.2 209.4,846.2 209.9,846.2 210.4,846.2 210.9,846.2 211.4,846.2 211.9,846.2 212.4,846.2 212.9,846.2 213.4,846.2 213.9,846.2 214.4,846.2 214.9,846.2 215.4,846.2 215.9,846.2 216.4,846.2 216.9,846.2 217.4,846.2 217.9,846.2 218.4,846.2 218.9,846.2 219.4,846.2 219.9,846.2 220.4,846.2 220.9,846.2 221.4,846.2 221.9,846.2 222.4,846.2 222.9,846.2 223.4,846.2 223.9,846.2 224.4,846.2 224.9,846.2 225.4,846.2 225.9,846.2 226.4,846.2 226.9,846.2 227.4,846.2 227.9,846.2 228.4,846.2 228.9,846.2 229.4,846.2 229.9,846.2 230.4,846.2 230.9,846.2 231.4,846.2 231.9,846.2 232.4,846.2 232.9,846.2 233.4,846.2 233.9,846.2 234.4,846.2 234.9,846.2 235.4,846.2 235.9,846.2 236.4,846.2 236.9,846.2 237.4,846.2 237.9,846.2 238.4,846.2 238.9,846.2 239.4,846.2 239.9,846.2 240.4,846.2 240.9,846.2 241.4,846.2 241.9,846.2 242.4,846.2 242.9,846.2 243.4,846.2 243.9,846.2 244.4,846.2 244.9,846.2 245.4,846.2 245.9,846.2 246.4,846.2 246.9,846.2 247.4,846.2 247.9,846.2 248.4,846.2 248.9,846.2 249.4,846.2 249.9,846.2 250.4,846.2 250.9,846.2 251.4,846.2 251.9,846.2 252.4,846.2 252.9,846.2 253.4,846.2 253.9,846.2 254.4,846.2 254.9,846.2 255.4,846.2 255.9,846.2 256.4,846.2 256.9,846.2 257.4,846.2 257.9,846.2 258.4,846.2 258.9,846.2 259.4,846.2" fill="none" stroke="#e5383c" stroke-width="0.75"/>
<polyline points="176.4,839.5 176.9,837.5 177.4,835.1 177.9,832.4 178.4,829.4 178.9,826.3 179.4,823.0 179.9,819.9 180.4,817.1 180.9,814.6 181.4,812.8 181.9,811.6 182.4,811.2 182.9,811.6 183.4,812.8 183.9,814.6 184.4,817.1 184.9,819.9 185.4,823.0 185.9,826.3 186.4,829.4 186.9,832.4 187.4,835.1 187.9,837.5 188.4,839.5 188.9,841.2 189.4,842.5 189.9,843.6 190.4,844.3 190.9,844.9 191.4,845.4 191.9,845.6 192.4,845.8 192.9,846.0 193.4,846.1 193.9,846.1 194.4,846.2 194.9,846.2 195.4,846.2 195.9,846.2 196.4,846.2 196.9,846.2 197.4,846.2 197.9,846.2 198.4,846.2 198.9,846.2 199.4,846.2 199.9,846.2 200.4,846.2 200.9,846.2 201.4,846.2 201.9,846.2 202.4,846.2 202.9,846.2 203.4,846.2 203.9,846.2 204.4,846.2 204.9,846.2 205.4,846.2 205.9,846.2 206.4,846.2 206.9,846.2 207.4,846.1 207.9,846.1 208.4,846.0 208.9,845.9 209.4,845.8 209.9,845.5 210.4,845.2 210.9,844.7 211.4,844.1 211.9,843.3 212.4,842.2 212.9,840.9 213.4,839.4 213.9,837.6 214.4,835.7 214.9,833.6 215.4,831.4 215.9,829.2 216.4,827.3 216.9,825.6 217.4,824.3 217.9,823.5 218.4,823.2 218.9,823.5 219.4,824.3 219.9,825.6 220.4,827.3 220.9,829.2 221.4,831.4 221.9,833.6 222.4,835.7 222.9,837.6 223.4,839.4 223.9,840.9 224.4,842.2 224.9,843.3 225.4,844.1 225.9,844.7 226.4,845.2 226.9,845.5 227.4,845.8 227.9,845.9 228.4,846.0 228.9,846.1 229.4,846.1 229.9,846.2 230.4,846.2 230.9,846.2 231.4,846.2 231.9,846.2 232.4,846.2 232.9,846.2 233.4,846.2 233.9,846.2 234.4,846.2 234.9,846.2 235.4,846.2 235.9,846.2 236.4,846.2 236.9,846.2 237.4,846.2 237.9,846.2 238.4,846.2 238.9,846.2 239.4,846.2 239.9,846.2 240.4,846.2 240.9,846.2 241.4,846.2 241.9,846.2 242.4,846.2 242.9,846.2 243.4,846.2 243.9,846.2 244.4,846.2 244.9,846.2 245.4,846.2 245.9,846.2 246.4,846.2 246.9,846.2 247.4,846.2 247.9,846.2 248.4,846.2 248.9,846.2 249.4,846.2 249.9,846.2 250.4,846.2 250.9,846.2 251.4,846.2 251.9,846.2 252.4,846.2 252.9,846.2 253.4,846.2 253.9,846.2 254.4,846.2 254.9,846.2 255.4,846.2 255.9,846.2 256.4,846.2 256.9,846.2 257.4,846.2 257.9,846.2 258.4,846.2 258.9,846.2 259.4,846.2" fill="none" stroke="#2a2a2a" stroke-width="0.75"/>
<polyline points="176.4,846.2 176.9,846.1 177.4,846.1 177.9,846.0 178.4,846.0 178.9,845.8 179.4,845.7 179.9,845.5 180.4,845.1 180.9,844.7 181.4,844.1 181.9,843.4 182.4,842.4 182.9,841.2 183.4,839.8 183.9,838.0 184.4,835.9 184.9,833.4 185.4,830.6 185.9,827.4 186.4,824.0 186.9,820.4 187.4,816.6 187.9,812.8 188.4,809.1 188.9,805.7 189.4,802.6 189.9,800.0 190.4,797.9 190.9,796.6 191.4,795.9 191.9,796.0 192.4,796.8 192.9,798.3 193.4,800.3 193.9,802.8 194.4,805.5 194.9,808.4 195.4,811.3 195.9,813.9 196.4,816.3 196.9,818.2 197.4,819.6 197.9,820.5 198.4,820.8 198.9,820.6 199.4,820.0 199.9,818.9 200.4,817.6 200.9,816.1 201.4,814.6 201.9,813.2 202.4,812.0 202.9,811.1 203.4,810.6 203.9,810.6 204.4,811.0 204.9,811.8 205.4,813.0 205.9,814.6 206.4,816.4 206.9,818.3 207.4,820.2 207.9,822.1 208.4,823.7 208.9,825.1 209.4,826.1 209.9,826.7 210.4,826.9 210.9,826.6 211.4,826.1 211.9,825.1 212.4,824.0 212.9,822.7 213.4,821.4 213.9,820.2 214.4,819.2 214.9,818.4 215.4,817.9 215.9,817.8 216.4,818.2 216.9,818.9 217.4,820.1 217.9,821.6 218.4,823.4 218.9,825.3 219.4,827.5 219.9,829.6 220.4,831.8 220.9,833.9 221.4,835.8 221.9,837.6 222.4,839.2 222.9,840.6 223.4,841.8 223.9,842.8 224.4,843.6 224.9,844.2 225.4,844.8 225.9,845.2 226.4,845.5 226.9,845.7 227.4,845.8 227.9,846.0 228.4,846.0 228.9,846.1 229.4,846.1 229.9,846.2 230.4,846.2 230.9,846.2 231.4,846.2 231.9,846.2 232.4,846.2 232.9,846.2 233.4,846.2 233.9,846.2 234.4,846.2 234.9,846.2 235.4,846.2 235.9,846.2 236.4,846.2 236.9,846.2 237.4,846.2 237.9,846.2 238.4,846.2 238.9,846.2 239.4,846.2 239.9,846.2 240.4,846.2 240.9,846.2 241.4,846.2 241.9,846.2 242.4,846.2 242.9,846.2 243.4,846.2 243.9,846.2 244.4,846.2 244.9,846.2 245.4,846.2 245.9,846.2 246.4,846.2 246.9,846.2 247.4,846.2 247.9,846.2 248.4,846.2 248.9,846.2 249.4,846.2 249.9,846.2 250.4,846.2 250.9,846.2 251.4,846.2 251.9,846.2 252.4,846.2 252.9,846.2 253.4,846.2 253.9,846.2 254.4,846.2 254.9,846.2 255.4,846.2 255.9,846.2 256.4,846.2 256.9,846.2 257.4,846.2 257.9,846.2 258.4,846.2 258.9,846.2 259.4,846.2" fill="none" stroke="#4a5ccc" stroke-width="0.75"/>
<polyline points="176.4,846.2 176.9,846.2 177.4,846.2 177.9,846.2 178.4,846.2 178.9,846.2 179.4,846.2 179.9,846.2 180.4,846.2 180.9,846.2 181.4,846.2 181.9,846.2 182.4,846.2 182.9,846.2 183.4,846.2 183.9,846.2 184.4,846.2 184.9,846.2 185.4,846.2 185.9,846.2 186.4,846.2 186.9,846.2 187.4,846.2 187.9,846.2 188.4,846.2 188.9,846.2 189.4,846.2 189.9,846.2 190.4,846.2 190.9,846.2 191.4,846.2 191.9,846.2 192.4,846.2 192.9,846.2 193.4,846.2 193.9,846.2 194.4,846.2 194.9,846.2 195.4,846.2 195.9,846.2 196.4,846.2 196.9,846.2 197.4,846.2 197.9,846.2 198.4,846.2 198.9,846.2 199.4,846.2 199.9,846.2 200.4,846.2 200.9,846.2 201.4,846.2 201.9,846.2 202.4,846.2 202.9,846.2 203.4,846.2 203.9,846.2 204.4,846.2 204.9,846.2 205.4,846.2 205.9,846.2 206.4,846.2 206.9,846.2 207.4,846.2 207.9,846.2 208.4,846.2 208.9,846.2 209.4,846.2 209.9,846.2 210.4,846.2 210.9,846.2 211.4,846.2 211.9,846.2 212.4,846.2 212.9,846.2 213.4,846.2 213.9,846.2 214.4,846.2 214.9,846.2 215.4,846.2 215.9,846.1 216.4,846.1 216.9,846.0 217.4,846.0 217.9,845.9 218.4,845.7 218.9,845.4 219.4,845.1 219.9,844.7 220.4,844.1 220.9,843.3 221.4,842.3 221.9,841.1 222.4,839.6 222.9,837.7 223.4,835.6 223.9,833.2 224.4,830.5 224.9,827.6 225.4,824.5 225.9,821.3 226.4,818.1 226.9,815.1 227.4,812.3 227.9,809.9 228.4,808.0 228.9,806.6 229.4,805.8 229.9,805.7 230.4,806.2 230.9,807.2 231.4,808.7 231.9,810.5 232.4,812.5 232.9,814.5 233.4,816.4 233.9,818.0 234.4,819.2 234.9,820.0 235.4,820.2 235.9,820.0 236.4,819.2 236.9,818.0 237.4,816.5 237.9,814.8 238.4,813.1 238.9,811.4 239.4,810.0 239.9,808.9 240.4,808.2 240.9,808.0 241.4,808.3 241.9,809.0 242.4,810.1 242.9,811.5 243.4,813.0 243.9,814.5 244.4,815.9 244.9,817.0 245.4,817.8 245.9,818.1 246.4,817.8 246.9,817.1 247.4,815.9 247.9,814.2 248.4,812.4 248.9,810.3 249.4,808.3 249.9,806.4 250.4,804.9 250.9,803.8 251.4,803.2 251.9,803.1 252.4,803.7 252.9,804.8 253.4,806.4 253.9,808.4 254.4,810.6 254.9,812.8 255.4,815.1 255.9,817.1 256.4,818.9 256.9,820.3 257.4,821.2 257.9,821.7 258.4,821.8 258.9,821.6 259.4,821.0" fill="none" stroke="#60bd60" stroke-width="0.75"/>
<rect x="181.7" y="775.8" width="2.6" height="3.2" fill="#2a2a2a"/>
<text x="183.00" y="784.70" font-size="5.6" fill="#2a2a2a" text-anchor="middle" font-family="Liberation Mono">G</text>
<rect x="190.9" y="775.8" width="2.6" height="3.2" fill="#4a5ccc"/>
<text x="192.20" y="784.70" font-size="5.6" fill="#4a5ccc" text-anchor="middle" font-family="Liberation Mono">C</text>
<rect x="202.9" y="775.8" width="2.6" height="3.2" fill="#4a5ccc"/>
<text x="204.20" y="784.70" font-size="5.6" fill="#4a5ccc" text-anchor="middle" font-family="Liberation Mono">C</text>
<rect x="216.7" y="776.0" width="2.4" height="3.4" fill="#fff" stroke="#aaa" stroke-width="0.5"/>
<text x="217.90" y="784.70" font-size="5.6" fill="#c030c0" text-anchor="middle" font-family="Liberation Mono">N</text>
<rect x="228.7" y="775.8" width="2.6" height="3.2" fill="#60bd60"/>
<text x="230.00" y="784.70" font-size="5.6" fill="#60bd60" text-anchor="middle" font-family="Liberation Mono">A</text>
<rect x="240.0" y="775.8" width="2.6" height="3.2" fill="#60bd60"/>
<text x="241.30" y="784.70" font-size="5.6" fill="#60bd60" text-anchor="middle" font-family="Liberation Mono">A</text>
<rect x="250.5" y="775.8" width="2.6" height="3.2" fill="#60bd60"/>
<text x="251.80" y="784.70" font-size="5.6" fill="#60bd60" text-anchor="middle" font-family="Liberation Mono">A</text>
<path d="M217.90,795.40 L217.90,797.50 M217.90,795.40 L216.08,796.45 M217.90,795.40 L216.08,794.35 M217.90,795.40 L217.90,793.30 M217.90,795.40 L219.72,794.35 M217.90,795.40 L219.72,796.45" stroke="#6a6a6a" stroke-width="0.75" fill="none"/>
<rect x="260.9" y="773.2" width="80.3" height="74.2" rx="0.8" fill="#fff" stroke="#444" stroke-width="1.1"/>
<polyline points="260.9,844.1 261.4,843.1 261.9,841.9 262.4,840.3 262.9,838.3 263.4,836.0 263.9,833.3 264.4,830.4 264.9,827.4 265.4,824.4 265.9,821.7 266.4,819.3 266.9,817.5 267.4,816.5 267.9,816.2 268.4,816.8 268.9,818.2 269.4,820.2 269.9,822.7 270.4,825.6 270.9,828.6 271.4,831.6 271.9,834.4 272.4,836.9 272.9,839.1 273.4,840.9 273.9,842.4 274.4,843.5 274.9,844.4 275.4,845.0 275.9,845.4 276.4,845.7 276.9,845.9 277.4,846.0 277.9,846.1 278.4,846.1 278.9,846.2 279.4,846.2 279.9,846.2 280.4,846.2 280.9,846.2 281.4,846.1 281.9,846.1 282.4,846.0 282.9,845.9 283.4,845.7 283.9,845.5 284.4,845.1 284.9,844.6 285.4,843.9 285.9,843.0 286.4,841.8 286.9,840.4 287.4,838.7 287.9,836.8 288.4,834.7 288.9,832.6 289.4,830.5 289.9,828.7 290.4,827.1 290.9,825.9 291.4,825.3 291.9,825.2 292.4,825.8 292.9,826.8 293.4,828.3 293.9,830.1 294.4,832.1 294.9,834.2 295.4,836.2 295.9,838.0 296.4,839.6 296.9,840.9 297.4,841.8 297.9,842.3 298.4,842.5 298.9,842.3 299.4,841.9 299.9,841.2 300.4,840.3 300.9,839.2 301.4,838.1 301.9,837.0 302.4,835.9 302.9,835.1 303.4,834.5 303.9,834.2 304.4,834.3 304.9,834.6 305.4,835.3 305.9,836.2 306.4,837.3 306.9,838.4 307.4,839.6 307.9,840.8 308.4,841.9 308.9,842.9 309.4,843.7 309.9,844.3 310.4,844.9 310.9,845.3 311.4,845.6 311.9,845.8 312.4,845.9 312.9,846.0 313.4,846.1 313.9,846.1 314.4,846.2 314.9,846.2 315.4,846.2 315.9,846.2 316.4,846.2 316.9,846.2 317.4,846.2 317.9,846.2 318.4,846.2 318.9,846.2 319.4,846.2 319.9,846.2 320.4,846.2 320.9,846.2 321.4,846.2 321.9,846.2 322.4,846.2 322.9,846.2 323.4,846.2 323.9,846.2 324.4,846.2 324.9,846.1 325.4,846.1 325.9,846.0 326.4,845.8 326.9,845.6 327.4,845.3 327.9,844.8 328.4,844.1 328.9,843.2 329.4,842.0 329.9,840.5 330.4,838.6 330.9,836.3 331.4,833.7 331.9,830.9 332.4,828.0 332.9,825.1 333.4,822.5 333.9,820.2 334.4,818.5 334.9,817.5 335.4,817.2 335.9,817.8 336.4,819.1 336.9,821.0 337.4,823.5 337.9,826.3 338.4,829.2 338.9,832.1 339.4,834.8 339.9,837.2 340.4,839.4 340.9,841.1" fill="none" stroke="#e5383c" stroke-width="0.75"/>
<polyline points="260.9,846.2 261.4,846.2 261.9,846.2 262.4,846.2 262.9,846.2 263.4,846.2 263.9,846.2 264.4,846.2 264.9,846.2 265.4,846.2 265.9,846.2 266.4,846.2 266.9,846.2 267.4,846.2 267.9,846.2 268.4,846.1 268.9,846.1 269.4,846.0 269.9,845.8 270.4,845.5 270.9,845.1 271.4,844.5 271.9,843.5 272.4,842.1 272.9,840.3 273.4,837.8 273.9,834.7 274.4,830.9 274.9,826.3 275.4,821.2 275.9,815.7 276.4,810.1 276.9,804.7 277.4,799.8 277.9,795.9 278.4,793.3 278.9,792.2 279.4,792.7 279.9,794.7 280.4,798.1 280.9,802.6 281.4,807.9 281.9,813.4 282.4,819.0 282.9,824.3 283.4,829.1 283.9,833.2 284.4,836.7 284.9,839.4 285.4,841.5 285.9,843.0 286.4,844.1 286.9,844.9 287.4,845.4 287.9,845.7 288.4,845.9 288.9,846.0 289.4,846.1 289.9,846.2 290.4,846.2 290.9,846.2 291.4,846.2 291.9,846.2 292.4,846.1 292.9,846.1 293.4,846.0 293.9,845.9 294.4,845.7 294.9,845.4 295.4,845.0 295.9,844.5 296.4,843.8 296.9,842.8 297.4,841.6 297.9,840.2 298.4,838.6 298.9,836.8 299.4,834.9 299.9,833.1 300.4,831.4 300.9,829.9 301.4,828.9 301.9,828.3 302.4,828.2 302.9,828.7 303.4,829.7 303.9,831.0 304.4,832.7 304.9,834.5 305.4,836.4 305.9,838.2 306.4,839.9 306.9,841.4 307.4,842.6 307.9,843.6 308.4,844.4 308.9,845.0 309.4,845.4 309.9,845.7 310.4,845.9 310.9,846.0 311.4,846.1 311.9,846.1 312.4,846.2 312.9,846.2 313.4,846.2 313.9,846.2 314.4,846.2 314.9,846.2 315.4,846.2 315.9,846.2 316.4,846.2 316.9,846.2 317.4,846.2 317.9,846.2 318.4,846.2 318.9,846.2 319.4,846.2 319.9,846.2 320.4,846.2 320.9,846.2 321.4,846.2 321.9,846.2 322.4,846.2 322.9,846.2 323.4,846.2 323.9,846.2 324.4,846.2 324.9,846.2 325.4,846.2 325.9,846.2 326.4,846.2 326.9,846.2 327.4,846.2 327.9,846.2 328.4,846.2 328.9,846.2 329.4,846.2 329.9,846.2 330.4,846.2 330.9,846.2 331.4,846.2 331.9,846.2 332.4,846.2 332.9,846.2 333.4,846.2 333.9,846.2 334.4,846.2 334.9,846.2 335.4,846.2 335.9,846.2 336.4,846.2 336.9,846.2 337.4,846.2 337.9,846.2 338.4,846.2 338.9,846.2 339.4,846.2 339.9,846.2 340.4,846.2 340.9,846.2" fill="none" stroke="#2a2a2a" stroke-width="0.75"/>
<polyline points="260.9,846.2 261.4,846.2 261.9,846.2 262.4,846.2 262.9,846.2 263.4,846.2 263.9,846.2 264.4,846.2 264.9,846.2 265.4,846.2 265.9,846.2 266.4,846.2 266.9,846.2 267.4,846.2 267.9,846.2 268.4,846.2 268.9,846.2 269.4,846.2 269.9,846.2 270.4,846.2 270.9,846.2 271.4,846.2 271.9,846.2 272.4,846.2 272.9,846.2 273.4,846.2 273.9,846.2 274.4,846.2 274.9,846.2 275.4,846.2 275.9,846.2 276.4,846.2 276.9,846.2 277.4,846.2 277.9,846.2 278.4,846.2 278.9,846.2 279.4,846.2 279.9,846.2 280.4,846.2 280.9,846.2 281.4,846.2 281.9,846.2 282.4,846.2 282.9,846.2 283.4,846.2 283.9,846.2 284.4,846.2 284.9,846.2 285.4,846.2 285.9,846.2 286.4,846.2 286.9,846.2 287.4,846.2 287.9,846.2 288.4,846.2 288.9,846.2 289.4,846.2 289.9,846.2 290.4,846.2 290.9,846.2 291.4,846.2 291.9,846.2 292.4,846.2 292.9,846.2 293.4,846.2 293.9,846.2 294.4,846.2 294.9,846.2 295.4,846.2 295.9,846.2 296.4,846.2 296.9,846.2 297.4,846.2 297.9,846.2 298.4,846.2 298.9,846.2 299.4,846.2 299.9,846.2 300.4,846.2 300.9,846.2 301.4,846.2 301.9,846.2 302.4,846.2 302.9,846.2 303.4,846.2 303.9,846.2 304.4,846.1 304.9,846.1 305.4,846.0 305.9,845.9 306.4,845.7 306.9,845.4 307.4,845.0 307.9,844.4 308.4,843.6 308.9,842.6 309.4,841.2 309.9,839.6 310.4,837.7 310.9,835.6 311.4,833.3 311.9,831.0 312.4,828.9 312.9,826.9 313.4,825.5 313.9,824.5 314.4,824.2 314.9,824.5 315.4,825.3 315.9,826.7 316.4,828.5 316.9,830.4 317.4,832.3 317.9,834.1 318.4,835.4 318.9,836.3 319.4,836.6 319.9,836.2 320.4,835.2 320.9,833.6 321.4,831.5 321.9,829.0 322.4,826.4 322.9,823.8 323.4,821.5 323.9,819.7 324.4,818.6 324.9,818.2 325.4,818.6 325.9,819.8 326.4,821.7 326.9,824.1 327.4,826.9 327.9,829.8 328.4,832.7 328.9,835.4 329.4,837.8 329.9,839.9 330.4,841.6 330.9,842.9 331.4,843.9 331.9,844.7 332.4,845.2 332.9,845.6 333.4,845.8 333.9,845.9 334.4,846.0 334.9,846.0 335.4,846.0 335.9,845.8 336.4,845.7 336.9,845.4 337.4,845.0 337.9,844.5 338.4,843.9 338.9,843.3 339.4,842.6 339.9,841.8 340.4,841.2 340.9,840.7" fill="none" stroke="#4a5ccc" stroke-width="0.75"/>
<rect x="267.1" y="775.8" width="2.6" height="3.2" fill="#e5383c"/>
<text x="268.40" y="784.70" font-size="5.6" fill="#e5383c" text-anchor="middle" font-family="Liberation Mono">T</text>
<rect x="277.6" y="775.8" width="2.6" height="3.2" fill="#2a2a2a"/>
<text x="278.90" y="784.70" font-size="5.6" fill="#2a2a2a" text-anchor="middle" font-family="Liberation Mono">G</text>
<rect x="290.2" y="775.8" width="2.6" height="3.2" fill="#e5383c"/>
<text x="291.50" y="784.70" font-size="5.6" fill="#e5383c" text-anchor="middle" font-family="Liberation Mono">T</text>
<rect x="302.2" y="776.0" width="2.4" height="3.4" fill="#fff" stroke="#aaa" stroke-width="0.5"/>
<text x="303.40" y="784.70" font-size="5.6" fill="#c030c0" text-anchor="middle" font-family="Liberation Mono">N</text>
<rect x="313.1" y="775.8" width="2.6" height="3.2" fill="#4a5ccc"/>
<text x="314.40" y="784.70" font-size="5.6" fill="#4a5ccc" text-anchor="middle" font-family="Liberation Mono">C</text>
<rect x="323.1" y="775.8" width="2.6" height="3.2" fill="#4a5ccc"/>
<text x="324.40" y="784.70" font-size="5.6" fill="#4a5ccc" text-anchor="middle" font-family="Liberation Mono">C</text>
<rect x="334.4" y="775.8" width="2.6" height="3.2" fill="#e5383c"/>
<text x="335.70" y="784.70" font-size="5.6" fill="#e5383c" text-anchor="middle" font-family="Liberation Mono">T</text>
<path d="M303.40,795.40 L303.40,797.50 M303.40,795.40 L301.58,796.45 M303.40,795.40 L301.58,794.35 M303.40,795.40 L303.40,793.30 M303.40,795.40 L305.22,794.35 M303.40,795.40 L305.22,796.45" stroke="#6a6a6a" stroke-width="0.75" fill="none"/>
<text x="207.80" y="859.60" font-size="8.9" fill="#222" text-anchor="start">rs2283197 (C/G)</text>
<text x="273.50" y="859.60" font-size="8.9" fill="#222" text-anchor="start">rs2283196 (G/T)</text>
<path d="M257.70,861.6 L264.60,869.5 M275.30,861.6 L269.40,869.5" stroke="#222" stroke-width="0.8" fill="none"/>
<line x1="221.10000000000002" y1="869.5" x2="296.1" y2="869.5" stroke="#333" stroke-width="1.1"/>
<line x1="205.8" y1="869.8" x2="221.10000000000002" y2="869.8" stroke="#444" stroke-width="0.9" stroke-dasharray="1,1"/>
<line x1="296.1" y1="869.8" x2="313.50000000000006" y2="869.8" stroke="#444" stroke-width="0.9" stroke-dasharray="1,1"/>
<line x1="258.90" y1="867.3" x2="258.90" y2="871.6" stroke="#444" stroke-width="0.8"/>
<text x="203.80" y="872.30" font-size="7.9" fill="#222" text-anchor="end"><tspan font-style="italic">Bgl</tspan>II 51</text>
<text x="314.70" y="872.40" font-size="7.9" fill="#222" text-anchor="start"><tspan font-style="italic">Bgl</tspan>II 32</text>
<text x="237.50" y="878.60" font-size="8.4" fill="#111" text-anchor="end">50R</text>
<path d="M239.50,873.1 L247.10,876.4 L239.50,879.7 Z" fill="#111"/>
<text x="260.40" y="878.20" font-size="7.9" fill="#222" text-anchor="middle"><tspan font-style="italic">Bgl</tspan>II</text>
<path d="M282.70,873.3 L275.70,876.5 L282.70,879.7 Z" fill="#111"/>
<text x="284.40" y="878.70" font-size="8.4" fill="#111" text-anchor="start">31R</text>
<text x="258.90" y="887.00" font-size="8.1" fill="#222" text-anchor="middle">50-31</text>
<text x="347.40" y="768.80" font-size="9.6" fill="#222" text-anchor="start">3C ICR2-CTCF3</text>
<rect x="347.2" y="773.2" width="83" height="74.2" rx="0.8" fill="#fff" stroke="#444" stroke-width="1.1"/>
<polyline points="347.2,830.5 347.7,831.4 348.2,832.8 348.7,834.6 349.2,836.5 349.7,838.4 350.2,840.2 350.7,841.8 351.2,843.0 351.7,844.0 352.2,844.8 352.7,845.3 353.2,845.7 353.7,845.9 354.2,846.0 354.7,846.1 355.2,846.2 355.7,846.2 356.2,846.2 356.7,846.2 357.2,846.2 357.7,846.2 358.2,846.2 358.7,846.2 359.2,846.2 359.7,846.2 360.2,846.2 360.7,846.2 361.2,846.2 361.7,846.2 362.2,846.2 362.7,846.2 363.2,846.2 363.7,846.2 364.2,846.2 364.7,846.2 365.2,846.2 365.7,846.2 366.2,846.2 366.7,846.2 367.2,846.2 367.7,846.2 368.2,846.2 368.7,846.2 369.2,846.2 369.7,846.2 370.2,846.2 370.7,846.2 371.2,846.2 371.7,846.2 372.2,846.2 372.7,846.2 373.2,846.2 373.7,846.2 374.2,846.2 374.7,846.2 375.2,846.2 375.7,846.2 376.2,846.2 376.7,846.2 377.2,846.2 377.7,846.2 378.2,846.2 378.7,846.2 379.2,846.2 379.7,846.2 380.2,846.2 380.7,846.2 381.2,846.2 381.7,846.2 382.2,846.2 382.7,846.2 383.2,846.2 383.7,846.2 384.2,846.2 384.7,846.2 385.2,846.2 385.7,846.2 386.2,846.2 386.7,846.2 387.2,846.2 387.7,846.2 388.2,846.2 388.7,846.2 389.2,846.2 389.7,846.2 390.2,846.2 390.7,846.2 391.2,846.2 391.7,846.2 392.2,846.2 392.7,846.2 393.2,846.2 393.7,846.2 394.2,846.2 394.7,846.2 395.2,846.2 395.7,846.2 396.2,846.2 396.7,846.2 397.2,846.2 397.7,846.2 398.2,846.2 398.7,846.2 399.2,846.2 399.7,846.2 400.2,846.2 400.7,846.2 401.2,846.2 401.7,846.2 402.2,846.2 402.7,846.2 403.2,846.2 403.7,846.2 404.2,846.2 404.7,846.2 405.2,846.2 405.7,846.2 406.2,846.2 406.7,846.2 407.2,846.2 407.7,846.2 408.2,846.2 408.7,846.2 409.2,846.2 409.7,846.2 410.2,846.2 410.7,846.2 411.2,846.2 411.7,846.2 412.2,846.2 412.7,846.2 413.2,846.2 413.7,846.2 414.2,846.2 414.7,846.2 415.2,846.2 415.7,846.2 416.2,846.2 416.7,846.2 417.2,846.2 417.7,846.2 418.2,846.2 418.7,846.2 419.2,846.2 419.7,846.2 420.2,846.2 420.7,846.2 421.2,846.2 421.7,846.2 422.2,846.2 422.7,846.2 423.2,846.2 423.7,846.2 424.2,846.2 424.7,846.2 425.2,846.2 425.7,846.2 426.2,846.2 426.7,846.2 427.2,846.2 427.7,846.2 428.2,846.2 428.7,846.2 429.2,846.2 429.7,846.2 430.2,846.2" fill="none" stroke="#e5383c" stroke-width="0.75"/>
<polyline points="347.2,840.7 347.7,839.1 348.2,837.2 348.7,835.1 349.2,832.8 349.7,830.3 350.2,827.8 350.7,825.5 351.2,823.3 351.7,821.5 352.2,820.2 352.7,819.4 353.2,819.2 353.7,819.6 354.2,820.7 354.7,822.2 355.2,824.1 355.7,826.4 356.2,828.8 356.7,831.3 357.2,833.7 357.7,836.0 358.2,838.0 358.7,839.8 359.2,841.3 359.7,842.5 360.2,843.5 360.7,844.3 361.2,844.9 361.7,845.3 362.2,845.6 362.7,845.8 363.2,846.0 363.7,846.0 364.2,846.1 364.7,846.1 365.2,846.2 365.7,846.2 366.2,846.2 366.7,846.2 367.2,846.2 367.7,846.2 368.2,846.2 368.7,846.2 369.2,846.2 369.7,846.2 370.2,846.2 370.7,846.2 371.2,846.2 371.7,846.2 372.2,846.2 372.7,846.2 373.2,846.2 373.7,846.2 374.2,846.2 374.7,846.2 375.2,846.2 375.7,846.2 376.2,846.2 376.7,846.2 377.2,846.2 377.7,846.2 378.2,846.2 378.7,846.2 379.2,846.1 379.7,846.1 380.2,846.0 380.7,845.9 381.2,845.7 381.7,845.4 382.2,845.1 382.7,844.6 383.2,843.9 383.7,843.0 384.2,841.9 384.7,840.6 385.2,839.1 385.7,837.3 386.2,835.3 386.7,833.3 387.2,831.2 387.7,829.2 388.2,827.4 388.7,825.9 389.2,824.9 389.7,824.3 390.2,824.2 390.7,824.7 391.2,825.7 391.7,827.1 392.2,828.8 392.7,830.8 393.2,832.9 393.7,834.9 394.2,836.9 394.7,838.7 395.2,840.3 395.7,841.7 396.2,842.8 396.7,843.7 397.2,844.4 397.7,845.0 398.2,845.4 398.7,845.7 399.2,845.8 399.7,846.0 400.2,846.1 400.7,846.1 401.2,846.2 401.7,846.2 402.2,846.2 402.7,846.2 403.2,846.2 403.7,846.2 404.2,846.2 404.7,846.2 405.2,846.2 405.7,846.2 406.2,846.2 406.7,846.2 407.2,846.2 407.7,846.2 408.2,846.2 408.7,846.2 409.2,846.2 409.7,846.2 410.2,846.2 410.7,846.2 411.2,846.2 411.7,846.2 412.2,846.2 412.7,846.2 413.2,846.2 413.7,846.2 414.2,846.2 414.7,846.2 415.2,846.2 415.7,846.2 416.2,846.2 416.7,846.2 417.2,846.2 417.7,846.2 418.2,846.2 418.7,846.2 419.2,846.2 419.7,846.2 420.2,846.2 420.7,846.2 421.2,846.2 421.7,846.2 422.2,846.2 422.7,846.2 423.2,846.2 423.7,846.2 424.2,846.2 424.7,846.2 425.2,846.2 425.7,846.2 426.2,846.2 426.7,846.2 427.2,846.2 427.7,846.2 428.2,846.2 428.7,846.2 429.2,846.2 429.7,846.2 430.2,846.2" fill="none" stroke="#2a2a2a" stroke-width="0.75"/>
<polyline points="347.2,846.2 347.7,846.2 348.2,846.2 348.7,846.1 349.2,846.1 349.7,846.0 350.2,846.0 350.7,845.8 351.2,845.7 351.7,845.4 352.2,845.1 352.7,844.7 353.2,844.1 353.7,843.4 354.2,842.4 354.7,841.2 355.2,839.8 355.7,838.1 356.2,836.0 356.7,833.7 357.2,831.0 357.7,828.1 358.2,824.9 358.7,821.6 359.2,818.2 359.7,814.8 360.2,811.5 360.7,808.5 361.2,805.9 361.7,803.7 362.2,802.1 362.7,801.0 363.2,800.6 363.7,800.9 364.2,801.7 364.7,803.1 365.2,804.9 365.7,807.0 366.2,809.3 366.7,811.6 367.2,813.7 367.7,815.7 368.2,817.3 368.7,818.5 369.2,819.2 369.7,819.6 370.2,819.5 370.7,819.0 371.2,818.3 371.7,817.5 372.2,816.5 372.7,815.6 373.2,814.8 373.7,814.3 374.2,814.1 374.7,814.2 375.2,814.7 375.7,815.6 376.2,816.7 376.7,818.1 377.2,819.7 377.7,821.3 378.2,822.8 378.7,824.3 379.2,825.5 379.7,826.4 380.2,827.0 380.7,827.2 381.2,827.1 381.7,826.6 382.2,825.8 382.7,824.8 383.2,823.6 383.7,822.4 384.2,821.2 384.7,820.2 385.2,819.4 385.7,818.9 386.2,818.8 386.7,819.0 387.2,819.7 387.7,820.8 388.2,822.1 388.7,823.8 389.2,825.7 389.7,827.7 390.2,829.8 390.7,831.9 391.2,833.9 391.7,835.8 392.2,837.6 392.7,839.2 393.2,840.6 393.7,841.7 394.2,842.7 394.7,843.5 395.2,844.2 395.7,844.7 396.2,845.1 396.7,845.4 397.2,845.7 397.7,845.8 398.2,845.9 398.7,846.0 399.2,846.1 399.7,846.1 400.2,846.2 400.7,846.2 401.2,846.2 401.7,846.2 402.2,846.2 402.7,846.2 403.2,846.2 403.7,846.2 404.2,846.2 404.7,846.2 405.2,846.2 405.7,846.2 406.2,846.2 406.7,846.2 407.2,846.2 407.7,846.2 408.2,846.2 408.7,846.2 409.2,846.2 409.7,846.2 410.2,846.2 410.7,846.2 411.2,846.2 411.7,846.2 412.2,846.2 412.7,846.2 413.2,846.2 413.7,846.2 414.2,846.2 414.7,846.2 415.2,846.2 415.7,846.2 416.2,846.2 416.7,846.2 417.2,846.2 417.7,846.2 418.2,846.2 418.7,846.2 419.2,846.2 419.7,846.2 420.2,846.2 420.7,846.2 421.2,846.2 421.7,846.2 422.2,846.2 422.7,846.2 423.2,846.2 423.7,846.2 424.2,846.2 424.7,846.2 425.2,846.2 425.7,846.2 426.2,846.2 426.7,846.2 427.2,846.2 427.7,846.2 428.2,846.2 428.7,846.2 429.2,846.2 429.7,846.2 430.2,846.2" fill="none" stroke="#4a5ccc" stroke-width="0.75"/>
<polyline points="347.2,846.2 347.7,846.2 348.2,846.2 348.7,846.2 349.2,846.2 349.7,846.2 350.2,846.2 350.7,846.2 351.2,846.2 351.7,846.2 352.2,846.2 352.7,846.2 353.2,846.2 353.7,846.2 354.2,846.2 354.7,846.2 355.2,846.2 355.7,846.2 356.2,846.2 356.7,846.2 357.2,846.2 357.7,846.2 358.2,846.2 358.7,846.2 359.2,846.2 359.7,846.2 360.2,846.2 360.7,846.2 361.2,846.2 361.7,846.2 362.2,846.2 362.7,846.2 363.2,846.2 363.7,846.2 364.2,846.2 364.7,846.2 365.2,846.2 365.7,846.2 366.2,846.2 366.7,846.2 367.2,846.2 367.7,846.2 368.2,846.2 368.7,846.2 369.2,846.2 369.7,846.2 370.2,846.2 370.7,846.2 371.2,846.2 371.7,846.2 372.2,846.2 372.7,846.2 373.2,846.2 373.7,846.2 374.2,846.2 374.7,846.2 375.2,846.2 375.7,846.2 376.2,846.2 376.7,846.2 377.2,846.2 377.7,846.2 378.2,846.2 378.7,846.2 379.2,846.2 379.7,846.2 380.2,846.2 380.7,846.2 381.2,846.2 381.7,846.2 382.2,846.2 382.7,846.2 383.2,846.2 383.7,846.2 384.2,846.2 384.7,846.2 385.2,846.2 385.7,846.2 386.2,846.2 386.7,846.2 387.2,846.1 387.7,846.1 388.2,846.1 388.7,846.0 389.2,845.9 389.7,845.7 390.2,845.5 390.7,845.2 391.2,844.7 391.7,844.1 392.2,843.4 392.7,842.4 393.2,841.2 393.7,839.7 394.2,837.9 394.7,835.8 395.2,833.4 395.7,830.7 396.2,827.7 396.7,824.6 397.2,821.3 397.7,818.0 398.2,814.9 398.7,812.0 399.2,809.4 399.7,807.3 400.2,805.7 400.7,804.8 401.2,804.5 401.7,804.8 402.2,805.6 402.7,806.9 403.2,808.6 403.7,810.4 404.2,812.3 404.7,814.0 405.2,815.5 405.7,816.6 406.2,817.3 406.7,817.4 407.2,817.1 407.7,816.3 408.2,815.1 408.7,813.7 409.2,812.1 409.7,810.5 410.2,809.1 410.7,807.9 411.2,807.2 411.7,806.9 412.2,807.0 412.7,807.7 413.2,808.8 413.7,810.2 414.2,811.8 414.7,813.4 415.2,815.0 415.7,816.4 416.2,817.4 416.7,818.0 417.2,818.1 417.7,817.6 418.2,816.5 418.7,815.0 419.2,813.1 419.7,810.9 420.2,808.6 420.7,806.4 421.2,804.4 421.7,802.8 422.2,801.6 422.7,801.0 423.2,801.1 423.7,801.7 424.2,802.9 424.7,804.5 425.2,806.5 425.7,808.8 426.2,811.0 426.7,813.2 427.2,815.2 427.7,816.9 428.2,818.2 428.7,819.1 429.2,819.6 429.7,819.7 430.2,819.5" fill="none" stroke="#60bd60" stroke-width="0.75"/>
<rect x="352.5" y="775.8" width="2.6" height="3.2" fill="#2a2a2a"/>
<text x="353.80" y="784.70" font-size="5.6" fill="#2a2a2a" text-anchor="middle" font-family="Liberation Mono">G</text>
<rect x="361.7" y="775.8" width="2.6" height="3.2" fill="#4a5ccc"/>
<text x="363.00" y="784.70" font-size="5.6" fill="#4a5ccc" text-anchor="middle" font-family="Liberation Mono">C</text>
<rect x="373.7" y="775.8" width="2.6" height="3.2" fill="#4a5ccc"/>
<text x="375.00" y="784.70" font-size="5.6" fill="#4a5ccc" text-anchor="middle" font-family="Liberation Mono">C</text>
<rect x="387.5" y="776.0" width="2.4" height="3.4" fill="#fff" stroke="#aaa" stroke-width="0.5"/>
<text x="388.70" y="784.70" font-size="5.6" fill="#c030c0" text-anchor="middle" font-family="Liberation Mono">N</text>
<rect x="399.5" y="775.8" width="2.6" height="3.2" fill="#60bd60"/>
<text x="400.80" y="784.70" font-size="5.6" fill="#60bd60" text-anchor="middle" font-family="Liberation Mono">A</text>
<rect x="410.8" y="775.8" width="2.6" height="3.2" fill="#60bd60"/>
<text x="412.10" y="784.70" font-size="5.6" fill="#60bd60" text-anchor="middle" font-family="Liberation Mono">A</text>
<rect x="421.3" y="775.8" width="2.6" height="3.2" fill="#60bd60"/>
<text x="422.60" y="784.70" font-size="5.6" fill="#60bd60" text-anchor="middle" font-family="Liberation Mono">A</text>
<path d="M388.70,795.40 L388.70,797.50 M388.70,795.40 L386.88,796.45 M388.70,795.40 L386.88,794.35 M388.70,795.40 L388.70,793.30 M388.70,795.40 L390.52,794.35 M388.70,795.40 L390.52,796.45" stroke="#6a6a6a" stroke-width="0.75" fill="none"/>
<rect x="431.7" y="773.2" width="80.3" height="74.2" rx="0.8" fill="#fff" stroke="#444" stroke-width="1.1"/>
<polyline points="431.7,843.6 432.2,842.5 432.7,841.0 433.2,839.1 433.7,836.7 434.2,833.9 434.7,830.7 435.2,827.3 435.7,823.6 436.2,820.1 436.7,816.7 437.2,813.9 437.7,811.8 438.2,810.5 438.7,810.2 439.2,810.9 439.7,812.5 440.2,815.0 440.7,818.0 441.2,821.5 441.7,825.1 442.2,828.7 442.7,832.1 443.2,835.1 443.7,837.7 444.2,839.9 444.7,841.6 445.2,843.0 445.7,844.0 446.2,844.7 446.7,845.3 447.2,845.6 447.7,845.8 448.2,846.0 448.7,846.1 449.2,846.1 449.7,846.2 450.2,846.2 450.7,846.2 451.2,846.1 451.7,846.1 452.2,846.1 452.7,846.0 453.2,845.8 453.7,845.6 454.2,845.2 454.7,844.8 455.2,844.1 455.7,843.2 456.2,842.1 456.7,840.7 457.2,839.1 457.7,837.2 458.2,835.1 458.7,832.9 459.2,830.7 459.7,828.6 460.2,826.8 460.7,825.4 461.2,824.5 461.7,824.2 462.2,824.5 462.7,825.4 463.2,826.8 463.7,828.5 464.2,830.6 464.7,832.7 465.2,834.8 465.7,836.7 466.2,838.4 466.7,839.7 467.2,840.7 467.7,841.2 468.2,841.3 468.7,841.0 469.2,840.4 469.7,839.4 470.2,838.2 470.7,836.9 471.2,835.5 471.7,834.1 472.2,832.9 472.7,832.0 473.2,831.4 473.7,831.2 474.2,831.4 474.7,832.0 475.2,833.0 475.7,834.2 476.2,835.6 476.7,837.1 477.2,838.6 477.7,840.0 478.2,841.3 478.7,842.5 479.2,843.4 479.7,844.2 480.2,844.8 480.7,845.2 481.2,845.5 481.7,845.8 482.2,845.9 482.7,846.0 483.2,846.1 483.7,846.1 484.2,846.2 484.7,846.2 485.2,846.2 485.7,846.2 486.2,846.2 486.7,846.2 487.2,846.2 487.7,846.2 488.2,846.2 488.7,846.2 489.2,846.2 489.7,846.2 490.2,846.2 490.7,846.2 491.2,846.2 491.7,846.2 492.2,846.2 492.7,846.2 493.2,846.2 493.7,846.2 494.2,846.2 494.7,846.1 495.2,846.0 495.7,845.9 496.2,845.8 496.7,845.5 497.2,845.1 497.7,844.5 498.2,843.7 498.7,842.6 499.2,841.1 499.7,839.3 500.2,837.0 500.7,834.3 501.2,831.2 501.7,827.8 502.2,824.3 502.7,820.8 503.2,817.6 503.7,814.8 504.2,812.7 504.7,811.5 505.2,811.2 505.7,811.9 506.2,813.5 506.7,815.8 507.2,818.8 507.7,822.2 508.2,825.7 508.7,829.2 509.2,832.4 509.7,835.4 510.2,837.9 510.7,840.1 511.2,841.8 511.7,843.1" fill="none" stroke="#e5383c" stroke-width="0.75"/>
<polyline points="431.7,846.2 432.2,846.2 432.7,846.2 433.2,846.2 433.7,846.2 434.2,846.2 434.7,846.2 435.2,846.2 435.7,846.2 436.2,846.2 436.7,846.2 437.2,846.2 437.7,846.2 438.2,846.2 438.7,846.1 439.2,846.1 439.7,846.0 440.2,845.8 440.7,845.5 441.2,845.0 441.7,844.3 442.2,843.3 442.7,841.9 443.2,840.0 443.7,837.4 444.2,834.2 444.7,830.3 445.2,825.7 445.7,820.6 446.2,815.2 446.7,809.6 447.2,804.4 447.7,799.8 448.2,796.3 448.7,794.0 449.2,793.2 449.7,794.0 450.2,796.3 450.7,799.8 451.2,804.4 451.7,809.6 452.2,815.2 452.7,820.6 453.2,825.7 453.7,830.3 454.2,834.2 454.7,837.4 455.2,840.0 455.7,841.9 456.2,843.3 456.7,844.3 457.2,845.0 457.7,845.5 458.2,845.8 458.7,846.0 459.2,846.1 459.7,846.1 460.2,846.1 460.7,846.2 461.2,846.2 461.7,846.1 462.2,846.1 462.7,846.0 463.2,845.9 463.7,845.7 464.2,845.4 464.7,845.0 465.2,844.4 465.7,843.7 466.2,842.8 466.7,841.7 467.2,840.3 467.7,838.8 468.2,837.2 468.7,835.5 469.2,833.9 469.7,832.5 470.2,831.3 470.7,830.5 471.2,830.2 471.7,830.4 472.2,831.0 472.7,832.0 473.2,833.3 473.7,834.8 474.2,836.5 474.7,838.2 475.2,839.7 475.7,841.1 476.2,842.4 476.7,843.4 477.2,844.2 477.7,844.8 478.2,845.3 478.7,845.6 479.2,845.8 479.7,846.0 480.2,846.1 480.7,846.1 481.2,846.2 481.7,846.2 482.2,846.2 482.7,846.2 483.2,846.2 483.7,846.2 484.2,846.2 484.7,846.2 485.2,846.2 485.7,846.2 486.2,846.2 486.7,846.2 487.2,846.2 487.7,846.2 488.2,846.2 488.7,846.2 489.2,846.2 489.7,846.2 490.2,846.2 490.7,846.2 491.2,846.2 491.7,846.2 492.2,846.2 492.7,846.2 493.2,846.2 493.7,846.2 494.2,846.2 494.7,846.2 495.2,846.2 495.7,846.2 496.2,846.2 496.7,846.2 497.2,846.2 497.7,846.2 498.2,846.2 498.7,846.2 499.2,846.2 499.7,846.2 500.2,846.2 500.7,846.2 501.2,846.2 501.7,846.2 502.2,846.2 502.7,846.2 503.2,846.2 503.7,846.2 504.2,846.2 504.7,846.2 505.2,846.2 505.7,846.2 506.2,846.2 506.7,846.2 507.2,846.2 507.7,846.2 508.2,846.2 508.7,846.2 509.2,846.2 509.7,846.2 510.2,846.2 510.7,846.2 511.2,846.2 511.7,846.2" fill="none" stroke="#2a2a2a" stroke-width="0.75"/>
<polyline points="431.7,846.2 432.2,846.2 432.7,846.2 433.2,846.2 433.7,846.2 434.2,846.2 434.7,846.2 435.2,846.2 435.7,846.2 436.2,846.2 436.7,846.2 437.2,846.2 437.7,846.2 438.2,846.2 438.7,846.2 439.2,846.2 439.7,846.2 440.2,846.2 440.7,846.2 441.2,846.2 441.7,846.2 442.2,846.2 442.7,846.2 443.2,846.2 443.7,846.2 444.2,846.2 444.7,846.2 445.2,846.2 445.7,846.2 446.2,846.2 446.7,846.2 447.2,846.2 447.7,846.2 448.2,846.2 448.7,846.2 449.2,846.2 449.7,846.2 450.2,846.2 450.7,846.2 451.2,846.2 451.7,846.2 452.2,846.2 452.7,846.2 453.2,846.2 453.7,846.2 454.2,846.2 454.7,846.2 455.2,846.2 455.7,846.2 456.2,846.2 456.7,846.2 457.2,846.2 457.7,846.2 458.2,846.2 458.7,846.2 459.2,846.2 459.7,846.2 460.2,846.2 460.7,846.2 461.2,846.2 461.7,846.2 462.2,846.2 462.7,846.2 463.2,846.2 463.7,846.2 464.2,846.2 464.7,846.2 465.2,846.2 465.7,846.2 466.2,846.2 466.7,846.2 467.2,846.2 467.7,846.2 468.2,846.2 468.7,846.2 469.2,846.2 469.7,846.2 470.2,846.2 470.7,846.2 471.2,846.2 471.7,846.2 472.2,846.2 472.7,846.2 473.2,846.2 473.7,846.1 474.2,846.1 474.7,846.0 475.2,845.9 475.7,845.7 476.2,845.3 476.7,844.8 477.2,844.0 477.7,843.0 478.2,841.6 478.7,839.7 479.2,837.4 479.7,834.7 480.2,831.5 480.7,828.2 481.2,824.7 481.7,821.4 482.2,818.5 482.7,816.2 483.2,814.7 483.7,814.2 484.2,814.6 484.7,816.0 485.2,818.2 485.7,820.9 486.2,823.9 486.7,826.8 487.2,829.5 487.7,831.5 488.2,832.7 488.7,833.0 489.2,832.3 489.7,830.7 490.2,828.1 490.7,824.8 491.2,821.1 491.7,817.1 492.2,813.3 492.7,810.1 493.2,807.7 493.7,806.4 494.2,806.3 494.7,807.4 495.2,809.7 495.7,812.9 496.2,816.8 496.7,821.1 497.2,825.4 497.7,829.5 498.2,833.2 498.7,836.4 499.2,839.1 499.7,841.2 500.2,842.8 500.7,843.9 501.2,844.7 501.7,845.3 502.2,845.6 502.7,845.9 503.2,846.0 503.7,846.1 504.2,846.1 504.7,846.1 505.2,846.1 505.7,846.0 506.2,845.8 506.7,845.5 507.2,845.1 507.7,844.6 508.2,843.8 508.7,842.9 509.2,841.7 509.7,840.4 510.2,838.9 510.7,837.5 511.2,836.2 511.7,835.1" fill="none" stroke="#4a5ccc" stroke-width="0.75"/>
<rect x="437.9" y="775.8" width="2.6" height="3.2" fill="#e5383c"/>
<text x="439.20" y="784.70" font-size="5.6" fill="#e5383c" text-anchor="middle" font-family="Liberation Mono">T</text>
<rect x="448.4" y="775.8" width="2.6" height="3.2" fill="#2a2a2a"/>
<text x="449.70" y="784.70" font-size="5.6" fill="#2a2a2a" text-anchor="middle" font-family="Liberation Mono">G</text>
<rect x="461.0" y="775.8" width="2.6" height="3.2" fill="#e5383c"/>
<text x="462.30" y="784.70" font-size="5.6" fill="#e5383c" text-anchor="middle" font-family="Liberation Mono">T</text>
<rect x="473.0" y="776.0" width="2.4" height="3.4" fill="#fff" stroke="#aaa" stroke-width="0.5"/>
<text x="474.20" y="784.70" font-size="5.6" fill="#c030c0" text-anchor="middle" font-family="Liberation Mono">N</text>
<rect x="483.9" y="775.8" width="2.6" height="3.2" fill="#4a5ccc"/>
<text x="485.20" y="784.70" font-size="5.6" fill="#4a5ccc" text-anchor="middle" font-family="Liberation Mono">C</text>
<rect x="493.9" y="775.8" width="2.6" height="3.2" fill="#4a5ccc"/>
<text x="495.20" y="784.70" font-size="5.6" fill="#4a5ccc" text-anchor="middle" font-family="Liberation Mono">C</text>
<rect x="505.2" y="775.8" width="2.6" height="3.2" fill="#e5383c"/>
<text x="506.50" y="784.70" font-size="5.6" fill="#e5383c" text-anchor="middle" font-family="Liberation Mono">T</text>
<path d="M474.20,795.40 L474.20,797.50 M474.20,795.40 L472.38,796.45 M474.20,795.40 L472.38,794.35 M474.20,795.40 L474.20,793.30 M474.20,795.40 L476.02,794.35 M474.20,795.40 L476.02,796.45" stroke="#6a6a6a" stroke-width="0.75" fill="none"/>
<text x="378.80" y="859.60" font-size="8.9" fill="#222" text-anchor="start">rs2283197 (C/G)</text>
<text x="444.80" y="859.60" font-size="8.9" fill="#222" text-anchor="start">rs2283196 (G/T)</text>
<path d="M429.20,861.6 L436.10,869.5 M446.80,861.6 L440.90,869.5" stroke="#222" stroke-width="0.8" fill="none"/>
<line x1="392.59999999999997" y1="869.5" x2="467.1" y2="869.5" stroke="#333" stroke-width="1.1"/>
<line x1="376.8" y1="869.8" x2="392.59999999999997" y2="869.8" stroke="#444" stroke-width="0.9" stroke-dasharray="1,1"/>
<line x1="467.1" y1="869.8" x2="484.5" y2="869.8" stroke="#444" stroke-width="0.9" stroke-dasharray="1,1"/>
<line x1="430.40" y1="867.3" x2="430.40" y2="871.6" stroke="#444" stroke-width="0.8"/>
<text x="374.80" y="872.30" font-size="7.9" fill="#222" text-anchor="end"><tspan font-style="italic">Bgl</tspan>II 58</text>
<text x="485.70" y="872.40" font-size="7.9" fill="#222" text-anchor="start"><tspan font-style="italic">Bgl</tspan>II 32</text>
<text x="404.30" y="878.60" font-size="8.4" fill="#111" text-anchor="end">57R</text>
<path d="M406.30,873.1 L413.90,876.4 L406.30,879.7 Z" fill="#111"/>
<text x="431.90" y="878.20" font-size="7.9" fill="#222" text-anchor="middle"><tspan font-style="italic">Bgl</tspan>II</text>
<path d="M453.70,873.3 L446.70,876.5 L453.70,879.7 Z" fill="#111"/>
<text x="455.40" y="878.70" font-size="8.4" fill="#111" text-anchor="start">31R</text>
<text x="430.40" y="887.00" font-size="8.1" fill="#222" text-anchor="middle">57-31</text>
<text x="518.60" y="768.80" font-size="9.6" fill="#222" text-anchor="start">3C ICR2-CTCF4</text>
<rect x="518.4" y="773.2" width="83" height="74.2" rx="0.8" fill="#fff" stroke="#444" stroke-width="1.1"/>
<polyline points="518.4,835.4 518.9,836.0 519.4,836.9 519.9,838.1 520.4,839.3 520.9,840.5 521.4,841.7 521.9,842.6 522.4,843.4 522.9,843.9 523.4,844.2 523.9,844.4 524.4,844.5 524.9,844.5 525.4,844.5 525.9,844.4 526.4,844.3 526.9,844.3 527.4,844.3 527.9,844.3 528.4,844.3 528.9,844.3 529.4,844.3 529.9,844.3 530.4,844.3 530.9,844.3 531.4,844.3 531.9,844.3 532.4,844.4 532.9,844.5 533.4,844.6 533.9,844.7 534.4,844.9 534.9,845.0 535.4,845.2 535.9,845.4 536.4,845.5 536.9,845.7 537.4,845.8 537.9,845.9 538.4,846.0 538.9,846.0 539.4,846.1 539.9,846.1 540.4,846.2 540.9,846.2 541.4,846.2 541.9,846.2 542.4,846.2 542.9,846.2 543.4,846.2 543.9,846.2 544.4,846.2 544.9,846.2 545.4,846.2 545.9,846.2 546.4,846.2 546.9,846.2 547.4,846.2 547.9,846.2 548.4,846.2 548.9,846.2 549.4,846.2 549.9,846.2 550.4,846.2 550.9,846.2 551.4,846.2 551.9,846.2 552.4,846.2 552.9,846.2 553.4,846.2 553.9,846.2 554.4,846.2 554.9,846.2 555.4,846.2 555.9,846.2 556.4,846.2 556.9,846.2 557.4,846.2 557.9,846.2 558.4,846.2 558.9,846.2 559.4,846.2 559.9,846.2 560.4,846.2 560.9,846.2 561.4,846.2 561.9,846.2 562.4,846.2 562.9,846.2 563.4,846.2 563.9,846.2 564.4,846.2 564.9,846.2 565.4,846.2 565.9,846.2 566.4,846.2 566.9,846.2 567.4,846.2 567.9,846.2 568.4,846.2 568.9,846.2 569.4,846.2 569.9,846.2 570.4,846.2 570.9,846.2 571.4,846.2 571.9,846.2 572.4,846.2 572.9,846.2 573.4,846.2 573.9,846.2 574.4,846.2 574.9,846.2 575.4,846.2 575.9,846.2 576.4,846.2 576.9,846.2 577.4,846.2 577.9,846.2 578.4,846.2 578.9,846.2 579.4,846.2 579.9,846.2 580.4,846.2 580.9,846.2 581.4,846.2 581.9,846.2 582.4,846.2 582.9,846.2 583.4,846.2 583.9,846.2 584.4,846.2 584.9,846.2 585.4,846.2 585.9,846.2 586.4,846.2 586.9,846.2 587.4,846.2 587.9,846.2 588.4,846.2 588.9,846.2 589.4,846.2 589.9,846.2 590.4,846.2 590.9,846.2 591.4,846.2 591.9,846.2 592.4,846.2 592.9,846.2 593.4,846.2 593.9,846.2 594.4,846.2 594.9,846.2 595.4,846.2 595.9,846.2 596.4,846.2 596.9,846.2 597.4,846.2 597.9,846.2 598.4,846.2 598.9,846.2 599.4,846.2 599.9,846.2 600.4,846.2 600.9,846.2 601.4,846.2" fill="none" stroke="#e5383c" stroke-width="0.75"/>
<polyline points="518.4,838.3 518.9,836.4 519.4,834.2 519.9,831.9 520.4,829.5 520.9,827.1 521.4,825.0 521.9,823.1 522.4,821.6 522.9,820.6 523.4,820.2 523.9,820.4 524.4,821.1 524.9,822.4 525.4,824.2 525.9,826.2 526.4,828.5 526.9,830.9 527.4,833.3 527.9,835.5 528.4,837.6 528.9,839.4 529.4,840.9 529.9,842.2 530.4,843.3 530.9,844.1 531.4,844.7 531.9,845.2 532.4,845.5 532.9,845.8 533.4,845.9 533.9,846.0 534.4,846.1 534.9,846.1 535.4,846.2 535.9,846.2 536.4,846.2 536.9,846.2 537.4,846.2 537.9,846.2 538.4,846.2 538.9,846.2 539.4,846.2 539.9,846.2 540.4,846.2 540.9,846.2 541.4,846.2 541.9,846.2 542.4,846.2 542.9,846.2 543.4,846.2 543.9,846.2 544.4,846.2 544.9,846.2 545.4,846.2 545.9,846.2 546.4,846.2 546.9,846.2 547.4,846.2 547.9,846.2 548.4,846.2 548.9,846.2 549.4,846.2 549.9,846.2 550.4,846.2 550.9,846.2 551.4,846.2 551.9,846.2 552.4,846.2 552.9,846.2 553.4,846.2 553.9,846.2 554.4,846.2 554.9,846.2 555.4,846.2 555.9,846.2 556.4,846.2 556.9,846.2 557.4,846.2 557.9,846.2 558.4,846.2 558.9,846.2 559.4,846.2 559.9,846.2 560.4,846.2 560.9,846.2 561.4,846.2 561.9,846.2 562.4,846.2 562.9,846.2 563.4,846.2 563.9,846.2 564.4,846.2 564.9,846.2 565.4,846.2 565.9,846.2 566.4,846.2 566.9,846.2 567.4,846.2 567.9,846.2 568.4,846.2 568.9,846.2 569.4,846.2 569.9,846.2 570.4,846.2 570.9,846.2 571.4,846.2 571.9,846.2 572.4,846.2 572.9,846.2 573.4,846.2 573.9,846.2 574.4,846.2 574.9,846.2 575.4,846.2 575.9,846.2 576.4,846.2 576.9,846.2 577.4,846.2 577.9,846.2 578.4,846.2 578.9,846.2 579.4,846.2 579.9,846.2 580.4,846.2 580.9,846.2 581.4,846.2 581.9,846.2 582.4,846.2 582.9,846.2 583.4,846.2 583.9,846.2 584.4,846.1 584.9,846.1 585.4,846.1 585.9,846.0 586.4,846.0 586.9,845.9 587.4,845.8 587.9,845.7 588.4,845.5 588.9,845.4 589.4,845.2 589.9,845.0 590.4,844.8 590.9,844.5 591.4,844.3 591.9,844.1 592.4,843.9 592.9,843.8 593.4,843.7 593.9,843.6 594.4,843.6 594.9,843.7 595.4,843.7 595.9,843.9 596.4,844.1 596.9,844.3 597.4,844.5 597.9,844.7 598.4,844.9 598.9,845.1 599.4,845.3 599.9,845.5 600.4,845.7 600.9,845.8 601.4,845.9" fill="none" stroke="#2a2a2a" stroke-width="0.75"/>
<polyline points="518.4,846.2 518.9,846.1 519.4,846.1 519.9,846.1 520.4,846.0 520.9,845.9 521.4,845.8 521.9,845.6 522.4,845.3 522.9,845.0 523.4,844.6 523.9,844.0 524.4,843.3 524.9,842.4 525.4,841.3 525.9,840.1 526.4,838.6 526.9,836.9 527.4,835.0 527.9,832.9 528.4,830.7 528.9,828.3 529.4,826.0 529.9,823.7 530.4,821.5 530.9,819.5 531.4,817.8 531.9,816.5 532.4,815.5 532.9,815.0 533.4,815.0 533.9,815.4 534.4,816.1 534.9,817.3 535.4,818.6 535.9,820.2 536.4,821.7 536.9,823.3 537.4,824.6 537.9,825.7 538.4,826.4 538.9,826.8 539.4,826.7 539.9,826.1 540.4,825.1 540.9,823.6 541.4,821.8 541.9,819.8 542.4,817.6 542.9,815.4 543.4,813.3 543.9,811.4 544.4,809.8 544.9,808.6 545.4,807.9 545.9,807.8 546.4,808.1 546.9,808.9 547.4,810.2 547.9,811.8 548.4,813.6 548.9,815.5 549.4,817.4 549.9,819.2 550.4,820.6 550.9,821.5 551.4,821.9 551.9,821.7 552.4,820.9 552.9,819.4 553.4,817.3 553.9,814.7 554.4,811.6 554.9,808.3 555.4,804.8 555.9,801.4 556.4,798.2 556.9,795.4 557.4,793.2 557.9,791.7 558.4,791.0 558.9,791.2 559.4,792.2 559.9,794.1 560.4,796.7 560.9,799.9 561.4,803.7 561.9,807.7 562.4,812.0 562.9,816.2 563.4,820.4 563.9,824.4 564.4,828.0 564.9,831.3 565.4,834.2 565.9,836.7 566.4,838.8 566.9,840.5 567.4,841.9 567.9,843.0 568.4,843.9 568.9,844.5 569.4,845.0 569.9,845.4 570.4,845.6 570.9,845.8 571.4,845.9 571.9,846.0 572.4,846.1 572.9,846.1 573.4,846.2 573.9,846.2 574.4,846.2 574.9,846.2 575.4,846.2 575.9,846.2 576.4,846.2 576.9,846.2 577.4,846.2 577.9,846.2 578.4,846.2 578.9,846.2 579.4,846.2 579.9,846.2 580.4,846.2 580.9,846.2 581.4,846.2 581.9,846.2 582.4,846.2 582.9,846.2 583.4,846.2 583.9,846.2 584.4,846.2 584.9,846.2 585.4,846.2 585.9,846.2 586.4,846.2 586.9,846.2 587.4,846.2 587.9,846.2 588.4,846.2 588.9,846.2 589.4,846.2 589.9,846.2 590.4,846.2 590.9,846.2 591.4,846.2 591.9,846.2 592.4,846.2 592.9,846.2 593.4,846.2 593.9,846.2 594.4,846.2 594.9,846.2 595.4,846.2 595.9,846.2 596.4,846.2 596.9,846.2 597.4,846.2 597.9,846.2 598.4,846.2 598.9,846.2 599.4,846.2 599.9,846.2 600.4,846.2 600.9,846.2 601.4,846.2" fill="none" stroke="#4a5ccc" stroke-width="0.75"/>
<polyline points="518.4,846.2 518.9,846.2 519.4,846.2 519.9,846.2 520.4,846.2 520.9,846.2 521.4,846.2 521.9,846.2 522.4,846.2 522.9,846.2 523.4,846.2 523.9,846.2 524.4,846.2 524.9,846.2 525.4,846.2 525.9,846.2 526.4,846.2 526.9,846.2 527.4,846.2 527.9,846.2 528.4,846.2 528.9,846.2 529.4,846.2 529.9,846.2 530.4,846.2 530.9,846.2 531.4,846.2 531.9,846.2 532.4,846.2 532.9,846.2 533.4,846.2 533.9,846.2 534.4,846.2 534.9,846.2 535.4,846.2 535.9,846.2 536.4,846.2 536.9,846.2 537.4,846.2 537.9,846.2 538.4,846.2 538.9,846.2 539.4,846.2 539.9,846.2 540.4,846.2 540.9,846.2 541.4,846.2 541.9,846.2 542.4,846.2 542.9,846.2 543.4,846.2 543.9,846.2 544.4,846.2 544.9,846.2 545.4,846.2 545.9,846.2 546.4,846.2 546.9,846.2 547.4,846.2 547.9,846.2 548.4,846.2 548.9,846.2 549.4,846.2 549.9,846.2 550.4,846.2 550.9,846.2 551.4,846.2 551.9,846.2 552.4,846.2 552.9,846.2 553.4,846.2 553.9,846.2 554.4,846.2 554.9,846.2 555.4,846.2 555.9,846.2 556.4,846.2 556.9,846.1 557.4,846.1 557.9,846.0 558.4,846.0 558.9,845.8 559.4,845.7 559.9,845.4 560.4,845.1 560.9,844.6 561.4,844.0 561.9,843.1 562.4,842.1 562.9,840.8 563.4,839.2 563.9,837.3 564.4,835.1 564.9,832.6 565.4,829.7 565.9,826.6 566.4,823.4 566.9,820.0 567.4,816.7 567.9,813.5 568.4,810.6 568.9,808.1 569.4,806.0 569.9,804.6 570.4,803.8 570.9,803.7 571.4,804.2 571.9,805.2 572.4,806.8 572.9,808.7 573.4,810.7 573.9,812.8 574.4,814.7 574.9,816.4 575.4,817.6 575.9,818.3 576.4,818.5 576.9,818.1 577.4,817.2 577.9,815.9 578.4,814.2 578.9,812.3 579.4,810.4 579.9,808.6 580.4,807.0 580.9,805.7 581.4,804.9 581.9,804.6 582.4,804.9 582.9,805.5 583.4,806.6 583.9,808.0 584.4,809.5 584.9,811.0 585.4,812.4 585.9,813.5 586.4,814.3 586.9,814.7 587.4,814.5 587.9,814.0 588.4,813.1 588.9,811.8 589.4,810.5 589.9,809.1 590.4,807.8 590.9,806.7 591.4,806.1 591.9,805.9 592.4,806.2 592.9,807.0 593.4,808.3 593.9,810.1 594.4,812.2 594.9,814.6 595.4,817.0 595.9,819.4 596.4,821.6 596.9,823.5 597.4,825.1 597.9,826.3 598.4,827.1 598.9,827.4 599.4,827.4 599.9,827.1 600.4,826.5 600.9,825.8 601.4,825.1" fill="none" stroke="#60bd60" stroke-width="0.75"/>
<rect x="523.7" y="775.8" width="2.6" height="3.2" fill="#2a2a2a"/>
<text x="525.00" y="784.70" font-size="5.6" fill="#2a2a2a" text-anchor="middle" font-family="Liberation Mono">G</text>
<rect x="532.9" y="775.8" width="2.6" height="3.2" fill="#4a5ccc"/>
<text x="534.20" y="784.70" font-size="5.6" fill="#4a5ccc" text-anchor="middle" font-family="Liberation Mono">C</text>
<rect x="544.9" y="775.8" width="2.6" height="3.2" fill="#4a5ccc"/>
<text x="546.20" y="784.70" font-size="5.6" fill="#4a5ccc" text-anchor="middle" font-family="Liberation Mono">C</text>
<rect x="558.6" y="775.8" width="2.6" height="3.2" fill="#4a5ccc"/>
<text x="559.90" y="784.70" font-size="5.6" fill="#4a5ccc" text-anchor="middle" font-family="Liberation Mono">C</text>
<rect x="570.7" y="775.8" width="2.6" height="3.2" fill="#60bd60"/>
<text x="572.00" y="784.70" font-size="5.6" fill="#60bd60" text-anchor="middle" font-family="Liberation Mono">A</text>
<rect x="582.0" y="775.8" width="2.6" height="3.2" fill="#60bd60"/>
<text x="583.30" y="784.70" font-size="5.6" fill="#60bd60" text-anchor="middle" font-family="Liberation Mono">A</text>
<rect x="592.5" y="775.8" width="2.6" height="3.2" fill="#60bd60"/>
<text x="593.80" y="784.70" font-size="5.6" fill="#60bd60" text-anchor="middle" font-family="Liberation Mono">A</text>
<path d="M559.90,795.40 L559.90,797.50 M559.90,795.40 L558.08,796.45 M559.90,795.40 L558.08,794.35 M559.90,795.40 L559.90,793.30 M559.90,795.40 L561.72,794.35 M559.90,795.40 L561.72,796.45" stroke="#6a6a6a" stroke-width="0.75" fill="none"/>
<rect x="602.9" y="773.2" width="80.3" height="74.2" rx="0.8" fill="#fff" stroke="#444" stroke-width="1.1"/>
<polyline points="602.9,840.3 603.4,838.2 603.9,835.6 604.4,832.7 604.9,829.4 605.4,825.8 605.9,822.2 606.4,818.7 606.9,815.5 607.4,813.0 607.9,811.2 608.4,810.3 608.9,810.4 609.4,811.5 609.9,813.4 610.4,816.1 610.9,819.4 611.4,822.9 611.9,826.5 612.4,830.1 612.9,833.3 613.4,836.2 613.9,838.6 614.4,840.6 614.9,842.2 615.4,843.4 615.9,844.3 616.4,845.0 616.9,845.4 617.4,845.7 617.9,845.9 618.4,846.0 618.9,846.1 619.4,846.1 619.9,846.2 620.4,846.2 620.9,846.2 621.4,846.1 621.9,846.1 622.4,846.1 622.9,846.0 623.4,845.8 623.9,845.6 624.4,845.2 624.9,844.8 625.4,844.1 625.9,843.2 626.4,842.1 626.9,840.7 627.4,839.1 627.9,837.2 628.4,835.1 628.9,832.9 629.4,830.7 629.9,828.6 630.4,826.8 630.9,825.4 631.4,824.5 631.9,824.2 632.4,824.5 632.9,825.4 633.4,826.8 633.9,828.6 634.4,830.7 634.9,832.9 635.4,835.1 635.9,837.2 636.4,839.1 636.9,840.7 637.4,842.1 637.9,843.2 638.4,844.1 638.9,844.7 639.4,845.2 639.9,845.5 640.4,845.6 640.9,845.7 641.4,845.7 641.9,845.7 642.4,845.6 642.9,845.4 643.4,845.3 643.9,845.1 644.4,844.9 644.9,844.8 645.4,844.6 645.9,844.5 646.4,844.4 646.9,844.4 647.4,844.4 647.9,844.5 648.4,844.6 648.9,844.8 649.4,844.9 649.9,845.1 650.4,845.3 650.9,845.4 651.4,845.6 651.9,845.7 652.4,845.8 652.9,845.8 653.4,845.9 653.9,845.8 654.4,845.8 654.9,845.7 655.4,845.6 655.9,845.4 656.4,845.3 656.9,845.1 657.4,844.9 657.9,844.8 658.4,844.6 658.9,844.5 659.4,844.4 659.9,844.4 660.4,844.4 660.9,844.5 661.4,844.6 661.9,844.8 662.4,844.9 662.9,845.1 663.4,845.3 663.9,845.4 664.4,845.6 664.9,845.7 665.4,845.8 665.9,845.8 666.4,845.8 666.9,845.7 667.4,845.5 667.9,845.2 668.4,844.8 668.9,844.1 669.4,843.1 669.9,841.8 670.4,840.1 670.9,837.9 671.4,835.4 671.9,832.4 672.4,829.2 672.9,825.7 673.4,822.2 673.9,818.8 674.4,815.8 674.9,813.5 675.4,811.9 675.9,811.2 676.4,811.5 676.9,812.7 677.4,814.8 677.9,817.6 678.4,820.8 678.9,824.3 679.4,827.8 679.9,831.2 680.4,834.3 680.9,837.0 681.4,839.3 681.9,841.1 682.4,842.6 682.9,843.7" fill="none" stroke="#e5383c" stroke-width="0.75"/>
<polyline points="602.9,846.2 603.4,846.2 603.9,846.2 604.4,846.2 604.9,846.2 605.4,846.2 605.9,846.2 606.4,846.2 606.9,846.2 607.4,846.2 607.9,846.2 608.4,846.2 608.9,846.1 609.4,846.1 609.9,846.0 610.4,845.8 610.9,845.5 611.4,845.1 611.9,844.4 612.4,843.3 612.9,841.8 613.4,839.8 613.9,837.0 614.4,833.5 614.9,829.3 615.4,824.3 615.9,818.7 616.4,812.8 616.9,806.9 617.4,801.5 617.9,796.8 618.4,793.4 618.9,791.5 619.4,791.3 619.9,792.9 620.4,796.0 620.9,800.5 621.4,805.8 621.9,811.6 622.4,817.6 622.9,823.2 623.4,828.3 623.9,832.8 624.4,836.4 624.9,839.3 625.4,841.5 625.9,843.1 626.4,844.2 626.9,844.9 627.4,845.4 627.9,845.8 628.4,846.0 628.9,846.1 629.4,846.1 629.9,846.2 630.4,846.2 630.9,846.2 631.4,846.2 631.9,846.2 632.4,846.1 632.9,846.1 633.4,846.0 633.9,845.9 634.4,845.7 634.9,845.3 635.4,844.8 635.9,844.1 636.4,843.0 636.9,841.6 637.4,839.7 637.9,837.4 638.4,834.5 638.9,831.1 639.4,827.4 639.9,823.4 640.4,819.3 640.9,815.5 641.4,812.1 641.9,809.5 642.4,807.8 642.9,807.2 643.4,807.8 643.9,809.5 644.4,812.1 644.9,815.5 645.4,819.3 645.9,823.4 646.4,827.4 646.9,831.1 647.4,834.5 647.9,837.4 648.4,839.7 648.9,841.6 649.4,843.0 649.9,844.1 650.4,844.8 650.9,845.3 651.4,845.7 651.9,845.9 652.4,846.0 652.9,846.1 653.4,846.1 653.9,846.2 654.4,846.2 654.9,846.2 655.4,846.2 655.9,846.2 656.4,846.2 656.9,846.2 657.4,846.2 657.9,846.2 658.4,846.2 658.9,846.2 659.4,846.2 659.9,846.2 660.4,846.2 660.9,846.2 661.4,846.2 661.9,846.2 662.4,846.2 662.9,846.2 663.4,846.2 663.9,846.2 664.4,846.2 664.9,846.2 665.4,846.2 665.9,846.2 666.4,846.2 666.9,846.2 667.4,846.2 667.9,846.2 668.4,846.2 668.9,846.2 669.4,846.2 669.9,846.2 670.4,846.2 670.9,846.2 671.4,846.2 671.9,846.2 672.4,846.2 672.9,846.2 673.4,846.2 673.9,846.2 674.4,846.2 674.9,846.2 675.4,846.2 675.9,846.2 676.4,846.2 676.9,846.2 677.4,846.2 677.9,846.2 678.4,846.2 678.9,846.2 679.4,846.2 679.9,846.2 680.4,846.2 680.9,846.2 681.4,846.2 681.9,846.2 682.4,846.2 682.9,846.2" fill="none" stroke="#2a2a2a" stroke-width="0.75"/>
<polyline points="602.9,846.2 603.4,846.2 603.9,846.2 604.4,846.2 604.9,846.2 605.4,846.2 605.9,846.2 606.4,846.2 606.9,846.2 607.4,846.2 607.9,846.2 608.4,846.2 608.9,846.2 609.4,846.2 609.9,846.2 610.4,846.2 610.9,846.2 611.4,846.2 611.9,846.2 612.4,846.2 612.9,846.2 613.4,846.2 613.9,846.2 614.4,846.2 614.9,846.2 615.4,846.2 615.9,846.2 616.4,846.2 616.9,846.2 617.4,846.2 617.9,846.2 618.4,846.2 618.9,846.2 619.4,846.2 619.9,846.2 620.4,846.2 620.9,846.2 621.4,846.2 621.9,846.2 622.4,846.2 622.9,846.2 623.4,846.2 623.9,846.2 624.4,846.2 624.9,846.2 625.4,846.2 625.9,846.2 626.4,846.2 626.9,846.2 627.4,846.2 627.9,846.2 628.4,846.2 628.9,846.2 629.4,846.2 629.9,846.2 630.4,846.2 630.9,846.2 631.4,846.2 631.9,846.2 632.4,846.2 632.9,846.2 633.4,846.2 633.9,846.2 634.4,846.2 634.9,846.2 635.4,846.2 635.9,846.2 636.4,846.2 636.9,846.2 637.4,846.2 637.9,846.2 638.4,846.2 638.9,846.2 639.4,846.2 639.9,846.2 640.4,846.2 640.9,846.2 641.4,846.2 641.9,846.2 642.4,846.2 642.9,846.2 643.4,846.2 643.9,846.1 644.4,846.1 644.9,846.0 645.4,845.8 645.9,845.6 646.4,845.2 646.9,844.7 647.4,843.9 647.9,842.9 648.4,841.6 648.9,839.9 649.4,837.8 649.9,835.4 650.4,832.7 650.9,829.8 651.4,826.9 651.9,824.1 652.4,821.7 652.9,819.8 653.4,818.6 653.9,818.2 654.4,818.6 654.9,819.7 655.4,821.5 655.9,823.8 656.4,826.4 656.9,829.0 657.4,831.4 657.9,833.4 658.4,834.9 658.9,835.6 659.4,835.5 659.9,834.6 660.4,832.8 660.9,830.3 661.4,827.2 661.9,823.6 662.4,819.7 662.9,816.0 663.4,812.6 663.9,809.8 664.4,808.0 664.9,807.2 665.4,807.6 665.9,809.0 666.4,811.5 666.9,814.7 667.4,818.5 667.9,822.5 668.4,826.6 668.9,830.4 669.4,833.9 669.9,836.8 670.4,839.3 670.9,841.3 671.4,842.8 671.9,843.9 672.4,844.7 672.9,845.2 673.4,845.6 673.9,845.8 674.4,846.0 674.9,846.1 675.4,846.1 675.9,846.1 676.4,846.1 676.9,846.0 677.4,845.9 677.9,845.6 678.4,845.3 678.9,844.8 679.4,844.2 679.9,843.4 680.4,842.4 680.9,841.3 681.4,840.1 681.9,838.9 682.4,837.8 682.9,837.0" fill="none" stroke="#4a5ccc" stroke-width="0.75"/>
<rect x="609.1" y="775.8" width="2.6" height="3.2" fill="#e5383c"/>
<text x="610.40" y="784.70" font-size="5.6" fill="#e5383c" text-anchor="middle" font-family="Liberation Mono">T</text>
<rect x="619.6" y="775.8" width="2.6" height="3.2" fill="#2a2a2a"/>
<text x="620.90" y="784.70" font-size="5.6" fill="#2a2a2a" text-anchor="middle" font-family="Liberation Mono">G</text>
<rect x="632.2" y="775.8" width="2.6" height="3.2" fill="#e5383c"/>
<text x="633.50" y="784.70" font-size="5.6" fill="#e5383c" text-anchor="middle" font-family="Liberation Mono">T</text>
<rect x="644.1" y="775.8" width="2.6" height="3.2" fill="#2a2a2a"/>
<text x="645.40" y="784.70" font-size="5.6" fill="#2a2a2a" text-anchor="middle" font-family="Liberation Mono">G</text>
<rect x="655.1" y="775.8" width="2.6" height="3.2" fill="#4a5ccc"/>
<text x="656.40" y="784.70" font-size="5.6" fill="#4a5ccc" text-anchor="middle" font-family="Liberation Mono">C</text>
<rect x="665.1" y="775.8" width="2.6" height="3.2" fill="#4a5ccc"/>
<text x="666.40" y="784.70" font-size="5.6" fill="#4a5ccc" text-anchor="middle" font-family="Liberation Mono">C</text>
<rect x="676.4" y="775.8" width="2.6" height="3.2" fill="#e5383c"/>
<text x="677.70" y="784.70" font-size="5.6" fill="#e5383c" text-anchor="middle" font-family="Liberation Mono">T</text>
<path d="M645.40,795.40 L645.40,797.50 M645.40,795.40 L643.58,796.45 M645.40,795.40 L643.58,794.35 M645.40,795.40 L645.40,793.30 M645.40,795.40 L647.22,794.35 M645.40,795.40 L647.22,796.45" stroke="#6a6a6a" stroke-width="0.75" fill="none"/>
<text x="552.20" y="859.60" font-size="8.9" fill="#222" text-anchor="start">rs2283197 (C/G)</text>
<text x="618.60" y="859.60" font-size="8.9" fill="#222" text-anchor="start">rs2283196 (G/T)</text>
<path d="M602.40,861.6 L609.30,869.5 M620.00,861.6 L614.10,869.5" stroke="#222" stroke-width="0.8" fill="none"/>
<line x1="564.6" y1="869.5" x2="640.3" y2="869.5" stroke="#333" stroke-width="1.1"/>
<line x1="550.0" y1="869.8" x2="564.6" y2="869.8" stroke="#444" stroke-width="0.9" stroke-dasharray="1,1"/>
<line x1="640.3" y1="869.8" x2="655.8" y2="869.8" stroke="#444" stroke-width="0.9" stroke-dasharray="1,1"/>
<line x1="603.60" y1="867.3" x2="603.60" y2="871.6" stroke="#444" stroke-width="0.8"/>
<text x="548.00" y="872.30" font-size="7.9" fill="#222" text-anchor="end"><tspan font-style="italic">Bgl</tspan>II 64</text>
<text x="657.00" y="872.40" font-size="7.9" fill="#222" text-anchor="start"><tspan font-style="italic">Bgl</tspan>II 32</text>
<text x="580.50" y="878.60" font-size="8.4" fill="#111" text-anchor="end">63R</text>
<path d="M582.50,873.1 L590.10,876.4 L582.50,879.7 Z" fill="#111"/>
<text x="605.10" y="878.20" font-size="7.9" fill="#222" text-anchor="middle"><tspan font-style="italic">Bgl</tspan>II</text>
<path d="M628.20,873.3 L621.20,876.5 L628.20,879.7 Z" fill="#111"/>
<text x="629.90" y="878.70" font-size="8.4" fill="#111" text-anchor="start">31R</text>
<text x="603.60" y="887.00" font-size="8.1" fill="#222" text-anchor="middle">63-31</text>
</svg>
</body></html>
